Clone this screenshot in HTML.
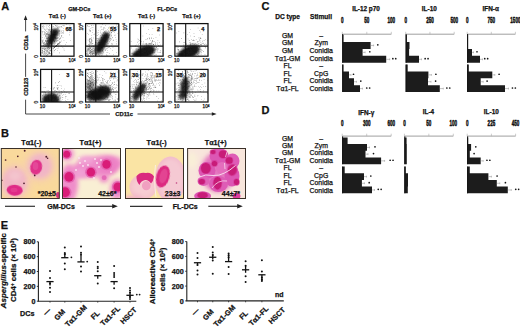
<!DOCTYPE html>
<html><head><meta charset="utf-8"><style>
html,body{margin:0;padding:0;background:#fff;}
body{width:520px;height:327px;overflow:hidden;}
svg{display:block;font-family:"Liberation Sans", sans-serif;}
text{stroke:#111;stroke-width:0.25px;}
</style></head><body>
<svg width="520" height="327" viewBox="0 0 520 327">
<rect width="520" height="327" fill="#fff"/>
<text x="1.30" y="9.90" font-size="11" font-weight="bold" text-anchor="start" fill="#111" >A</text>
<text x="1.00" y="137.00" font-size="11" font-weight="bold" text-anchor="start" fill="#111" >B</text>
<text x="0.80" y="228.80" font-size="11" font-weight="bold" text-anchor="start" fill="#111" >E</text>
<text x="261.60" y="10.30" font-size="11" font-weight="bold" text-anchor="start" fill="#111" >C</text>
<text x="261.60" y="114.20" font-size="11" font-weight="bold" text-anchor="start" fill="#111" >D</text>
<text x="79.30" y="10.80" font-size="5.6" font-weight="bold" text-anchor="middle" fill="#111" >GM-DCs</text>
<text x="167.20" y="10.80" font-size="5.6" font-weight="bold" text-anchor="middle" fill="#111" >FL-DCs</text>
<text x="57.30" y="18.20" font-size="5.6" font-weight="bold" text-anchor="middle" fill="#111" >T&#945;1 (-)</text>
<text x="102.20" y="18.20" font-size="5.6" font-weight="bold" text-anchor="middle" fill="#111" >T&#945;1 (+)</text>
<text x="146.45" y="18.20" font-size="5.6" font-weight="bold" text-anchor="middle" fill="#111" >T&#945;1 (-)</text>
<text x="191.45" y="18.20" font-size="5.6" font-weight="bold" text-anchor="middle" fill="#111" >T&#945;1 (+)</text>
<defs><filter id="sb1" x="-50%" y="-50%" width="200%" height="200%"><feGaussianBlur stdDeviation="0.9"/></filter><filter id="sb2" x="-50%" y="-50%" width="200%" height="200%"><feGaussianBlur stdDeviation="1.8"/></filter><clipPath id="ca00"><rect x="40.6" y="23.6" width="33.40" height="32.60"/></clipPath><clipPath id="ca01"><rect x="85.6" y="23.6" width="33.20" height="32.60"/></clipPath><clipPath id="ca02"><rect x="129.8" y="23.6" width="33.30" height="32.60"/></clipPath><clipPath id="ca03"><rect x="174.9" y="23.6" width="33.10" height="32.60"/></clipPath><clipPath id="ca10"><rect x="40.6" y="69.4" width="33.40" height="32.60"/></clipPath><clipPath id="ca11"><rect x="85.6" y="69.4" width="33.20" height="32.60"/></clipPath><clipPath id="ca12"><rect x="129.8" y="69.4" width="33.30" height="32.60"/></clipPath><clipPath id="ca13"><rect x="174.9" y="69.4" width="33.10" height="32.60"/></clipPath></defs>
<g clip-path="url(#ca00)">
<path d="M49.3 41.0h0.55v0.55h-0.55zM52.9 34.5h0.55v0.55h-0.55zM49.5 33.7h0.55v0.55h-0.55zM55.4 43.4h0.55v0.55h-0.55zM55.8 41.8h0.55v0.55h-0.55zM53.4 39.9h0.55v0.55h-0.55zM41.8 40.5h0.55v0.55h-0.55zM52.5 42.6h0.55v0.55h-0.55zM50.7 31.8h0.55v0.55h-0.55zM54.0 37.8h0.55v0.55h-0.55zM57.4 33.6h0.55v0.55h-0.55zM52.1 41.3h0.55v0.55h-0.55zM42.4 49.7h0.55v0.55h-0.55zM49.8 48.3h0.55v0.55h-0.55zM53.0 30.2h0.55v0.55h-0.55zM51.5 35.9h0.55v0.55h-0.55zM54.1 40.9h0.55v0.55h-0.55zM54.6 28.9h0.55v0.55h-0.55zM45.1 46.0h0.55v0.55h-0.55zM48.0 37.6h0.55v0.55h-0.55zM60.6 26.6h0.55v0.55h-0.55zM47.2 48.0h0.55v0.55h-0.55zM45.3 30.4h0.55v0.55h-0.55zM55.5 30.8h0.55v0.55h-0.55zM54.9 38.1h0.55v0.55h-0.55zM42.8 40.8h0.55v0.55h-0.55zM51.3 46.5h0.55v0.55h-0.55zM57.1 43.6h0.55v0.55h-0.55zM58.5 27.4h0.55v0.55h-0.55zM57.7 34.0h0.55v0.55h-0.55zM55.9 26.4h0.55v0.55h-0.55zM50.6 31.1h0.55v0.55h-0.55zM66.5 24.3h0.55v0.55h-0.55zM45.3 36.1h0.55v0.55h-0.55zM56.2 45.3h0.55v0.55h-0.55zM57.1 32.5h0.55v0.55h-0.55zM43.6 42.7h0.55v0.55h-0.55zM56.5 41.2h0.55v0.55h-0.55zM51.7 41.5h0.55v0.55h-0.55zM56.6 46.0h0.55v0.55h-0.55zM52.4 43.0h0.55v0.55h-0.55zM54.3 43.9h0.55v0.55h-0.55zM46.8 28.0h0.55v0.55h-0.55zM63.7 25.0h0.55v0.55h-0.55zM47.4 45.2h0.55v0.55h-0.55zM55.5 37.6h0.55v0.55h-0.55zM51.1 43.4h0.55v0.55h-0.55zM48.2 46.9h0.55v0.55h-0.55zM51.4 32.7h0.55v0.55h-0.55zM56.8 40.1h0.55v0.55h-0.55zM44.8 43.0h0.55v0.55h-0.55zM60.6 37.3h0.55v0.55h-0.55zM47.2 33.3h0.55v0.55h-0.55zM53.1 34.8h0.55v0.55h-0.55zM62.8 32.5h0.55v0.55h-0.55zM63.2 30.3h0.55v0.55h-0.55zM46.5 40.7h0.55v0.55h-0.55zM53.7 46.9h0.55v0.55h-0.55zM53.4 39.4h0.55v0.55h-0.55zM50.7 42.4h0.55v0.55h-0.55zM50.6 39.3h0.55v0.55h-0.55zM54.9 38.8h0.55v0.55h-0.55zM53.3 43.7h0.55v0.55h-0.55zM59.6 44.6h0.55v0.55h-0.55zM52.3 33.6h0.55v0.55h-0.55zM48.5 44.8h0.55v0.55h-0.55zM49.4 39.8h0.55v0.55h-0.55zM46.7 36.9h0.55v0.55h-0.55zM53.2 40.3h0.55v0.55h-0.55zM47.9 41.7h0.55v0.55h-0.55zM55.9 34.0h0.55v0.55h-0.55zM61.3 45.8h0.55v0.55h-0.55zM50.6 35.5h0.55v0.55h-0.55zM51.8 36.5h0.55v0.55h-0.55zM43.0 27.5h0.55v0.55h-0.55zM61.7 30.5h0.55v0.55h-0.55zM48.2 44.9h0.55v0.55h-0.55zM49.8 51.3h0.55v0.55h-0.55zM46.8 30.9h0.55v0.55h-0.55zM48.4 41.7h0.55v0.55h-0.55zM63.2 28.5h0.55v0.55h-0.55zM61.7 27.2h0.55v0.55h-0.55zM48.2 47.4h0.55v0.55h-0.55zM51.1 38.7h0.55v0.55h-0.55zM55.3 40.4h0.55v0.55h-0.55zM45.6 49.5h0.55v0.55h-0.55zM58.2 37.5h0.55v0.55h-0.55zM69.0 34.6h0.55v0.55h-0.55zM57.5 37.4h0.55v0.55h-0.55zM50.1 43.4h0.55v0.55h-0.55zM50.7 43.1h0.55v0.55h-0.55zM59.2 31.2h0.55v0.55h-0.55zM54.7 46.3h0.55v0.55h-0.55zM62.7 33.4h0.55v0.55h-0.55zM57.3 28.4h0.55v0.55h-0.55zM49.0 51.9h0.55v0.55h-0.55zM42.1 47.9h0.55v0.55h-0.55zM57.4 38.3h0.55v0.55h-0.55zM54.6 32.5h0.55v0.55h-0.55zM52.5 41.7h0.55v0.55h-0.55zM63.2 32.8h0.55v0.55h-0.55zM51.0 51.9h0.55v0.55h-0.55zM59.4 39.3h0.55v0.55h-0.55zM45.0 43.9h0.55v0.55h-0.55zM52.5 38.7h0.55v0.55h-0.55zM59.6 38.6h0.55v0.55h-0.55zM44.4 29.2h0.55v0.55h-0.55zM56.4 33.4h0.55v0.55h-0.55zM48.9 44.1h0.55v0.55h-0.55zM47.2 48.2h0.55v0.55h-0.55zM47.8 45.6h0.55v0.55h-0.55zM52.0 53.7h0.55v0.55h-0.55zM45.9 43.0h0.55v0.55h-0.55zM49.1 24.7h0.55v0.55h-0.55zM47.3 34.6h0.55v0.55h-0.55zM51.8 36.8h0.55v0.55h-0.55zM49.0 38.0h0.55v0.55h-0.55zM59.9 41.9h0.55v0.55h-0.55zM50.5 46.6h0.55v0.55h-0.55zM57.0 27.0h0.55v0.55h-0.55zM45.6 44.8h0.55v0.55h-0.55zM48.0 29.0h0.55v0.55h-0.55zM53.4 46.1h0.55v0.55h-0.55zM49.1 43.9h0.55v0.55h-0.55zM58.2 28.5h0.55v0.55h-0.55zM48.6 28.9h0.55v0.55h-0.55zM58.8 35.1h0.55v0.55h-0.55zM51.9 29.3h0.55v0.55h-0.55zM46.5 33.1h0.55v0.55h-0.55zM46.0 37.7h0.55v0.55h-0.55zM56.7 36.9h0.55v0.55h-0.55zM46.7 25.5h0.55v0.55h-0.55zM55.7 34.5h0.55v0.55h-0.55zM52.6 45.2h0.55v0.55h-0.55zM53.9 41.6h0.55v0.55h-0.55zM55.4 45.7h0.55v0.55h-0.55zM50.8 49.9h0.55v0.55h-0.55zM53.2 33.1h0.55v0.55h-0.55zM68.2 27.9h0.55v0.55h-0.55zM45.7 40.9h0.55v0.55h-0.55zM61.0 40.8h0.55v0.55h-0.55zM51.1 45.9h0.55v0.55h-0.55zM49.0 34.8h0.55v0.55h-0.55zM50.3 44.7h0.55v0.55h-0.55zM53.2 35.9h0.55v0.55h-0.55zM49.7 32.4h0.55v0.55h-0.55zM55.8 40.3h0.55v0.55h-0.55zM52.4 28.9h0.55v0.55h-0.55zM59.0 52.6h0.55v0.55h-0.55zM53.1 42.7h0.55v0.55h-0.55zM57.8 44.7h0.55v0.55h-0.55zM50.0 41.5h0.55v0.55h-0.55zM56.8 32.7h0.55v0.55h-0.55zM50.5 54.9h0.55v0.55h-0.55zM49.4 29.0h0.55v0.55h-0.55zM53.0 39.6h0.55v0.55h-0.55zM54.9 28.9h0.55v0.55h-0.55zM57.1 50.5h0.55v0.55h-0.55zM55.5 49.2h0.55v0.55h-0.55zM56.8 48.0h0.55v0.55h-0.55zM47.7 37.6h0.55v0.55h-0.55zM46.5 26.7h0.55v0.55h-0.55zM50.0 41.5h0.55v0.55h-0.55zM49.9 34.9h0.55v0.55h-0.55zM52.9 41.5h0.55v0.55h-0.55zM54.3 40.6h0.55v0.55h-0.55zM47.8 43.0h0.55v0.55h-0.55zM56.2 31.0h0.55v0.55h-0.55zM49.8 36.1h0.55v0.55h-0.55zM51.4 38.5h0.55v0.55h-0.55zM51.8 38.9h0.55v0.55h-0.55zM57.2 27.2h0.55v0.55h-0.55zM49.8 46.8h0.55v0.55h-0.55zM55.1 37.0h0.55v0.55h-0.55zM58.5 30.8h0.55v0.55h-0.55zM44.2 33.7h0.55v0.55h-0.55zM45.4 41.3h0.55v0.55h-0.55zM41.4 47.7h0.55v0.55h-0.55zM56.7 25.8h0.55v0.55h-0.55zM47.1 39.9h0.55v0.55h-0.55zM53.9 40.0h0.55v0.55h-0.55zM55.8 46.5h0.55v0.55h-0.55zM49.9 42.2h0.55v0.55h-0.55zM55.4 48.9h0.55v0.55h-0.55zM61.4 31.2h0.55v0.55h-0.55zM48.8 43.0h0.55v0.55h-0.55zM46.7 45.3h0.55v0.55h-0.55zM51.2 46.1h0.55v0.55h-0.55zM58.7 38.6h0.55v0.55h-0.55zM47.4 43.7h0.55v0.55h-0.55zM56.6 39.8h0.55v0.55h-0.55zM46.8 36.4h0.55v0.55h-0.55zM49.2 47.3h0.55v0.55h-0.55zM55.7 39.5h0.55v0.55h-0.55zM53.8 43.7h0.55v0.55h-0.55zM53.1 38.4h0.55v0.55h-0.55zM48.6 42.4h0.55v0.55h-0.55zM50.7 30.1h0.55v0.55h-0.55zM58.7 25.9h0.55v0.55h-0.55zM47.2 40.5h0.55v0.55h-0.55zM55.1 38.3h0.55v0.55h-0.55zM57.5 25.7h0.55v0.55h-0.55zM58.1 45.7h0.55v0.55h-0.55zM60.9 33.0h0.55v0.55h-0.55zM51.9 46.7h0.55v0.55h-0.55zM44.7 32.8h0.55v0.55h-0.55zM62.6 24.9h0.55v0.55h-0.55zM49.3 24.9h0.55v0.55h-0.55zM55.8 24.9h0.55v0.55h-0.55zM51.6 39.6h0.55v0.55h-0.55zM52.2 44.5h0.55v0.55h-0.55zM53.9 50.1h0.55v0.55h-0.55zM49.1 30.5h0.55v0.55h-0.55zM52.6 26.6h0.55v0.55h-0.55zM52.1 37.4h0.55v0.55h-0.55zM61.3 26.0h0.55v0.55h-0.55zM47.4 34.5h0.55v0.55h-0.55zM53.0 34.6h0.55v0.55h-0.55zM55.4 31.3h0.55v0.55h-0.55zM54.0 41.9h0.55v0.55h-0.55zM55.0 32.0h0.55v0.55h-0.55zM48.2 35.6h0.55v0.55h-0.55zM45.3 35.7h0.55v0.55h-0.55zM58.9 26.9h0.55v0.55h-0.55zM52.8 34.4h0.55v0.55h-0.55zM51.9 43.4h0.55v0.55h-0.55zM55.9 30.7h0.55v0.55h-0.55zM52.2 36.7h0.55v0.55h-0.55zM54.4 41.5h0.55v0.55h-0.55zM55.2 25.1h0.55v0.55h-0.55zM54.0 30.8h0.55v0.55h-0.55zM48.3 34.1h0.55v0.55h-0.55zM50.0 37.2h0.55v0.55h-0.55zM56.5 35.4h0.55v0.55h-0.55zM63.7 40.2h0.55v0.55h-0.55zM56.7 40.9h0.55v0.55h-0.55zM48.3 37.8h0.55v0.55h-0.55zM48.5 48.4h0.55v0.55h-0.55zM51.7 46.8h0.55v0.55h-0.55zM55.3 37.4h0.55v0.55h-0.55zM59.2 30.1h0.55v0.55h-0.55zM61.8 32.1h0.55v0.55h-0.55zM44.6 54.9h0.55v0.55h-0.55zM51.5 37.2h0.55v0.55h-0.55zM57.3 40.3h0.55v0.55h-0.55zM48.0 37.7h0.55v0.55h-0.55zM52.0 44.5h0.55v0.55h-0.55zM41.8 49.7h0.55v0.55h-0.55zM59.5 41.4h0.55v0.55h-0.55zM55.4 34.7h0.55v0.55h-0.55zM61.5 35.1h0.55v0.55h-0.55zM57.4 35.2h0.55v0.55h-0.55zM46.5 41.6h0.55v0.55h-0.55zM58.2 40.4h0.55v0.55h-0.55zM46.2 42.4h0.55v0.55h-0.55zM51.0 39.9h0.55v0.55h-0.55zM54.2 49.9h0.55v0.55h-0.55zM49.2 43.8h0.55v0.55h-0.55zM49.9 35.7h0.55v0.55h-0.55zM63.4 30.9h0.55v0.55h-0.55zM59.4 36.5h0.55v0.55h-0.55zM53.6 34.9h0.55v0.55h-0.55zM56.6 28.6h0.55v0.55h-0.55zM58.7 26.1h0.55v0.55h-0.55zM50.9 39.8h0.55v0.55h-0.55zM55.5 36.7h0.55v0.55h-0.55zM48.0 36.7h0.55v0.55h-0.55zM43.8 48.9h0.55v0.55h-0.55zM56.2 38.3h0.55v0.55h-0.55zM53.5 30.9h0.55v0.55h-0.55zM50.0 32.6h0.55v0.55h-0.55zM51.6 42.3h0.55v0.55h-0.55zM46.0 55.5h0.55v0.55h-0.55zM49.5 36.0h0.55v0.55h-0.55zM72.2 29.0h0.55v0.55h-0.55zM49.6 37.7h0.55v0.55h-0.55zM51.4 41.1h0.55v0.55h-0.55zM49.9 39.9h0.55v0.55h-0.55zM49.5 43.7h0.55v0.55h-0.55zM48.2 26.2h0.55v0.55h-0.55zM56.9 29.3h0.55v0.55h-0.55zM45.4 40.1h0.55v0.55h-0.55zM47.1 41.1h0.55v0.55h-0.55zM54.4 41.6h0.55v0.55h-0.55zM55.1 37.8h0.55v0.55h-0.55zM46.7 34.1h0.55v0.55h-0.55zM56.7 34.3h0.55v0.55h-0.55zM48.9 43.2h0.55v0.55h-0.55zM46.1 40.6h0.55v0.55h-0.55zM62.7 37.3h0.55v0.55h-0.55zM53.8 36.6h0.55v0.55h-0.55zM57.7 43.5h0.55v0.55h-0.55zM59.2 34.0h0.55v0.55h-0.55zM52.5 37.4h0.55v0.55h-0.55zM63.7 25.6h0.55v0.55h-0.55zM56.2 38.1h0.55v0.55h-0.55zM52.9 41.4h0.55v0.55h-0.55zM47.0 32.4h0.55v0.55h-0.55zM61.3 36.3h0.55v0.55h-0.55zM53.9 24.4h0.55v0.55h-0.55zM45.9 37.4h0.55v0.55h-0.55zM57.9 44.7h0.55v0.55h-0.55zM53.1 31.0h0.55v0.55h-0.55zM52.4 43.0h0.55v0.55h-0.55zM53.1 25.9h0.55v0.55h-0.55zM52.7 40.1h0.55v0.55h-0.55zM47.8 32.9h0.55v0.55h-0.55zM48.3 39.9h0.55v0.55h-0.55zM52.4 36.6h0.55v0.55h-0.55zM46.6 45.1h0.55v0.55h-0.55zM59.9 37.7h0.55v0.55h-0.55zM59.3 33.4h0.55v0.55h-0.55zM49.6 43.6h0.55v0.55h-0.55zM60.5 37.9h0.55v0.55h-0.55zM51.4 38.9h0.55v0.55h-0.55zM46.1 34.3h0.55v0.55h-0.55zM48.1 38.9h0.55v0.55h-0.55zM51.6 39.7h0.55v0.55h-0.55zM46.4 43.3h0.55v0.55h-0.55zM53.9 32.1h0.55v0.55h-0.55zM61.2 26.1h0.55v0.55h-0.55zM49.7 35.8h0.55v0.55h-0.55zM56.8 38.1h0.55v0.55h-0.55zM56.6 33.0h0.55v0.55h-0.55zM46.8 51.4h0.55v0.55h-0.55zM49.7 36.2h0.55v0.55h-0.55zM48.9 46.0h0.55v0.55h-0.55zM51.7 45.2h0.55v0.55h-0.55zM52.3 40.0h0.55v0.55h-0.55zM54.9 42.5h0.55v0.55h-0.55zM51.8 39.3h0.55v0.55h-0.55zM48.8 45.4h0.55v0.55h-0.55zM46.0 46.2h0.55v0.55h-0.55zM44.3 42.1h0.55v0.55h-0.55zM43.8 52.5h0.55v0.55h-0.55zM46.1 48.5h0.55v0.55h-0.55zM45.4 54.4h0.55v0.55h-0.55zM47.7 47.0h0.55v0.55h-0.55zM48.3 46.9h0.55v0.55h-0.55zM47.6 41.3h0.55v0.55h-0.55zM49.8 50.4h0.55v0.55h-0.55zM47.2 54.2h0.55v0.55h-0.55zM46.7 47.0h0.55v0.55h-0.55zM46.1 46.0h0.55v0.55h-0.55zM47.2 48.5h0.55v0.55h-0.55zM48.4 45.4h0.55v0.55h-0.55zM45.9 33.0h0.55v0.55h-0.55zM44.5 52.7h0.55v0.55h-0.55zM50.7 45.5h0.55v0.55h-0.55zM44.9 53.1h0.55v0.55h-0.55zM51.9 48.3h0.55v0.55h-0.55zM50.3 43.0h0.55v0.55h-0.55zM46.7 47.5h0.55v0.55h-0.55zM54.4 43.3h0.55v0.55h-0.55zM44.0 51.5h0.55v0.55h-0.55zM42.3 51.5h0.55v0.55h-0.55zM48.0 46.1h0.55v0.55h-0.55zM47.9 37.2h0.55v0.55h-0.55zM48.7 37.2h0.55v0.55h-0.55zM43.6 44.1h0.55v0.55h-0.55zM44.6 54.0h0.55v0.55h-0.55zM46.3 45.2h0.55v0.55h-0.55zM46.0 50.6h0.55v0.55h-0.55zM50.3 49.9h0.55v0.55h-0.55zM53.7 34.1h0.55v0.55h-0.55zM45.9 50.9h0.55v0.55h-0.55zM49.4 52.7h0.55v0.55h-0.55zM45.0 40.6h0.55v0.55h-0.55zM46.4 55.2h0.55v0.55h-0.55zM42.2 40.8h0.55v0.55h-0.55zM45.9 34.4h0.55v0.55h-0.55zM45.1 44.9h0.55v0.55h-0.55zM47.6 43.1h0.55v0.55h-0.55zM42.9 45.2h0.55v0.55h-0.55zM45.8 43.3h0.55v0.55h-0.55zM46.0 53.3h0.55v0.55h-0.55zM43.3 45.1h0.55v0.55h-0.55zM43.5 47.8h0.55v0.55h-0.55zM47.8 38.5h0.55v0.55h-0.55zM47.6 47.8h0.55v0.55h-0.55zM50.2 34.9h0.55v0.55h-0.55zM48.8 49.5h0.55v0.55h-0.55zM47.7 51.1h0.55v0.55h-0.55zM50.6 46.4h0.55v0.55h-0.55zM49.1 45.1h0.55v0.55h-0.55zM48.5 42.3h0.55v0.55h-0.55zM47.6 46.9h0.55v0.55h-0.55zM42.0 42.5h0.55v0.55h-0.55zM46.7 54.6h0.55v0.55h-0.55zM47.5 51.7h0.55v0.55h-0.55zM44.6 44.2h0.55v0.55h-0.55zM49.1 48.4h0.55v0.55h-0.55zM45.0 44.0h0.55v0.55h-0.55zM45.1 52.4h0.55v0.55h-0.55zM47.2 39.5h0.55v0.55h-0.55zM47.5 49.3h0.55v0.55h-0.55zM42.5 53.4h0.55v0.55h-0.55zM45.0 45.7h0.55v0.55h-0.55zM43.6 51.1h0.55v0.55h-0.55zM43.7 53.7h0.55v0.55h-0.55zM53.8 30.2h0.55v0.55h-0.55zM44.5 51.5h0.55v0.55h-0.55zM45.7 43.3h0.55v0.55h-0.55zM53.5 48.6h0.55v0.55h-0.55zM44.0 49.0h0.55v0.55h-0.55zM50.4 48.8h0.55v0.55h-0.55zM50.1 53.2h0.55v0.55h-0.55zM43.1 54.0h0.55v0.55h-0.55zM47.7 52.5h0.55v0.55h-0.55zM49.2 53.1h0.55v0.55h-0.55zM49.1 30.8h0.55v0.55h-0.55zM46.6 51.4h0.55v0.55h-0.55zM54.9 41.3h0.55v0.55h-0.55zM44.8 48.3h0.55v0.55h-0.55zM49.1 44.9h0.55v0.55h-0.55zM50.0 42.5h0.55v0.55h-0.55zM46.9 44.3h0.55v0.55h-0.55zM46.6 43.2h0.55v0.55h-0.55zM47.1 44.1h0.55v0.55h-0.55zM46.7 54.9h0.55v0.55h-0.55zM42.6 47.2h0.55v0.55h-0.55zM47.9 51.7h0.55v0.55h-0.55zM44.8 33.3h0.55v0.55h-0.55zM50.4 50.3h0.55v0.55h-0.55zM46.0 46.1h0.55v0.55h-0.55zM46.9 45.0h0.55v0.55h-0.55zM42.4 42.8h0.55v0.55h-0.55zM43.9 43.7h0.55v0.55h-0.55zM41.9 52.5h0.55v0.55h-0.55zM41.4 52.6h0.55v0.55h-0.55zM42.4 50.5h0.55v0.55h-0.55zM50.8 49.4h0.55v0.55h-0.55zM43.4 48.3h0.55v0.55h-0.55zM46.5 35.9h0.55v0.55h-0.55zM43.9 49.1h0.55v0.55h-0.55zM44.4 48.6h0.55v0.55h-0.55zM48.6 53.4h0.55v0.55h-0.55zM49.2 52.1h0.55v0.55h-0.55zM45.0 47.9h0.55v0.55h-0.55zM45.1 45.8h0.55v0.55h-0.55zM45.4 35.9h0.55v0.55h-0.55zM44.8 47.8h0.55v0.55h-0.55zM42.6 47.8h0.55v0.55h-0.55zM47.8 46.8h0.55v0.55h-0.55zM53.3 29.8h0.55v0.55h-0.55zM45.3 35.2h0.55v0.55h-0.55zM47.8 45.9h0.55v0.55h-0.55zM47.9 32.3h0.55v0.55h-0.55zM49.0 50.6h0.55v0.55h-0.55zM46.1 43.9h0.55v0.55h-0.55zM48.2 44.6h0.55v0.55h-0.55zM46.8 44.4h0.55v0.55h-0.55zM46.7 53.3h0.55v0.55h-0.55zM42.9 47.8h0.55v0.55h-0.55zM48.2 49.0h0.55v0.55h-0.55zM42.8 34.6h0.55v0.55h-0.55zM49.2 53.7h0.55v0.55h-0.55zM43.8 43.0h0.55v0.55h-0.55zM49.1 41.6h0.55v0.55h-0.55zM43.6 42.9h0.55v0.55h-0.55zM46.8 42.8h0.55v0.55h-0.55zM50.6 47.5h0.55v0.55h-0.55zM44.0 49.5h0.55v0.55h-0.55zM46.0 45.8h0.55v0.55h-0.55zM47.1 43.2h0.55v0.55h-0.55zM41.6 42.7h0.55v0.55h-0.55zM45.9 48.4h0.55v0.55h-0.55zM47.9 48.8h0.55v0.55h-0.55zM43.2 43.0h0.55v0.55h-0.55zM47.7 51.7h0.55v0.55h-0.55zM45.6 46.8h0.55v0.55h-0.55zM49.3 48.1h0.55v0.55h-0.55zM48.6 52.1h0.55v0.55h-0.55zM44.0 45.5h0.55v0.55h-0.55zM43.2 42.4h0.55v0.55h-0.55zM46.1 52.0h0.55v0.55h-0.55zM50.1 53.7h0.55v0.55h-0.55zM50.2 39.2h0.55v0.55h-0.55zM43.8 51.2h0.55v0.55h-0.55zM51.0 48.7h0.55v0.55h-0.55zM46.5 35.5h0.55v0.55h-0.55zM47.2 38.3h0.55v0.55h-0.55zM49.7 47.1h0.55v0.55h-0.55zM43.9 52.3h0.55v0.55h-0.55zM42.2 41.0h0.55v0.55h-0.55zM45.2 32.0h0.55v0.55h-0.55zM42.3 48.5h0.55v0.55h-0.55zM41.9 41.5h0.55v0.55h-0.55zM49.7 29.1h0.55v0.55h-0.55zM43.5 43.3h0.55v0.55h-0.55zM46.1 44.3h0.55v0.55h-0.55zM48.6 30.1h0.55v0.55h-0.55zM44.4 33.9h0.55v0.55h-0.55zM42.2 51.8h0.55v0.55h-0.55zM48.4 46.5h0.55v0.55h-0.55zM41.9 50.5h0.55v0.55h-0.55zM48.1 38.9h0.55v0.55h-0.55zM48.0 38.6h0.55v0.55h-0.55zM43.7 28.0h0.55v0.55h-0.55zM43.8 26.0h0.55v0.55h-0.55zM44.6 47.6h0.55v0.55h-0.55zM47.6 50.5h0.55v0.55h-0.55zM47.8 32.9h0.55v0.55h-0.55zM46.5 38.1h0.55v0.55h-0.55zM48.4 40.7h0.55v0.55h-0.55zM44.0 44.3h0.55v0.55h-0.55zM49.9 31.4h0.55v0.55h-0.55zM49.2 25.3h0.55v0.55h-0.55zM44.0 32.0h0.55v0.55h-0.55zM48.0 53.5h0.55v0.55h-0.55zM48.1 34.7h0.55v0.55h-0.55zM49.2 34.8h0.55v0.55h-0.55zM43.8 52.4h0.55v0.55h-0.55zM47.1 45.9h0.55v0.55h-0.55zM47.4 54.6h0.55v0.55h-0.55zM45.7 50.3h0.55v0.55h-0.55zM47.7 50.9h0.55v0.55h-0.55zM45.5 46.8h0.55v0.55h-0.55zM46.6 34.2h0.55v0.55h-0.55zM43.6 43.7h0.55v0.55h-0.55zM42.5 52.5h0.55v0.55h-0.55zM43.0 25.6h0.55v0.55h-0.55zM42.7 53.0h0.55v0.55h-0.55zM44.7 29.1h0.55v0.55h-0.55zM42.0 26.1h0.55v0.55h-0.55zM47.6 44.1h0.55v0.55h-0.55zM47.7 47.2h0.55v0.55h-0.55zM42.4 42.8h0.55v0.55h-0.55zM44.9 49.7h0.55v0.55h-0.55zM48.7 51.9h0.55v0.55h-0.55zM42.4 51.2h0.55v0.55h-0.55zM49.5 53.5h0.55v0.55h-0.55zM42.7 31.1h0.55v0.55h-0.55zM42.7 25.8h0.55v0.55h-0.55zM48.9 49.5h0.55v0.55h-0.55zM47.1 49.9h0.55v0.55h-0.55zM47.1 33.5h0.55v0.55h-0.55zM42.6 27.8h0.55v0.55h-0.55zM48.2 31.0h0.55v0.55h-0.55zM44.5 37.7h0.55v0.55h-0.55zM42.0 32.6h0.55v0.55h-0.55zM44.2 46.6h0.55v0.55h-0.55zM44.9 34.6h0.55v0.55h-0.55zM49.9 40.1h0.55v0.55h-0.55zM49.0 43.6h0.55v0.55h-0.55zM42.1 37.4h0.55v0.55h-0.55zM45.5 48.3h0.55v0.55h-0.55zM44.7 46.2h0.55v0.55h-0.55zM46.3 31.4h0.55v0.55h-0.55zM49.0 27.6h0.55v0.55h-0.55zM48.7 30.0h0.55v0.55h-0.55zM41.8 30.9h0.55v0.55h-0.55zM48.2 54.5h0.55v0.55h-0.55zM41.8 39.7h0.55v0.55h-0.55zM45.9 49.0h0.55v0.55h-0.55zM43.3 39.8h0.55v0.55h-0.55zM44.7 50.1h0.55v0.55h-0.55zM44.0 53.5h0.55v0.55h-0.55zM44.2 31.3h0.55v0.55h-0.55zM47.7 39.9h0.55v0.55h-0.55zM45.3 44.2h0.55v0.55h-0.55zM44.3 48.8h0.55v0.55h-0.55zM63.7 48.7h0.55v0.55h-0.55zM61.5 35.6h0.55v0.55h-0.55zM54.4 36.8h0.55v0.55h-0.55zM69.8 27.4h0.55v0.55h-0.55zM69.7 25.6h0.55v0.55h-0.55zM48.3 32.8h0.55v0.55h-0.55zM70.1 40.0h0.55v0.55h-0.55zM53.7 51.7h0.55v0.55h-0.55zM49.1 38.8h0.55v0.55h-0.55zM58.5 47.7h0.55v0.55h-0.55zM65.4 44.4h0.55v0.55h-0.55zM52.7 34.7h0.55v0.55h-0.55zM46.7 50.4h0.55v0.55h-0.55zM62.6 47.4h0.55v0.55h-0.55zM47.1 38.1h0.55v0.55h-0.55zM66.1 42.4h0.55v0.55h-0.55zM45.8 38.8h0.55v0.55h-0.55zM69.6 32.0h0.55v0.55h-0.55zM47.8 34.0h0.55v0.55h-0.55zM63.9 50.4h0.55v0.55h-0.55zM46.7 29.5h0.55v0.55h-0.55zM49.6 34.7h0.55v0.55h-0.55zM58.2 29.7h0.55v0.55h-0.55z" fill="#222" fill-opacity="0.7"/>
<ellipse cx="52.5" cy="37.2" rx="3.9" ry="7.8" transform="rotate(28 52.5 37.2)" fill="#111" fill-opacity="0.97" filter="url(#sb1)"/>
<ellipse cx="55.2" cy="31.6" rx="4.2" ry="3.0" transform="rotate(0 55.2 31.6)" fill="#111" fill-opacity="0.75" filter="url(#sb1)"/>
<ellipse cx="49.2" cy="44" rx="2.4" ry="3.0" transform="rotate(20 49.2 44)" fill="#111" fill-opacity="0.7" filter="url(#sb1)"/>
</g>
<line x1="53.5" y1="48.2" x2="60.4" y2="42.2" stroke="#222" stroke-width="0.8"/>
<rect x="40.6" y="23.6" width="33.40" height="32.60" fill="none" stroke="#111" stroke-width="1.25"/>
<line x1="51.6" y1="23.6" x2="51.6" y2="56.2" stroke="#111" stroke-width="1.1"/>
<line x1="40.6" y1="46.1" x2="74.0" y2="46.1" stroke="#111" stroke-width="1.1"/>
<text x="68.50" y="31.20" font-size="5.6" font-weight="bold" text-anchor="middle" fill="#111" >68</text>
<text transform="translate(37.60,26.90) rotate(-90)" font-size="4.9" font-weight="normal" text-anchor="middle" fill="#111">10<tspan font-size="3.2" dy="-1.7">4</tspan></text>
<text transform="translate(37.80,56.40) rotate(-90)" font-size="4.9" font-weight="normal" text-anchor="middle" fill="#111">0</text>
<text x="42.40" y="62.40" font-size="4.7" font-weight="normal" text-anchor="middle" fill="#111" >10</text>
<text x="72.00" y="62.40" font-size="4.7" text-anchor="middle" fill="#111">10<tspan font-size="3.0" dy="-1.7">4</tspan></text>
<g clip-path="url(#ca01)">
<path d="M97.8 48.1h0.55v0.55h-0.55zM111.0 43.5h0.55v0.55h-0.55zM102.5 50.8h0.55v0.55h-0.55zM111.4 44.7h0.55v0.55h-0.55zM108.2 30.5h0.55v0.55h-0.55zM102.4 48.4h0.55v0.55h-0.55zM100.6 43.9h0.55v0.55h-0.55zM90.1 50.7h0.55v0.55h-0.55zM107.2 29.3h0.55v0.55h-0.55zM104.0 31.6h0.55v0.55h-0.55zM91.1 49.5h0.55v0.55h-0.55zM109.8 38.2h0.55v0.55h-0.55zM100.3 30.8h0.55v0.55h-0.55zM97.7 44.8h0.55v0.55h-0.55zM112.5 26.1h0.55v0.55h-0.55zM113.6 31.3h0.55v0.55h-0.55zM104.5 31.4h0.55v0.55h-0.55zM92.5 55.6h0.55v0.55h-0.55zM102.7 51.1h0.55v0.55h-0.55zM113.0 26.2h0.55v0.55h-0.55zM103.4 35.2h0.55v0.55h-0.55zM95.2 45.8h0.55v0.55h-0.55zM103.4 32.9h0.55v0.55h-0.55zM109.0 32.1h0.55v0.55h-0.55zM89.5 38.1h0.55v0.55h-0.55zM106.1 48.6h0.55v0.55h-0.55zM110.1 40.3h0.55v0.55h-0.55zM102.6 53.5h0.55v0.55h-0.55zM98.1 34.4h0.55v0.55h-0.55zM96.9 38.0h0.55v0.55h-0.55zM111.3 32.1h0.55v0.55h-0.55zM90.4 51.1h0.55v0.55h-0.55zM100.0 45.0h0.55v0.55h-0.55zM96.0 53.2h0.55v0.55h-0.55zM106.6 45.9h0.55v0.55h-0.55zM92.2 47.5h0.55v0.55h-0.55zM96.7 48.3h0.55v0.55h-0.55zM110.2 40.2h0.55v0.55h-0.55zM97.6 46.0h0.55v0.55h-0.55zM112.5 29.1h0.55v0.55h-0.55zM95.5 42.3h0.55v0.55h-0.55zM92.0 53.0h0.55v0.55h-0.55zM115.7 25.9h0.55v0.55h-0.55zM97.9 42.4h0.55v0.55h-0.55zM101.2 39.6h0.55v0.55h-0.55zM109.3 34.7h0.55v0.55h-0.55zM108.3 36.6h0.55v0.55h-0.55zM96.9 47.1h0.55v0.55h-0.55zM98.3 44.3h0.55v0.55h-0.55zM109.4 46.6h0.55v0.55h-0.55zM97.5 50.3h0.55v0.55h-0.55zM94.5 53.6h0.55v0.55h-0.55zM93.2 46.3h0.55v0.55h-0.55zM104.9 32.5h0.55v0.55h-0.55zM115.3 37.3h0.55v0.55h-0.55zM106.4 53.9h0.55v0.55h-0.55zM114.6 35.1h0.55v0.55h-0.55zM102.7 40.8h0.55v0.55h-0.55zM112.3 50.2h0.55v0.55h-0.55zM104.3 34.6h0.55v0.55h-0.55zM102.5 47.2h0.55v0.55h-0.55zM98.3 47.0h0.55v0.55h-0.55zM114.8 34.8h0.55v0.55h-0.55zM103.0 27.2h0.55v0.55h-0.55zM97.2 35.2h0.55v0.55h-0.55zM89.5 46.6h0.55v0.55h-0.55zM100.8 37.8h0.55v0.55h-0.55zM99.5 48.6h0.55v0.55h-0.55zM100.9 41.9h0.55v0.55h-0.55zM99.4 42.5h0.55v0.55h-0.55zM96.9 40.4h0.55v0.55h-0.55zM96.8 32.6h0.55v0.55h-0.55zM110.5 47.9h0.55v0.55h-0.55zM95.4 42.4h0.55v0.55h-0.55zM94.9 48.9h0.55v0.55h-0.55zM104.8 42.3h0.55v0.55h-0.55zM104.7 28.4h0.55v0.55h-0.55zM107.0 48.4h0.55v0.55h-0.55zM97.9 39.0h0.55v0.55h-0.55zM104.4 41.3h0.55v0.55h-0.55zM109.3 26.7h0.55v0.55h-0.55zM94.2 50.1h0.55v0.55h-0.55zM96.6 35.5h0.55v0.55h-0.55zM97.6 54.6h0.55v0.55h-0.55zM94.0 46.4h0.55v0.55h-0.55zM108.5 35.3h0.55v0.55h-0.55zM109.9 33.7h0.55v0.55h-0.55zM99.1 40.4h0.55v0.55h-0.55zM91.2 34.9h0.55v0.55h-0.55zM96.1 49.9h0.55v0.55h-0.55zM93.3 55.5h0.55v0.55h-0.55zM105.1 25.3h0.55v0.55h-0.55zM107.0 50.5h0.55v0.55h-0.55zM111.5 35.6h0.55v0.55h-0.55zM104.5 47.3h0.55v0.55h-0.55zM105.2 44.3h0.55v0.55h-0.55zM111.6 38.2h0.55v0.55h-0.55zM112.0 37.1h0.55v0.55h-0.55zM103.4 29.7h0.55v0.55h-0.55zM108.0 27.4h0.55v0.55h-0.55zM104.9 34.9h0.55v0.55h-0.55zM105.7 30.6h0.55v0.55h-0.55zM105.4 37.5h0.55v0.55h-0.55zM101.5 45.5h0.55v0.55h-0.55zM104.8 32.5h0.55v0.55h-0.55zM115.2 26.9h0.55v0.55h-0.55zM101.1 37.6h0.55v0.55h-0.55zM95.2 52.7h0.55v0.55h-0.55zM94.9 52.1h0.55v0.55h-0.55zM105.3 50.2h0.55v0.55h-0.55zM103.9 45.0h0.55v0.55h-0.55zM111.8 30.2h0.55v0.55h-0.55zM109.8 38.9h0.55v0.55h-0.55zM106.3 45.8h0.55v0.55h-0.55zM108.3 43.6h0.55v0.55h-0.55zM99.3 44.2h0.55v0.55h-0.55zM103.8 35.5h0.55v0.55h-0.55zM102.1 44.3h0.55v0.55h-0.55zM108.9 46.6h0.55v0.55h-0.55zM102.3 44.3h0.55v0.55h-0.55zM106.2 34.1h0.55v0.55h-0.55zM106.0 35.3h0.55v0.55h-0.55zM106.6 52.2h0.55v0.55h-0.55zM104.7 37.8h0.55v0.55h-0.55zM104.4 27.4h0.55v0.55h-0.55zM89.2 43.5h0.55v0.55h-0.55zM103.2 40.8h0.55v0.55h-0.55zM108.1 47.4h0.55v0.55h-0.55zM105.4 38.8h0.55v0.55h-0.55zM100.8 42.0h0.55v0.55h-0.55zM92.9 51.1h0.55v0.55h-0.55zM93.0 45.5h0.55v0.55h-0.55zM92.0 52.3h0.55v0.55h-0.55zM103.8 32.5h0.55v0.55h-0.55zM89.9 52.1h0.55v0.55h-0.55zM113.3 39.8h0.55v0.55h-0.55zM101.1 37.0h0.55v0.55h-0.55zM92.6 54.0h0.55v0.55h-0.55zM112.3 43.9h0.55v0.55h-0.55zM102.4 35.2h0.55v0.55h-0.55zM88.8 48.1h0.55v0.55h-0.55zM91.5 51.7h0.55v0.55h-0.55zM102.4 24.5h0.55v0.55h-0.55zM108.3 34.7h0.55v0.55h-0.55zM105.9 44.4h0.55v0.55h-0.55zM93.7 46.6h0.55v0.55h-0.55zM107.6 52.3h0.55v0.55h-0.55zM101.4 37.0h0.55v0.55h-0.55zM115.8 28.9h0.55v0.55h-0.55zM99.4 45.8h0.55v0.55h-0.55zM98.5 32.0h0.55v0.55h-0.55zM107.2 40.7h0.55v0.55h-0.55zM102.8 29.4h0.55v0.55h-0.55zM98.7 42.6h0.55v0.55h-0.55zM110.1 31.3h0.55v0.55h-0.55zM107.2 34.8h0.55v0.55h-0.55zM100.2 26.8h0.55v0.55h-0.55zM111.2 35.8h0.55v0.55h-0.55zM95.5 41.6h0.55v0.55h-0.55zM100.0 49.8h0.55v0.55h-0.55zM93.1 51.3h0.55v0.55h-0.55zM94.1 47.8h0.55v0.55h-0.55zM101.9 45.6h0.55v0.55h-0.55zM106.9 44.6h0.55v0.55h-0.55zM102.3 54.8h0.55v0.55h-0.55zM106.4 36.6h0.55v0.55h-0.55zM102.3 34.9h0.55v0.55h-0.55zM101.8 41.8h0.55v0.55h-0.55zM110.9 34.8h0.55v0.55h-0.55zM101.2 37.3h0.55v0.55h-0.55zM109.4 31.5h0.55v0.55h-0.55zM112.9 40.1h0.55v0.55h-0.55zM100.8 45.5h0.55v0.55h-0.55zM99.8 49.6h0.55v0.55h-0.55zM102.8 44.9h0.55v0.55h-0.55zM98.3 30.2h0.55v0.55h-0.55zM88.5 43.9h0.55v0.55h-0.55zM105.0 41.1h0.55v0.55h-0.55zM102.3 34.2h0.55v0.55h-0.55zM105.5 31.7h0.55v0.55h-0.55zM98.9 43.3h0.55v0.55h-0.55zM101.1 45.7h0.55v0.55h-0.55zM96.9 52.7h0.55v0.55h-0.55zM117.6 32.9h0.55v0.55h-0.55zM104.8 40.0h0.55v0.55h-0.55zM113.1 26.4h0.55v0.55h-0.55zM103.7 45.9h0.55v0.55h-0.55zM105.3 33.3h0.55v0.55h-0.55zM101.6 29.1h0.55v0.55h-0.55zM102.4 50.1h0.55v0.55h-0.55zM99.4 48.1h0.55v0.55h-0.55zM99.4 41.9h0.55v0.55h-0.55zM99.4 48.7h0.55v0.55h-0.55zM103.0 40.8h0.55v0.55h-0.55zM105.7 35.1h0.55v0.55h-0.55zM109.3 53.4h0.55v0.55h-0.55zM117.8 28.6h0.55v0.55h-0.55zM100.7 53.4h0.55v0.55h-0.55zM112.8 31.3h0.55v0.55h-0.55zM97.1 43.4h0.55v0.55h-0.55zM110.7 32.4h0.55v0.55h-0.55zM103.2 37.2h0.55v0.55h-0.55zM100.8 46.4h0.55v0.55h-0.55zM108.5 28.2h0.55v0.55h-0.55zM96.0 53.6h0.55v0.55h-0.55zM100.6 50.8h0.55v0.55h-0.55zM109.1 35.2h0.55v0.55h-0.55zM99.1 55.0h0.55v0.55h-0.55zM106.9 55.4h0.55v0.55h-0.55zM104.5 35.1h0.55v0.55h-0.55zM98.2 41.9h0.55v0.55h-0.55zM98.4 49.8h0.55v0.55h-0.55zM112.7 47.5h0.55v0.55h-0.55zM102.7 49.3h0.55v0.55h-0.55zM104.9 40.8h0.55v0.55h-0.55zM106.8 33.1h0.55v0.55h-0.55zM103.4 42.7h0.55v0.55h-0.55zM108.9 33.8h0.55v0.55h-0.55zM102.4 43.1h0.55v0.55h-0.55zM111.4 32.2h0.55v0.55h-0.55zM98.6 54.3h0.55v0.55h-0.55zM107.3 39.8h0.55v0.55h-0.55zM101.7 38.7h0.55v0.55h-0.55zM105.6 35.0h0.55v0.55h-0.55zM103.0 45.6h0.55v0.55h-0.55zM102.8 32.2h0.55v0.55h-0.55zM98.1 49.7h0.55v0.55h-0.55zM103.2 28.5h0.55v0.55h-0.55zM111.9 30.2h0.55v0.55h-0.55zM100.9 46.6h0.55v0.55h-0.55zM108.0 31.0h0.55v0.55h-0.55zM104.2 38.7h0.55v0.55h-0.55zM108.9 34.0h0.55v0.55h-0.55zM117.1 26.6h0.55v0.55h-0.55zM101.7 42.2h0.55v0.55h-0.55zM110.3 38.0h0.55v0.55h-0.55zM108.2 37.5h0.55v0.55h-0.55zM98.1 46.4h0.55v0.55h-0.55zM92.7 51.1h0.55v0.55h-0.55zM107.6 45.7h0.55v0.55h-0.55zM95.1 44.3h0.55v0.55h-0.55zM116.8 24.2h0.55v0.55h-0.55zM90.4 52.1h0.55v0.55h-0.55zM106.3 55.3h0.55v0.55h-0.55zM109.4 41.5h0.55v0.55h-0.55zM97.7 38.5h0.55v0.55h-0.55zM101.9 41.5h0.55v0.55h-0.55zM106.4 42.5h0.55v0.55h-0.55zM100.9 47.6h0.55v0.55h-0.55zM104.0 44.5h0.55v0.55h-0.55zM105.3 35.1h0.55v0.55h-0.55zM107.6 47.3h0.55v0.55h-0.55zM101.0 33.8h0.55v0.55h-0.55zM104.5 37.3h0.55v0.55h-0.55zM114.1 32.2h0.55v0.55h-0.55zM103.8 45.2h0.55v0.55h-0.55zM97.0 40.3h0.55v0.55h-0.55zM99.1 47.8h0.55v0.55h-0.55zM98.7 44.8h0.55v0.55h-0.55zM101.5 26.6h0.55v0.55h-0.55zM106.0 35.9h0.55v0.55h-0.55zM95.0 48.0h0.55v0.55h-0.55zM111.4 32.6h0.55v0.55h-0.55zM108.4 33.0h0.55v0.55h-0.55zM97.4 52.6h0.55v0.55h-0.55zM116.3 24.7h0.55v0.55h-0.55zM105.2 49.6h0.55v0.55h-0.55zM116.0 41.0h0.55v0.55h-0.55zM96.4 54.1h0.55v0.55h-0.55zM103.8 33.2h0.55v0.55h-0.55zM101.3 40.8h0.55v0.55h-0.55zM94.9 45.3h0.55v0.55h-0.55zM104.5 44.6h0.55v0.55h-0.55zM111.9 42.9h0.55v0.55h-0.55zM111.5 39.5h0.55v0.55h-0.55zM104.4 41.0h0.55v0.55h-0.55zM103.9 34.6h0.55v0.55h-0.55zM105.2 33.7h0.55v0.55h-0.55zM96.3 30.8h0.55v0.55h-0.55zM103.2 35.4h0.55v0.55h-0.55zM98.6 38.5h0.55v0.55h-0.55zM107.4 41.6h0.55v0.55h-0.55zM101.4 55.0h0.55v0.55h-0.55zM109.5 41.6h0.55v0.55h-0.55zM95.4 54.5h0.55v0.55h-0.55zM100.8 39.9h0.55v0.55h-0.55zM102.0 47.5h0.55v0.55h-0.55zM95.5 52.7h0.55v0.55h-0.55zM97.5 50.1h0.55v0.55h-0.55zM103.4 52.3h0.55v0.55h-0.55zM112.5 31.4h0.55v0.55h-0.55zM100.3 32.6h0.55v0.55h-0.55zM95.3 43.0h0.55v0.55h-0.55zM103.0 32.4h0.55v0.55h-0.55zM97.2 49.5h0.55v0.55h-0.55zM92.9 50.0h0.55v0.55h-0.55zM106.2 45.5h0.55v0.55h-0.55zM107.9 37.4h0.55v0.55h-0.55zM100.1 35.5h0.55v0.55h-0.55zM101.6 46.4h0.55v0.55h-0.55zM93.6 47.9h0.55v0.55h-0.55zM94.2 52.5h0.55v0.55h-0.55zM92.9 52.8h0.55v0.55h-0.55zM96.5 49.3h0.55v0.55h-0.55zM92.8 54.0h0.55v0.55h-0.55zM92.8 46.6h0.55v0.55h-0.55zM90.6 44.4h0.55v0.55h-0.55zM91.2 46.5h0.55v0.55h-0.55zM92.2 44.9h0.55v0.55h-0.55zM92.6 49.9h0.55v0.55h-0.55zM91.2 50.7h0.55v0.55h-0.55zM91.5 45.7h0.55v0.55h-0.55zM87.7 49.2h0.55v0.55h-0.55zM92.5 43.1h0.55v0.55h-0.55zM88.3 48.6h0.55v0.55h-0.55zM87.3 52.3h0.55v0.55h-0.55zM90.5 47.7h0.55v0.55h-0.55zM87.6 54.2h0.55v0.55h-0.55zM88.7 53.3h0.55v0.55h-0.55zM92.6 43.4h0.55v0.55h-0.55zM87.2 51.0h0.55v0.55h-0.55zM92.2 54.1h0.55v0.55h-0.55zM93.8 55.1h0.55v0.55h-0.55zM89.7 50.2h0.55v0.55h-0.55zM93.7 49.3h0.55v0.55h-0.55zM94.7 44.6h0.55v0.55h-0.55zM93.3 50.3h0.55v0.55h-0.55zM92.1 51.1h0.55v0.55h-0.55zM87.2 49.1h0.55v0.55h-0.55zM96.3 47.7h0.55v0.55h-0.55zM86.8 50.5h0.55v0.55h-0.55zM89.6 47.4h0.55v0.55h-0.55zM88.1 55.2h0.55v0.55h-0.55zM89.1 46.6h0.55v0.55h-0.55zM93.8 53.3h0.55v0.55h-0.55zM87.4 54.0h0.55v0.55h-0.55zM94.9 50.0h0.55v0.55h-0.55zM86.4 53.1h0.55v0.55h-0.55zM94.2 50.9h0.55v0.55h-0.55zM92.5 54.1h0.55v0.55h-0.55zM97.5 50.0h0.55v0.55h-0.55zM89.3 50.8h0.55v0.55h-0.55zM95.2 47.2h0.55v0.55h-0.55zM95.6 40.0h0.55v0.55h-0.55zM93.8 48.3h0.55v0.55h-0.55zM92.6 53.8h0.55v0.55h-0.55zM86.9 50.7h0.55v0.55h-0.55zM91.8 53.3h0.55v0.55h-0.55zM87.7 47.0h0.55v0.55h-0.55zM90.3 50.1h0.55v0.55h-0.55zM94.0 51.1h0.55v0.55h-0.55zM93.5 46.6h0.55v0.55h-0.55zM89.9 48.7h0.55v0.55h-0.55zM86.6 51.1h0.55v0.55h-0.55zM87.8 49.1h0.55v0.55h-0.55zM92.5 52.6h0.55v0.55h-0.55zM91.1 49.1h0.55v0.55h-0.55zM92.7 52.4h0.55v0.55h-0.55zM91.5 51.2h0.55v0.55h-0.55zM91.4 47.5h0.55v0.55h-0.55zM90.3 47.3h0.55v0.55h-0.55zM92.3 53.8h0.55v0.55h-0.55zM88.2 49.2h0.55v0.55h-0.55zM87.7 52.2h0.55v0.55h-0.55zM97.9 53.8h0.55v0.55h-0.55zM86.5 53.1h0.55v0.55h-0.55zM91.0 52.2h0.55v0.55h-0.55zM97.2 47.7h0.55v0.55h-0.55zM92.2 47.9h0.55v0.55h-0.55zM91.2 55.0h0.55v0.55h-0.55zM90.5 48.2h0.55v0.55h-0.55zM91.1 53.5h0.55v0.55h-0.55zM89.6 53.0h0.55v0.55h-0.55zM93.9 50.4h0.55v0.55h-0.55zM89.4 50.3h0.55v0.55h-0.55zM87.6 50.2h0.55v0.55h-0.55zM89.9 51.8h0.55v0.55h-0.55zM89.4 53.4h0.55v0.55h-0.55zM92.0 54.0h0.55v0.55h-0.55zM91.1 52.1h0.55v0.55h-0.55zM89.4 47.9h0.55v0.55h-0.55zM93.3 52.7h0.55v0.55h-0.55zM91.9 49.2h0.55v0.55h-0.55zM91.7 48.8h0.55v0.55h-0.55zM88.5 50.9h0.55v0.55h-0.55zM89.2 51.6h0.55v0.55h-0.55zM90.3 48.0h0.55v0.55h-0.55zM94.8 47.9h0.55v0.55h-0.55zM89.2 53.2h0.55v0.55h-0.55zM89.1 49.3h0.55v0.55h-0.55zM92.2 49.5h0.55v0.55h-0.55zM86.6 50.6h0.55v0.55h-0.55zM87.2 54.9h0.55v0.55h-0.55zM88.2 49.6h0.55v0.55h-0.55zM89.9 52.1h0.55v0.55h-0.55zM94.5 54.3h0.55v0.55h-0.55zM88.3 54.6h0.55v0.55h-0.55zM90.6 52.4h0.55v0.55h-0.55zM90.1 53.7h0.55v0.55h-0.55zM94.9 55.5h0.55v0.55h-0.55zM90.3 55.0h0.55v0.55h-0.55zM96.1 47.3h0.55v0.55h-0.55zM96.2 45.7h0.55v0.55h-0.55zM92.9 53.4h0.55v0.55h-0.55zM96.2 52.1h0.55v0.55h-0.55zM89.3 47.8h0.55v0.55h-0.55zM86.6 54.1h0.55v0.55h-0.55zM90.2 48.1h0.55v0.55h-0.55zM92.9 47.9h0.55v0.55h-0.55zM89.5 49.2h0.55v0.55h-0.55zM90.4 44.7h0.55v0.55h-0.55zM92.0 51.3h0.55v0.55h-0.55zM92.2 53.3h0.55v0.55h-0.55zM89.9 54.7h0.55v0.55h-0.55zM93.9 51.8h0.55v0.55h-0.55zM89.6 49.1h0.55v0.55h-0.55zM93.4 46.6h0.55v0.55h-0.55zM90.4 48.0h0.55v0.55h-0.55zM90.9 51.1h0.55v0.55h-0.55zM94.1 45.0h0.55v0.55h-0.55zM90.8 52.2h0.55v0.55h-0.55zM93.9 46.7h0.55v0.55h-0.55zM93.5 51.9h0.55v0.55h-0.55zM95.7 55.6h0.55v0.55h-0.55zM91.0 49.3h0.55v0.55h-0.55zM89.8 47.2h0.55v0.55h-0.55zM90.9 43.5h0.55v0.55h-0.55zM90.7 52.7h0.55v0.55h-0.55zM94.5 49.6h0.55v0.55h-0.55zM95.9 48.4h0.55v0.55h-0.55zM90.5 43.5h0.55v0.55h-0.55zM88.3 47.8h0.55v0.55h-0.55zM96.1 53.1h0.55v0.55h-0.55zM87.2 53.1h0.55v0.55h-0.55zM92.6 50.1h0.55v0.55h-0.55zM91.1 49.8h0.55v0.55h-0.55zM89.1 44.1h0.55v0.55h-0.55zM95.9 49.9h0.55v0.55h-0.55zM88.4 50.2h0.55v0.55h-0.55zM94.1 52.4h0.55v0.55h-0.55zM89.0 52.4h0.55v0.55h-0.55zM90.3 53.0h0.55v0.55h-0.55zM89.6 45.3h0.55v0.55h-0.55zM91.2 54.0h0.55v0.55h-0.55zM87.2 50.6h0.55v0.55h-0.55zM94.0 49.5h0.55v0.55h-0.55zM93.8 55.0h0.55v0.55h-0.55zM87.8 48.4h0.55v0.55h-0.55zM91.7 43.5h0.55v0.55h-0.55zM93.2 53.2h0.55v0.55h-0.55zM89.8 31.1h0.55v0.55h-0.55zM87.3 33.3h0.55v0.55h-0.55zM88.5 46.1h0.55v0.55h-0.55zM90.6 28.2h0.55v0.55h-0.55zM89.5 39.0h0.55v0.55h-0.55zM89.8 29.9h0.55v0.55h-0.55zM87.4 25.1h0.55v0.55h-0.55zM95.1 47.6h0.55v0.55h-0.55zM87.5 46.6h0.55v0.55h-0.55zM95.0 41.9h0.55v0.55h-0.55zM87.7 39.7h0.55v0.55h-0.55zM90.4 30.6h0.55v0.55h-0.55zM91.4 25.1h0.55v0.55h-0.55zM94.5 44.4h0.55v0.55h-0.55zM92.1 53.2h0.55v0.55h-0.55zM92.3 32.4h0.55v0.55h-0.55zM88.9 29.0h0.55v0.55h-0.55zM87.0 48.3h0.55v0.55h-0.55zM93.9 33.8h0.55v0.55h-0.55zM88.4 44.2h0.55v0.55h-0.55zM93.9 53.0h0.55v0.55h-0.55zM88.2 48.7h0.55v0.55h-0.55zM93.8 47.4h0.55v0.55h-0.55zM89.5 30.4h0.55v0.55h-0.55zM93.7 34.5h0.55v0.55h-0.55zM89.9 41.6h0.55v0.55h-0.55zM89.9 50.1h0.55v0.55h-0.55zM88.8 26.1h0.55v0.55h-0.55zM91.6 43.9h0.55v0.55h-0.55zM93.7 46.2h0.55v0.55h-0.55zM94.4 53.5h0.55v0.55h-0.55zM91.0 40.0h0.55v0.55h-0.55zM88.1 33.9h0.55v0.55h-0.55zM91.7 27.2h0.55v0.55h-0.55zM92.6 29.8h0.55v0.55h-0.55zM90.5 54.3h0.55v0.55h-0.55zM87.6 26.0h0.55v0.55h-0.55zM90.5 30.6h0.55v0.55h-0.55zM92.9 24.9h0.55v0.55h-0.55zM93.9 50.8h0.55v0.55h-0.55zM93.4 37.7h0.55v0.55h-0.55zM89.2 44.9h0.55v0.55h-0.55zM91.1 37.6h0.55v0.55h-0.55zM89.6 38.1h0.55v0.55h-0.55zM92.4 49.9h0.55v0.55h-0.55zM114.3 29.8h0.55v0.55h-0.55zM95.8 38.3h0.55v0.55h-0.55zM103.9 35.4h0.55v0.55h-0.55zM92.7 27.4h0.55v0.55h-0.55zM96.6 38.8h0.55v0.55h-0.55zM116.3 52.4h0.55v0.55h-0.55zM113.1 54.4h0.55v0.55h-0.55zM116.0 43.6h0.55v0.55h-0.55zM111.5 26.6h0.55v0.55h-0.55zM107.4 43.3h0.55v0.55h-0.55zM95.8 42.2h0.55v0.55h-0.55zM115.8 39.4h0.55v0.55h-0.55z" fill="#222" fill-opacity="0.7"/>
<ellipse cx="102.5" cy="42.8" rx="4.3" ry="11.3" transform="rotate(29 102.5 42.8)" fill="#111" fill-opacity="0.97" filter="url(#sb1)"/>
<ellipse cx="99" cy="50.5" rx="3.5" ry="4" transform="rotate(0 99 50.5)" fill="#111" fill-opacity="0.6" filter="url(#sb2)"/>
<ellipse cx="105.5" cy="36" rx="3" ry="4" transform="rotate(29 105.5 36)" fill="#111" fill-opacity="0.6" filter="url(#sb1)"/>
</g>
<ellipse cx="90.6" cy="40.8" rx="1.3" ry="2" fill="none" stroke="#444" stroke-width="0.5"/>
<rect x="85.6" y="23.6" width="33.20" height="32.60" fill="none" stroke="#111" stroke-width="1.25"/>
<line x1="95.8" y1="23.6" x2="95.8" y2="56.2" stroke="#111" stroke-width="1.1"/>
<line x1="85.6" y1="46.1" x2="118.8" y2="46.1" stroke="#111" stroke-width="1.1"/>
<text x="113.20" y="31.20" font-size="5.6" font-weight="bold" text-anchor="middle" fill="#111" >55</text>
<text transform="translate(82.60,26.90) rotate(-90)" font-size="4.9" font-weight="normal" text-anchor="middle" fill="#111">10<tspan font-size="3.2" dy="-1.7">4</tspan></text>
<text transform="translate(82.80,56.40) rotate(-90)" font-size="4.9" font-weight="normal" text-anchor="middle" fill="#111">0</text>
<text x="87.40" y="62.40" font-size="4.7" font-weight="normal" text-anchor="middle" fill="#111" >10</text>
<text x="116.80" y="62.40" font-size="4.7" text-anchor="middle" fill="#111">10<tspan font-size="3.0" dy="-1.7">4</tspan></text>
<g clip-path="url(#ca02)">
<path d="M139.4 49.3h0.55v0.55h-0.55zM150.5 49.4h0.55v0.55h-0.55zM139.0 47.6h0.55v0.55h-0.55zM157.1 50.6h0.55v0.55h-0.55zM136.5 52.1h0.55v0.55h-0.55zM149.8 51.5h0.55v0.55h-0.55zM151.4 43.6h0.55v0.55h-0.55zM160.3 52.5h0.55v0.55h-0.55zM145.8 53.3h0.55v0.55h-0.55zM138.5 52.8h0.55v0.55h-0.55zM154.2 51.9h0.55v0.55h-0.55zM141.7 51.1h0.55v0.55h-0.55zM142.7 53.2h0.55v0.55h-0.55zM131.4 53.5h0.55v0.55h-0.55zM144.2 48.4h0.55v0.55h-0.55zM158.1 45.1h0.55v0.55h-0.55zM159.9 51.7h0.55v0.55h-0.55zM141.8 54.6h0.55v0.55h-0.55zM154.7 45.2h0.55v0.55h-0.55zM144.6 48.0h0.55v0.55h-0.55zM144.8 49.1h0.55v0.55h-0.55zM156.4 47.1h0.55v0.55h-0.55zM148.3 54.5h0.55v0.55h-0.55zM140.6 46.8h0.55v0.55h-0.55zM152.0 42.8h0.55v0.55h-0.55zM150.5 43.3h0.55v0.55h-0.55zM157.6 40.0h0.55v0.55h-0.55zM154.8 55.6h0.55v0.55h-0.55zM134.9 45.0h0.55v0.55h-0.55zM152.2 52.1h0.55v0.55h-0.55zM138.4 39.3h0.55v0.55h-0.55zM144.0 49.7h0.55v0.55h-0.55zM141.4 50.8h0.55v0.55h-0.55zM162.5 52.7h0.55v0.55h-0.55zM140.7 48.7h0.55v0.55h-0.55zM150.3 54.9h0.55v0.55h-0.55zM148.5 42.9h0.55v0.55h-0.55zM146.6 51.2h0.55v0.55h-0.55zM158.9 52.2h0.55v0.55h-0.55zM151.6 55.3h0.55v0.55h-0.55zM142.4 54.3h0.55v0.55h-0.55zM150.5 43.6h0.55v0.55h-0.55zM135.9 44.7h0.55v0.55h-0.55zM146.2 50.2h0.55v0.55h-0.55zM143.4 54.5h0.55v0.55h-0.55zM145.2 49.4h0.55v0.55h-0.55zM139.6 47.8h0.55v0.55h-0.55zM140.3 53.4h0.55v0.55h-0.55zM148.0 44.9h0.55v0.55h-0.55zM151.0 42.8h0.55v0.55h-0.55zM152.5 50.4h0.55v0.55h-0.55zM142.6 51.0h0.55v0.55h-0.55zM150.5 53.7h0.55v0.55h-0.55zM156.1 46.8h0.55v0.55h-0.55zM144.5 52.2h0.55v0.55h-0.55zM149.8 50.0h0.55v0.55h-0.55zM140.4 48.7h0.55v0.55h-0.55zM147.2 50.0h0.55v0.55h-0.55zM152.5 40.6h0.55v0.55h-0.55zM134.9 48.8h0.55v0.55h-0.55zM145.7 39.1h0.55v0.55h-0.55zM155.5 43.4h0.55v0.55h-0.55zM141.9 45.2h0.55v0.55h-0.55zM138.4 49.5h0.55v0.55h-0.55zM136.3 52.6h0.55v0.55h-0.55zM152.7 49.9h0.55v0.55h-0.55zM137.3 54.8h0.55v0.55h-0.55zM146.8 54.6h0.55v0.55h-0.55zM143.3 54.3h0.55v0.55h-0.55zM162.1 44.7h0.55v0.55h-0.55zM137.8 51.8h0.55v0.55h-0.55zM147.2 52.0h0.55v0.55h-0.55zM140.9 45.2h0.55v0.55h-0.55zM151.3 46.4h0.55v0.55h-0.55zM153.4 43.9h0.55v0.55h-0.55zM150.2 50.7h0.55v0.55h-0.55zM154.7 49.9h0.55v0.55h-0.55zM149.4 46.4h0.55v0.55h-0.55zM145.4 52.1h0.55v0.55h-0.55zM149.8 53.1h0.55v0.55h-0.55zM142.0 48.2h0.55v0.55h-0.55zM141.3 54.8h0.55v0.55h-0.55zM140.6 49.6h0.55v0.55h-0.55zM137.6 38.8h0.55v0.55h-0.55zM141.8 50.9h0.55v0.55h-0.55zM147.3 38.8h0.55v0.55h-0.55zM143.5 54.3h0.55v0.55h-0.55zM151.3 55.3h0.55v0.55h-0.55zM151.4 42.4h0.55v0.55h-0.55zM149.4 47.3h0.55v0.55h-0.55zM138.3 48.9h0.55v0.55h-0.55zM140.0 48.1h0.55v0.55h-0.55zM153.8 49.6h0.55v0.55h-0.55zM157.0 48.5h0.55v0.55h-0.55zM138.8 50.9h0.55v0.55h-0.55zM143.7 51.7h0.55v0.55h-0.55zM153.4 44.2h0.55v0.55h-0.55zM147.8 49.7h0.55v0.55h-0.55zM132.7 49.7h0.55v0.55h-0.55zM144.0 53.7h0.55v0.55h-0.55zM148.5 52.3h0.55v0.55h-0.55zM144.5 48.6h0.55v0.55h-0.55zM146.4 44.7h0.55v0.55h-0.55zM133.5 53.7h0.55v0.55h-0.55zM132.5 53.1h0.55v0.55h-0.55zM137.9 50.7h0.55v0.55h-0.55zM143.1 47.2h0.55v0.55h-0.55zM138.2 44.0h0.55v0.55h-0.55zM144.4 46.2h0.55v0.55h-0.55zM142.6 35.8h0.55v0.55h-0.55zM139.0 54.8h0.55v0.55h-0.55zM146.0 51.2h0.55v0.55h-0.55zM144.3 45.7h0.55v0.55h-0.55zM150.9 48.3h0.55v0.55h-0.55zM144.3 48.7h0.55v0.55h-0.55zM149.6 49.7h0.55v0.55h-0.55zM155.1 49.5h0.55v0.55h-0.55zM139.6 51.9h0.55v0.55h-0.55zM151.7 46.2h0.55v0.55h-0.55zM149.1 52.3h0.55v0.55h-0.55zM138.9 40.1h0.55v0.55h-0.55zM146.5 51.6h0.55v0.55h-0.55zM144.6 46.8h0.55v0.55h-0.55zM154.5 46.4h0.55v0.55h-0.55zM138.5 49.5h0.55v0.55h-0.55zM145.7 44.5h0.55v0.55h-0.55zM157.7 51.9h0.55v0.55h-0.55zM157.2 49.5h0.55v0.55h-0.55zM156.0 49.4h0.55v0.55h-0.55zM155.0 44.1h0.55v0.55h-0.55zM147.6 54.4h0.55v0.55h-0.55zM147.0 54.1h0.55v0.55h-0.55zM142.7 43.4h0.55v0.55h-0.55zM148.3 46.2h0.55v0.55h-0.55zM141.3 41.5h0.55v0.55h-0.55zM154.3 54.9h0.55v0.55h-0.55zM136.2 50.8h0.55v0.55h-0.55zM147.5 47.2h0.55v0.55h-0.55zM157.7 31.3h0.55v0.55h-0.55zM144.9 52.3h0.55v0.55h-0.55zM155.7 54.5h0.55v0.55h-0.55zM149.9 51.1h0.55v0.55h-0.55zM142.7 49.6h0.55v0.55h-0.55zM137.2 42.2h0.55v0.55h-0.55zM147.1 50.0h0.55v0.55h-0.55zM143.6 50.0h0.55v0.55h-0.55zM138.9 53.3h0.55v0.55h-0.55zM141.9 53.5h0.55v0.55h-0.55zM153.6 52.2h0.55v0.55h-0.55zM152.4 52.7h0.55v0.55h-0.55zM155.9 54.4h0.55v0.55h-0.55zM140.9 52.6h0.55v0.55h-0.55zM150.8 46.0h0.55v0.55h-0.55zM152.8 41.4h0.55v0.55h-0.55zM145.5 54.5h0.55v0.55h-0.55zM145.5 53.0h0.55v0.55h-0.55zM155.2 48.8h0.55v0.55h-0.55zM144.4 51.9h0.55v0.55h-0.55zM137.6 46.0h0.55v0.55h-0.55zM134.2 53.3h0.55v0.55h-0.55zM130.9 41.0h0.55v0.55h-0.55zM152.0 41.5h0.55v0.55h-0.55zM141.7 54.1h0.55v0.55h-0.55zM145.9 50.6h0.55v0.55h-0.55zM141.6 55.4h0.55v0.55h-0.55zM147.3 52.9h0.55v0.55h-0.55zM150.1 40.3h0.55v0.55h-0.55zM146.9 49.2h0.55v0.55h-0.55zM140.7 47.8h0.55v0.55h-0.55zM136.5 48.5h0.55v0.55h-0.55zM158.8 45.5h0.55v0.55h-0.55zM149.1 43.7h0.55v0.55h-0.55zM142.6 46.2h0.55v0.55h-0.55zM141.0 46.8h0.55v0.55h-0.55zM133.2 54.4h0.55v0.55h-0.55zM140.1 48.3h0.55v0.55h-0.55zM135.9 49.3h0.55v0.55h-0.55zM135.3 54.0h0.55v0.55h-0.55zM147.0 53.4h0.55v0.55h-0.55zM153.1 44.5h0.55v0.55h-0.55zM134.5 54.1h0.55v0.55h-0.55zM146.0 46.6h0.55v0.55h-0.55zM149.4 38.1h0.55v0.55h-0.55zM146.2 49.2h0.55v0.55h-0.55zM145.8 47.9h0.55v0.55h-0.55zM149.9 52.7h0.55v0.55h-0.55zM152.4 51.4h0.55v0.55h-0.55zM146.0 43.8h0.55v0.55h-0.55zM141.8 53.0h0.55v0.55h-0.55zM139.8 47.0h0.55v0.55h-0.55zM144.1 48.0h0.55v0.55h-0.55zM139.8 48.0h0.55v0.55h-0.55zM138.7 53.0h0.55v0.55h-0.55zM144.1 52.1h0.55v0.55h-0.55zM150.3 50.2h0.55v0.55h-0.55zM142.1 47.5h0.55v0.55h-0.55zM143.6 55.5h0.55v0.55h-0.55zM146.1 48.3h0.55v0.55h-0.55zM131.1 47.8h0.55v0.55h-0.55zM149.7 55.0h0.55v0.55h-0.55zM145.3 42.9h0.55v0.55h-0.55zM143.7 52.8h0.55v0.55h-0.55zM141.7 47.5h0.55v0.55h-0.55zM146.1 45.4h0.55v0.55h-0.55zM149.2 47.5h0.55v0.55h-0.55zM157.4 44.3h0.55v0.55h-0.55zM144.2 53.3h0.55v0.55h-0.55zM143.3 45.9h0.55v0.55h-0.55zM135.0 53.9h0.55v0.55h-0.55zM154.4 41.4h0.55v0.55h-0.55zM156.5 47.6h0.55v0.55h-0.55zM147.8 44.7h0.55v0.55h-0.55zM135.5 46.3h0.55v0.55h-0.55zM143.4 52.6h0.55v0.55h-0.55zM138.1 47.0h0.55v0.55h-0.55zM143.2 41.6h0.55v0.55h-0.55zM150.3 51.7h0.55v0.55h-0.55zM160.4 49.9h0.55v0.55h-0.55zM148.4 51.1h0.55v0.55h-0.55zM142.6 44.3h0.55v0.55h-0.55zM157.9 48.8h0.55v0.55h-0.55zM140.4 46.3h0.55v0.55h-0.55zM158.1 48.8h0.55v0.55h-0.55zM160.3 44.7h0.55v0.55h-0.55zM147.4 47.6h0.55v0.55h-0.55zM145.6 55.3h0.55v0.55h-0.55zM149.7 43.3h0.55v0.55h-0.55zM136.2 54.1h0.55v0.55h-0.55zM152.3 49.6h0.55v0.55h-0.55zM152.3 40.1h0.55v0.55h-0.55zM147.8 46.3h0.55v0.55h-0.55zM146.5 52.3h0.55v0.55h-0.55zM136.7 53.0h0.55v0.55h-0.55zM137.1 51.3h0.55v0.55h-0.55zM145.5 47.1h0.55v0.55h-0.55zM153.0 44.1h0.55v0.55h-0.55zM152.4 49.6h0.55v0.55h-0.55zM136.2 53.3h0.55v0.55h-0.55zM137.5 51.9h0.55v0.55h-0.55zM146.0 43.1h0.55v0.55h-0.55zM138.8 43.3h0.55v0.55h-0.55zM140.4 43.5h0.55v0.55h-0.55zM155.0 41.9h0.55v0.55h-0.55zM149.0 38.8h0.55v0.55h-0.55zM151.3 38.5h0.55v0.55h-0.55zM147.4 38.2h0.55v0.55h-0.55zM155.7 37.0h0.55v0.55h-0.55zM151.8 34.4h0.55v0.55h-0.55zM146.5 33.3h0.55v0.55h-0.55zM149.0 43.3h0.55v0.55h-0.55zM151.5 37.6h0.55v0.55h-0.55zM153.0 38.3h0.55v0.55h-0.55zM151.8 41.3h0.55v0.55h-0.55zM152.6 28.0h0.55v0.55h-0.55zM143.7 43.7h0.55v0.55h-0.55zM149.5 50.9h0.55v0.55h-0.55zM148.9 37.3h0.55v0.55h-0.55zM157.2 42.7h0.55v0.55h-0.55zM159.2 42.5h0.55v0.55h-0.55zM149.0 43.5h0.55v0.55h-0.55zM149.1 34.5h0.55v0.55h-0.55zM148.4 29.5h0.55v0.55h-0.55zM159.4 34.7h0.55v0.55h-0.55zM157.2 29.4h0.55v0.55h-0.55zM155.9 54.6h0.55v0.55h-0.55zM143.1 25.8h0.55v0.55h-0.55zM142.7 44.3h0.55v0.55h-0.55zM137.8 41.4h0.55v0.55h-0.55z" fill="#222" fill-opacity="0.7"/>
<ellipse cx="144.6" cy="52.3" rx="11.2" ry="6.4" transform="rotate(-22 144.6 52.3)" fill="#111" fill-opacity="0.95" filter="url(#sb1)"/>
<ellipse cx="136" cy="55" rx="4" ry="3" transform="rotate(0 136 55)" fill="#111" fill-opacity="0.8" filter="url(#sb1)"/>
</g>
<rect x="129.8" y="23.6" width="33.30" height="32.60" fill="none" stroke="#111" stroke-width="1.25"/>
<line x1="140.6" y1="23.6" x2="140.6" y2="56.2" stroke="#111" stroke-width="1.1"/>
<line x1="129.8" y1="46.1" x2="163.1" y2="46.1" stroke="#111" stroke-width="1.1"/>
<text x="158.50" y="31.20" font-size="5.6" font-weight="bold" text-anchor="middle" fill="#111" >2</text>
<text transform="translate(126.80,26.90) rotate(-90)" font-size="4.9" font-weight="normal" text-anchor="middle" fill="#111">10<tspan font-size="3.2" dy="-1.7">4</tspan></text>
<text transform="translate(127.00,56.40) rotate(-90)" font-size="4.9" font-weight="normal" text-anchor="middle" fill="#111">0</text>
<text x="131.60" y="62.40" font-size="4.7" font-weight="normal" text-anchor="middle" fill="#111" >10</text>
<text x="161.10" y="62.40" font-size="4.7" text-anchor="middle" fill="#111">10<tspan font-size="3.0" dy="-1.7">4</tspan></text>
<g clip-path="url(#ca03)">
<path d="M198.5 50.6h0.55v0.55h-0.55zM185.9 46.3h0.55v0.55h-0.55zM186.7 49.6h0.55v0.55h-0.55zM190.4 47.8h0.55v0.55h-0.55zM197.7 44.4h0.55v0.55h-0.55zM186.8 45.1h0.55v0.55h-0.55zM192.3 48.5h0.55v0.55h-0.55zM179.5 51.3h0.55v0.55h-0.55zM194.0 50.7h0.55v0.55h-0.55zM191.4 46.5h0.55v0.55h-0.55zM191.1 49.5h0.55v0.55h-0.55zM187.4 50.3h0.55v0.55h-0.55zM189.4 53.2h0.55v0.55h-0.55zM185.7 51.8h0.55v0.55h-0.55zM180.6 51.4h0.55v0.55h-0.55zM199.7 47.8h0.55v0.55h-0.55zM201.1 50.6h0.55v0.55h-0.55zM199.0 52.5h0.55v0.55h-0.55zM185.8 49.6h0.55v0.55h-0.55zM194.1 43.9h0.55v0.55h-0.55zM192.5 51.8h0.55v0.55h-0.55zM191.7 47.9h0.55v0.55h-0.55zM198.0 51.6h0.55v0.55h-0.55zM197.2 53.9h0.55v0.55h-0.55zM181.6 54.4h0.55v0.55h-0.55zM194.4 54.5h0.55v0.55h-0.55zM191.9 52.9h0.55v0.55h-0.55zM176.7 53.0h0.55v0.55h-0.55zM194.6 52.5h0.55v0.55h-0.55zM197.9 48.2h0.55v0.55h-0.55zM182.5 53.7h0.55v0.55h-0.55zM191.5 48.4h0.55v0.55h-0.55zM183.5 51.7h0.55v0.55h-0.55zM188.0 49.6h0.55v0.55h-0.55zM191.8 49.7h0.55v0.55h-0.55zM177.9 50.1h0.55v0.55h-0.55zM190.5 45.4h0.55v0.55h-0.55zM190.5 44.3h0.55v0.55h-0.55zM190.4 50.2h0.55v0.55h-0.55zM196.4 45.5h0.55v0.55h-0.55zM187.1 53.5h0.55v0.55h-0.55zM186.3 49.4h0.55v0.55h-0.55zM188.1 54.4h0.55v0.55h-0.55zM192.9 53.5h0.55v0.55h-0.55zM203.9 44.1h0.55v0.55h-0.55zM187.8 38.8h0.55v0.55h-0.55zM186.3 43.9h0.55v0.55h-0.55zM194.2 40.0h0.55v0.55h-0.55zM202.4 50.3h0.55v0.55h-0.55zM187.8 54.7h0.55v0.55h-0.55zM200.7 43.9h0.55v0.55h-0.55zM188.1 48.4h0.55v0.55h-0.55zM193.8 36.4h0.55v0.55h-0.55zM198.5 41.2h0.55v0.55h-0.55zM193.1 39.8h0.55v0.55h-0.55zM180.8 51.6h0.55v0.55h-0.55zM192.4 40.2h0.55v0.55h-0.55zM192.8 45.7h0.55v0.55h-0.55zM198.6 45.0h0.55v0.55h-0.55zM192.9 48.4h0.55v0.55h-0.55zM202.8 42.7h0.55v0.55h-0.55zM191.6 54.0h0.55v0.55h-0.55zM184.2 54.7h0.55v0.55h-0.55zM181.1 46.2h0.55v0.55h-0.55zM189.5 42.2h0.55v0.55h-0.55zM202.2 41.0h0.55v0.55h-0.55zM187.2 53.5h0.55v0.55h-0.55zM177.0 47.4h0.55v0.55h-0.55zM193.4 39.9h0.55v0.55h-0.55zM199.0 46.8h0.55v0.55h-0.55zM193.5 49.4h0.55v0.55h-0.55zM190.5 44.7h0.55v0.55h-0.55zM180.8 51.0h0.55v0.55h-0.55zM188.0 55.3h0.55v0.55h-0.55zM183.2 50.5h0.55v0.55h-0.55zM196.0 50.5h0.55v0.55h-0.55zM184.4 47.1h0.55v0.55h-0.55zM178.1 47.0h0.55v0.55h-0.55zM200.9 52.0h0.55v0.55h-0.55zM205.3 46.6h0.55v0.55h-0.55zM193.8 53.4h0.55v0.55h-0.55zM196.4 46.3h0.55v0.55h-0.55zM198.1 45.0h0.55v0.55h-0.55zM194.7 48.3h0.55v0.55h-0.55zM190.6 47.3h0.55v0.55h-0.55zM189.3 51.1h0.55v0.55h-0.55zM199.6 50.9h0.55v0.55h-0.55zM193.7 43.5h0.55v0.55h-0.55zM196.9 42.0h0.55v0.55h-0.55zM201.1 49.5h0.55v0.55h-0.55zM182.5 49.9h0.55v0.55h-0.55zM196.0 44.0h0.55v0.55h-0.55zM205.5 47.6h0.55v0.55h-0.55zM182.6 47.2h0.55v0.55h-0.55zM197.3 41.1h0.55v0.55h-0.55zM188.9 49.7h0.55v0.55h-0.55zM188.6 54.3h0.55v0.55h-0.55zM204.5 40.3h0.55v0.55h-0.55zM198.6 53.1h0.55v0.55h-0.55zM186.9 51.3h0.55v0.55h-0.55zM183.9 49.8h0.55v0.55h-0.55zM188.1 46.6h0.55v0.55h-0.55zM180.6 53.4h0.55v0.55h-0.55zM200.7 44.6h0.55v0.55h-0.55zM190.4 42.0h0.55v0.55h-0.55zM182.9 45.1h0.55v0.55h-0.55zM190.0 54.3h0.55v0.55h-0.55zM189.5 45.6h0.55v0.55h-0.55zM197.9 52.7h0.55v0.55h-0.55zM192.0 47.3h0.55v0.55h-0.55zM187.7 48.1h0.55v0.55h-0.55zM189.2 53.0h0.55v0.55h-0.55zM194.0 53.7h0.55v0.55h-0.55zM194.0 47.5h0.55v0.55h-0.55zM195.6 51.1h0.55v0.55h-0.55zM195.3 47.2h0.55v0.55h-0.55zM177.2 48.7h0.55v0.55h-0.55zM188.9 54.5h0.55v0.55h-0.55zM187.3 45.2h0.55v0.55h-0.55zM176.9 53.6h0.55v0.55h-0.55zM187.7 46.9h0.55v0.55h-0.55zM182.5 53.3h0.55v0.55h-0.55zM183.9 50.2h0.55v0.55h-0.55zM189.1 49.4h0.55v0.55h-0.55zM191.7 43.0h0.55v0.55h-0.55zM190.6 55.0h0.55v0.55h-0.55zM200.1 49.3h0.55v0.55h-0.55zM186.3 43.4h0.55v0.55h-0.55zM196.1 51.3h0.55v0.55h-0.55zM178.5 49.2h0.55v0.55h-0.55zM188.5 45.5h0.55v0.55h-0.55zM200.6 42.2h0.55v0.55h-0.55zM190.1 45.4h0.55v0.55h-0.55zM179.2 54.3h0.55v0.55h-0.55zM176.6 45.6h0.55v0.55h-0.55zM196.0 52.1h0.55v0.55h-0.55zM198.2 49.5h0.55v0.55h-0.55zM181.6 47.8h0.55v0.55h-0.55zM188.9 40.0h0.55v0.55h-0.55zM199.4 53.7h0.55v0.55h-0.55zM187.0 45.0h0.55v0.55h-0.55zM200.6 38.1h0.55v0.55h-0.55zM184.5 42.1h0.55v0.55h-0.55zM175.7 47.4h0.55v0.55h-0.55zM200.8 52.7h0.55v0.55h-0.55zM183.2 45.9h0.55v0.55h-0.55zM189.9 53.1h0.55v0.55h-0.55zM190.3 54.8h0.55v0.55h-0.55zM191.1 52.9h0.55v0.55h-0.55zM189.9 45.4h0.55v0.55h-0.55zM187.7 49.6h0.55v0.55h-0.55zM191.6 45.5h0.55v0.55h-0.55zM201.1 45.8h0.55v0.55h-0.55zM195.1 52.1h0.55v0.55h-0.55zM198.7 49.1h0.55v0.55h-0.55zM205.4 46.4h0.55v0.55h-0.55zM195.0 51.2h0.55v0.55h-0.55zM182.9 50.1h0.55v0.55h-0.55zM190.5 43.5h0.55v0.55h-0.55zM204.2 46.2h0.55v0.55h-0.55zM199.5 47.6h0.55v0.55h-0.55zM187.3 53.0h0.55v0.55h-0.55zM177.8 49.3h0.55v0.55h-0.55zM181.2 51.7h0.55v0.55h-0.55zM178.4 55.6h0.55v0.55h-0.55zM204.1 43.9h0.55v0.55h-0.55zM196.1 46.6h0.55v0.55h-0.55zM192.6 49.4h0.55v0.55h-0.55zM185.3 53.4h0.55v0.55h-0.55zM184.7 46.8h0.55v0.55h-0.55zM187.9 55.1h0.55v0.55h-0.55zM180.5 54.5h0.55v0.55h-0.55zM193.3 53.7h0.55v0.55h-0.55zM176.4 53.6h0.55v0.55h-0.55zM202.2 43.4h0.55v0.55h-0.55zM205.2 39.3h0.55v0.55h-0.55zM183.6 44.2h0.55v0.55h-0.55zM195.2 49.9h0.55v0.55h-0.55zM206.1 44.2h0.55v0.55h-0.55zM184.3 45.0h0.55v0.55h-0.55zM198.3 54.3h0.55v0.55h-0.55zM196.4 47.5h0.55v0.55h-0.55zM194.8 49.6h0.55v0.55h-0.55zM190.1 44.4h0.55v0.55h-0.55zM193.3 51.0h0.55v0.55h-0.55zM200.8 54.4h0.55v0.55h-0.55zM199.7 40.6h0.55v0.55h-0.55zM193.0 51.5h0.55v0.55h-0.55zM179.5 52.9h0.55v0.55h-0.55zM192.8 53.9h0.55v0.55h-0.55zM179.2 41.6h0.55v0.55h-0.55zM197.9 46.3h0.55v0.55h-0.55zM186.3 46.5h0.55v0.55h-0.55zM191.3 39.4h0.55v0.55h-0.55zM190.7 51.2h0.55v0.55h-0.55zM188.9 51.8h0.55v0.55h-0.55zM192.9 40.1h0.55v0.55h-0.55zM187.3 52.4h0.55v0.55h-0.55zM195.4 43.4h0.55v0.55h-0.55zM196.9 49.9h0.55v0.55h-0.55zM192.8 53.8h0.55v0.55h-0.55zM194.9 45.2h0.55v0.55h-0.55zM200.1 51.0h0.55v0.55h-0.55zM194.4 51.6h0.55v0.55h-0.55zM178.4 49.0h0.55v0.55h-0.55zM187.0 53.0h0.55v0.55h-0.55zM188.3 49.6h0.55v0.55h-0.55zM180.2 46.8h0.55v0.55h-0.55zM183.8 47.3h0.55v0.55h-0.55zM204.7 54.3h0.55v0.55h-0.55zM186.6 51.1h0.55v0.55h-0.55zM192.9 55.4h0.55v0.55h-0.55zM188.9 40.3h0.55v0.55h-0.55zM177.7 49.1h0.55v0.55h-0.55zM193.3 49.9h0.55v0.55h-0.55zM203.4 42.9h0.55v0.55h-0.55zM192.2 50.2h0.55v0.55h-0.55zM198.6 43.1h0.55v0.55h-0.55zM194.2 46.5h0.55v0.55h-0.55zM190.8 51.4h0.55v0.55h-0.55zM188.6 48.6h0.55v0.55h-0.55zM201.5 43.8h0.55v0.55h-0.55zM197.0 53.7h0.55v0.55h-0.55zM203.3 51.1h0.55v0.55h-0.55zM200.2 37.4h0.55v0.55h-0.55zM205.5 43.7h0.55v0.55h-0.55zM192.3 50.7h0.55v0.55h-0.55zM182.5 52.9h0.55v0.55h-0.55zM188.9 51.7h0.55v0.55h-0.55zM188.9 49.9h0.55v0.55h-0.55zM192.9 39.7h0.55v0.55h-0.55zM185.8 53.5h0.55v0.55h-0.55zM185.0 49.8h0.55v0.55h-0.55zM186.4 53.7h0.55v0.55h-0.55zM199.2 45.3h0.55v0.55h-0.55zM188.1 53.8h0.55v0.55h-0.55zM183.0 42.3h0.55v0.55h-0.55zM190.8 48.1h0.55v0.55h-0.55zM188.5 48.0h0.55v0.55h-0.55zM189.3 50.4h0.55v0.55h-0.55zM199.5 39.6h0.55v0.55h-0.55zM190.3 35.7h0.55v0.55h-0.55zM192.3 42.9h0.55v0.55h-0.55zM195.5 47.2h0.55v0.55h-0.55zM185.0 36.0h0.55v0.55h-0.55zM189.4 32.5h0.55v0.55h-0.55zM199.4 30.2h0.55v0.55h-0.55zM195.9 39.0h0.55v0.55h-0.55zM187.0 34.5h0.55v0.55h-0.55zM193.2 50.0h0.55v0.55h-0.55zM193.6 47.3h0.55v0.55h-0.55zM200.2 43.9h0.55v0.55h-0.55zM197.8 45.0h0.55v0.55h-0.55zM202.8 39.9h0.55v0.55h-0.55zM201.9 34.5h0.55v0.55h-0.55zM200.2 31.8h0.55v0.55h-0.55zM194.0 36.3h0.55v0.55h-0.55zM201.0 44.7h0.55v0.55h-0.55zM200.1 38.1h0.55v0.55h-0.55zM197.8 27.7h0.55v0.55h-0.55zM199.7 49.6h0.55v0.55h-0.55zM190.3 29.4h0.55v0.55h-0.55zM193.7 33.5h0.55v0.55h-0.55zM207.1 40.5h0.55v0.55h-0.55zM199.9 47.7h0.55v0.55h-0.55zM197.4 46.9h0.55v0.55h-0.55zM198.7 37.6h0.55v0.55h-0.55zM190.5 43.3h0.55v0.55h-0.55zM186.1 44.8h0.55v0.55h-0.55zM194.6 51.5h0.55v0.55h-0.55zM197.5 54.2h0.55v0.55h-0.55zM178.6 31.3h0.55v0.55h-0.55zM184.8 52.4h0.55v0.55h-0.55zM176.2 32.7h0.55v0.55h-0.55zM198.3 54.9h0.55v0.55h-0.55zM181.3 38.1h0.55v0.55h-0.55zM197.4 45.8h0.55v0.55h-0.55zM199.2 47.7h0.55v0.55h-0.55zM183.6 32.6h0.55v0.55h-0.55zM176.7 45.8h0.55v0.55h-0.55z" fill="#222" fill-opacity="0.7"/>
<ellipse cx="189.3" cy="52.0" rx="11.2" ry="6.2" transform="rotate(-25 189.3 52.0)" fill="#111" fill-opacity="0.95" filter="url(#sb1)"/>
<ellipse cx="181" cy="55" rx="4" ry="3" transform="rotate(0 181 55)" fill="#111" fill-opacity="0.8" filter="url(#sb1)"/>
</g>
<rect x="174.9" y="23.6" width="33.10" height="32.60" fill="none" stroke="#111" stroke-width="1.25"/>
<line x1="185.7" y1="23.6" x2="185.7" y2="56.2" stroke="#111" stroke-width="1.1"/>
<line x1="174.9" y1="46.1" x2="208.0" y2="46.1" stroke="#111" stroke-width="1.1"/>
<text x="202.80" y="31.20" font-size="5.6" font-weight="bold" text-anchor="middle" fill="#111" >4</text>
<text transform="translate(171.90,26.90) rotate(-90)" font-size="4.9" font-weight="normal" text-anchor="middle" fill="#111">10<tspan font-size="3.2" dy="-1.7">4</tspan></text>
<text transform="translate(172.10,56.40) rotate(-90)" font-size="4.9" font-weight="normal" text-anchor="middle" fill="#111">0</text>
<text x="176.70" y="62.40" font-size="4.7" font-weight="normal" text-anchor="middle" fill="#111" >10</text>
<text x="206.00" y="62.40" font-size="4.7" text-anchor="middle" fill="#111">10<tspan font-size="3.0" dy="-1.7">4</tspan></text>
<g clip-path="url(#ca10)">
<path d="M53.7 99.9h0.55v0.55h-0.55zM60.6 93.1h0.55v0.55h-0.55zM42.3 95.8h0.55v0.55h-0.55zM42.0 95.4h0.55v0.55h-0.55zM51.1 98.7h0.55v0.55h-0.55zM52.6 97.0h0.55v0.55h-0.55zM49.6 99.5h0.55v0.55h-0.55zM58.4 98.7h0.55v0.55h-0.55zM61.3 93.0h0.55v0.55h-0.55zM53.3 98.4h0.55v0.55h-0.55zM47.6 93.3h0.55v0.55h-0.55zM50.6 95.2h0.55v0.55h-0.55zM56.7 93.8h0.55v0.55h-0.55zM52.1 95.8h0.55v0.55h-0.55zM53.1 93.6h0.55v0.55h-0.55zM57.3 88.8h0.55v0.55h-0.55zM48.1 94.6h0.55v0.55h-0.55zM55.9 96.0h0.55v0.55h-0.55zM54.4 94.7h0.55v0.55h-0.55zM45.3 93.4h0.55v0.55h-0.55zM48.6 95.3h0.55v0.55h-0.55zM53.8 98.0h0.55v0.55h-0.55zM58.0 94.8h0.55v0.55h-0.55zM45.2 93.7h0.55v0.55h-0.55zM52.3 98.5h0.55v0.55h-0.55zM64.9 94.3h0.55v0.55h-0.55zM60.8 100.8h0.55v0.55h-0.55zM52.5 101.2h0.55v0.55h-0.55zM48.2 97.6h0.55v0.55h-0.55zM51.1 93.8h0.55v0.55h-0.55zM53.9 99.4h0.55v0.55h-0.55zM47.4 101.0h0.55v0.55h-0.55zM45.7 94.5h0.55v0.55h-0.55zM52.7 95.6h0.55v0.55h-0.55zM43.0 91.7h0.55v0.55h-0.55zM51.9 98.0h0.55v0.55h-0.55zM48.6 98.6h0.55v0.55h-0.55zM54.6 97.5h0.55v0.55h-0.55zM47.4 98.5h0.55v0.55h-0.55zM53.7 97.6h0.55v0.55h-0.55zM58.9 92.7h0.55v0.55h-0.55zM56.2 97.2h0.55v0.55h-0.55zM49.7 91.5h0.55v0.55h-0.55zM61.2 85.7h0.55v0.55h-0.55zM53.1 94.8h0.55v0.55h-0.55zM58.7 93.1h0.55v0.55h-0.55zM52.5 99.6h0.55v0.55h-0.55zM54.0 93.9h0.55v0.55h-0.55zM56.6 97.5h0.55v0.55h-0.55zM57.6 93.0h0.55v0.55h-0.55zM50.7 95.4h0.55v0.55h-0.55zM46.1 99.6h0.55v0.55h-0.55zM49.8 99.3h0.55v0.55h-0.55zM59.1 94.4h0.55v0.55h-0.55zM52.1 97.5h0.55v0.55h-0.55zM45.7 94.0h0.55v0.55h-0.55zM59.2 95.7h0.55v0.55h-0.55zM49.6 91.7h0.55v0.55h-0.55zM42.7 95.2h0.55v0.55h-0.55zM60.6 101.2h0.55v0.55h-0.55zM61.3 91.8h0.55v0.55h-0.55zM54.7 92.7h0.55v0.55h-0.55zM54.6 94.5h0.55v0.55h-0.55zM53.5 95.3h0.55v0.55h-0.55zM52.2 98.0h0.55v0.55h-0.55zM48.3 98.8h0.55v0.55h-0.55zM68.1 93.4h0.55v0.55h-0.55zM47.5 95.8h0.55v0.55h-0.55zM53.1 93.9h0.55v0.55h-0.55zM59.0 95.0h0.55v0.55h-0.55zM58.1 95.9h0.55v0.55h-0.55zM60.7 94.5h0.55v0.55h-0.55zM55.4 98.6h0.55v0.55h-0.55zM66.0 101.2h0.55v0.55h-0.55zM54.2 98.3h0.55v0.55h-0.55zM42.4 98.6h0.55v0.55h-0.55zM53.0 95.6h0.55v0.55h-0.55zM52.6 99.5h0.55v0.55h-0.55zM44.5 96.3h0.55v0.55h-0.55zM42.5 91.6h0.55v0.55h-0.55zM56.4 94.7h0.55v0.55h-0.55zM57.5 93.7h0.55v0.55h-0.55zM66.5 96.3h0.55v0.55h-0.55zM52.6 97.2h0.55v0.55h-0.55zM51.1 100.8h0.55v0.55h-0.55zM64.4 91.6h0.55v0.55h-0.55zM56.9 88.7h0.55v0.55h-0.55zM45.7 94.0h0.55v0.55h-0.55zM55.8 98.2h0.55v0.55h-0.55zM45.3 93.5h0.55v0.55h-0.55zM53.7 86.9h0.55v0.55h-0.55zM55.6 95.2h0.55v0.55h-0.55zM65.5 97.8h0.55v0.55h-0.55zM47.3 96.9h0.55v0.55h-0.55zM48.8 94.4h0.55v0.55h-0.55zM53.2 101.0h0.55v0.55h-0.55zM62.3 97.5h0.55v0.55h-0.55zM45.1 95.0h0.55v0.55h-0.55zM44.0 91.6h0.55v0.55h-0.55zM59.2 95.2h0.55v0.55h-0.55zM45.2 92.1h0.55v0.55h-0.55zM48.4 95.5h0.55v0.55h-0.55zM62.4 92.0h0.55v0.55h-0.55zM53.5 101.4h0.55v0.55h-0.55zM55.7 95.0h0.55v0.55h-0.55zM55.0 94.1h0.55v0.55h-0.55zM49.8 93.1h0.55v0.55h-0.55zM43.8 92.3h0.55v0.55h-0.55zM55.4 98.3h0.55v0.55h-0.55zM53.6 100.0h0.55v0.55h-0.55zM55.2 96.6h0.55v0.55h-0.55zM46.3 101.1h0.55v0.55h-0.55zM60.1 97.6h0.55v0.55h-0.55zM59.3 92.8h0.55v0.55h-0.55zM47.9 99.1h0.55v0.55h-0.55zM50.3 97.4h0.55v0.55h-0.55zM49.1 95.2h0.55v0.55h-0.55zM50.7 88.4h0.55v0.55h-0.55zM44.2 93.8h0.55v0.55h-0.55zM43.7 87.5h0.55v0.55h-0.55zM50.7 100.6h0.55v0.55h-0.55zM54.1 90.6h0.55v0.55h-0.55zM57.7 87.6h0.55v0.55h-0.55zM47.3 96.5h0.55v0.55h-0.55zM60.0 95.3h0.55v0.55h-0.55zM49.8 93.8h0.55v0.55h-0.55zM52.1 97.0h0.55v0.55h-0.55zM56.4 95.8h0.55v0.55h-0.55zM52.8 96.6h0.55v0.55h-0.55zM65.2 100.5h0.55v0.55h-0.55zM55.1 95.5h0.55v0.55h-0.55zM46.4 98.8h0.55v0.55h-0.55zM54.3 96.9h0.55v0.55h-0.55zM53.5 98.2h0.55v0.55h-0.55zM42.8 94.3h0.55v0.55h-0.55zM49.6 93.3h0.55v0.55h-0.55zM47.2 98.3h0.55v0.55h-0.55zM58.7 92.5h0.55v0.55h-0.55zM55.4 96.8h0.55v0.55h-0.55zM48.1 93.6h0.55v0.55h-0.55zM49.7 94.2h0.55v0.55h-0.55zM53.0 88.6h0.55v0.55h-0.55zM59.8 98.2h0.55v0.55h-0.55zM53.5 88.7h0.55v0.55h-0.55zM52.4 98.8h0.55v0.55h-0.55zM45.7 93.4h0.55v0.55h-0.55zM54.9 98.4h0.55v0.55h-0.55zM48.4 96.7h0.55v0.55h-0.55zM47.5 95.5h0.55v0.55h-0.55zM62.5 95.5h0.55v0.55h-0.55zM53.5 100.3h0.55v0.55h-0.55zM43.5 93.6h0.55v0.55h-0.55zM54.1 100.2h0.55v0.55h-0.55zM48.0 94.9h0.55v0.55h-0.55zM54.9 98.9h0.55v0.55h-0.55zM51.0 88.5h0.55v0.55h-0.55zM45.0 87.2h0.55v0.55h-0.55zM52.1 93.0h0.55v0.55h-0.55zM60.8 96.7h0.55v0.55h-0.55zM53.5 97.2h0.55v0.55h-0.55zM47.6 97.8h0.55v0.55h-0.55zM63.1 89.9h0.55v0.55h-0.55zM47.3 98.9h0.55v0.55h-0.55zM58.3 99.0h0.55v0.55h-0.55zM45.0 98.2h0.55v0.55h-0.55zM48.4 92.3h0.55v0.55h-0.55zM51.5 94.8h0.55v0.55h-0.55zM58.0 97.2h0.55v0.55h-0.55zM46.5 98.7h0.55v0.55h-0.55zM48.4 94.9h0.55v0.55h-0.55zM46.8 90.5h0.55v0.55h-0.55zM64.5 88.8h0.55v0.55h-0.55zM48.8 96.2h0.55v0.55h-0.55zM42.7 101.2h0.55v0.55h-0.55zM51.5 98.3h0.55v0.55h-0.55zM65.9 91.9h0.55v0.55h-0.55zM57.7 99.1h0.55v0.55h-0.55zM46.7 95.6h0.55v0.55h-0.55zM62.6 97.3h0.55v0.55h-0.55zM51.2 92.1h0.55v0.55h-0.55zM57.9 97.7h0.55v0.55h-0.55zM67.6 99.4h0.55v0.55h-0.55zM57.1 96.7h0.55v0.55h-0.55zM51.3 94.6h0.55v0.55h-0.55zM53.8 97.5h0.55v0.55h-0.55zM57.0 100.4h0.55v0.55h-0.55zM52.9 94.2h0.55v0.55h-0.55zM46.5 100.2h0.55v0.55h-0.55zM55.7 98.3h0.55v0.55h-0.55zM54.7 95.7h0.55v0.55h-0.55zM61.3 88.0h0.55v0.55h-0.55zM46.5 96.0h0.55v0.55h-0.55zM41.4 101.3h0.55v0.55h-0.55zM50.5 94.8h0.55v0.55h-0.55zM62.5 99.4h0.55v0.55h-0.55zM49.5 100.5h0.55v0.55h-0.55zM55.3 95.8h0.55v0.55h-0.55zM54.3 93.0h0.55v0.55h-0.55zM49.8 100.0h0.55v0.55h-0.55zM56.1 91.1h0.55v0.55h-0.55zM63.1 94.4h0.55v0.55h-0.55zM56.9 94.3h0.55v0.55h-0.55zM57.0 88.5h0.55v0.55h-0.55zM52.0 101.3h0.55v0.55h-0.55zM47.8 101.1h0.55v0.55h-0.55zM49.5 99.1h0.55v0.55h-0.55zM58.8 89.9h0.55v0.55h-0.55zM55.0 82.6h0.55v0.55h-0.55zM48.0 90.2h0.55v0.55h-0.55zM52.7 93.4h0.55v0.55h-0.55zM46.9 94.5h0.55v0.55h-0.55zM52.9 94.5h0.55v0.55h-0.55zM45.3 97.6h0.55v0.55h-0.55zM53.2 92.7h0.55v0.55h-0.55zM56.9 88.0h0.55v0.55h-0.55zM53.7 94.6h0.55v0.55h-0.55zM61.1 91.5h0.55v0.55h-0.55zM45.6 92.5h0.55v0.55h-0.55zM65.2 96.1h0.55v0.55h-0.55zM44.0 97.5h0.55v0.55h-0.55zM54.2 90.7h0.55v0.55h-0.55zM58.2 82.1h0.55v0.55h-0.55zM57.6 89.2h0.55v0.55h-0.55zM57.0 88.2h0.55v0.55h-0.55zM56.7 87.5h0.55v0.55h-0.55zM57.6 85.3h0.55v0.55h-0.55zM58.0 87.4h0.55v0.55h-0.55zM56.9 85.3h0.55v0.55h-0.55zM54.0 87.6h0.55v0.55h-0.55zM59.4 81.1h0.55v0.55h-0.55zM55.4 90.3h0.55v0.55h-0.55zM59.7 85.3h0.55v0.55h-0.55zM69.1 93.1h0.55v0.55h-0.55zM51.3 97.4h0.55v0.55h-0.55zM59.2 74.0h0.55v0.55h-0.55zM59.7 96.0h0.55v0.55h-0.55zM57.6 85.5h0.55v0.55h-0.55z" fill="#222" fill-opacity="0.7"/>
<ellipse cx="51.2" cy="100.8" rx="8.4" ry="7.6" transform="rotate(-15 51.2 100.8)" fill="#111" fill-opacity="0.92" filter="url(#sb1)"/>
<ellipse cx="45.5" cy="99" rx="3" ry="4" transform="rotate(0 45.5 99)" fill="#111" fill-opacity="0.7" filter="url(#sb1)"/>
</g>
<rect x="40.6" y="69.4" width="33.40" height="32.60" fill="none" stroke="#111" stroke-width="1.25"/>
<line x1="51.6" y1="69.4" x2="51.6" y2="102.0" stroke="#111" stroke-width="1.1"/>
<line x1="40.6" y1="92.0" x2="74.0" y2="92.0" stroke="#111" stroke-width="1.1"/>
<text x="67.70" y="77.00" font-size="5.6" font-weight="bold" text-anchor="middle" fill="#111" >3</text>
<text transform="translate(37.60,72.70) rotate(-90)" font-size="4.9" font-weight="normal" text-anchor="middle" fill="#111">10<tspan font-size="3.2" dy="-1.7">4</tspan></text>
<text transform="translate(37.80,102.20) rotate(-90)" font-size="4.9" font-weight="normal" text-anchor="middle" fill="#111">0</text>
<text x="42.40" y="108.20" font-size="4.7" font-weight="normal" text-anchor="middle" fill="#111" >10</text>
<text x="72.00" y="108.20" font-size="4.7" text-anchor="middle" fill="#111">10<tspan font-size="3.0" dy="-1.7">4</tspan></text>
<g clip-path="url(#ca11)">
<path d="M95.4 87.2h0.55v0.55h-0.55zM93.6 96.6h0.55v0.55h-0.55zM112.9 87.0h0.55v0.55h-0.55zM114.8 100.6h0.55v0.55h-0.55zM111.5 91.9h0.55v0.55h-0.55zM95.4 92.6h0.55v0.55h-0.55zM100.6 84.5h0.55v0.55h-0.55zM100.7 86.2h0.55v0.55h-0.55zM90.8 94.5h0.55v0.55h-0.55zM92.2 75.9h0.55v0.55h-0.55zM101.9 96.4h0.55v0.55h-0.55zM104.3 98.7h0.55v0.55h-0.55zM111.1 89.9h0.55v0.55h-0.55zM100.3 86.6h0.55v0.55h-0.55zM108.7 85.4h0.55v0.55h-0.55zM98.9 76.9h0.55v0.55h-0.55zM99.7 92.4h0.55v0.55h-0.55zM117.2 79.2h0.55v0.55h-0.55zM94.0 90.0h0.55v0.55h-0.55zM86.6 82.8h0.55v0.55h-0.55zM88.0 96.4h0.55v0.55h-0.55zM99.1 96.6h0.55v0.55h-0.55zM89.4 95.9h0.55v0.55h-0.55zM95.0 92.0h0.55v0.55h-0.55zM107.6 90.5h0.55v0.55h-0.55zM94.8 79.9h0.55v0.55h-0.55zM100.1 96.3h0.55v0.55h-0.55zM93.1 91.1h0.55v0.55h-0.55zM103.5 99.5h0.55v0.55h-0.55zM95.1 79.8h0.55v0.55h-0.55zM94.5 80.6h0.55v0.55h-0.55zM101.7 89.7h0.55v0.55h-0.55zM108.4 87.6h0.55v0.55h-0.55zM102.2 92.1h0.55v0.55h-0.55zM102.3 80.6h0.55v0.55h-0.55zM106.1 96.5h0.55v0.55h-0.55zM99.6 95.6h0.55v0.55h-0.55zM104.7 96.6h0.55v0.55h-0.55zM92.7 87.5h0.55v0.55h-0.55zM102.9 94.9h0.55v0.55h-0.55zM104.5 92.9h0.55v0.55h-0.55zM95.2 99.0h0.55v0.55h-0.55zM104.0 97.9h0.55v0.55h-0.55zM92.9 92.4h0.55v0.55h-0.55zM94.4 89.3h0.55v0.55h-0.55zM101.0 93.2h0.55v0.55h-0.55zM90.0 74.3h0.55v0.55h-0.55zM92.1 95.4h0.55v0.55h-0.55zM91.4 94.6h0.55v0.55h-0.55zM95.0 84.8h0.55v0.55h-0.55zM98.0 90.7h0.55v0.55h-0.55zM107.1 81.1h0.55v0.55h-0.55zM91.5 99.5h0.55v0.55h-0.55zM107.1 86.9h0.55v0.55h-0.55zM92.0 94.0h0.55v0.55h-0.55zM95.3 74.2h0.55v0.55h-0.55zM105.0 95.8h0.55v0.55h-0.55zM108.1 80.2h0.55v0.55h-0.55zM86.5 86.4h0.55v0.55h-0.55zM89.7 89.6h0.55v0.55h-0.55zM101.2 94.0h0.55v0.55h-0.55zM111.9 82.3h0.55v0.55h-0.55zM107.3 91.3h0.55v0.55h-0.55zM88.1 93.0h0.55v0.55h-0.55zM92.8 98.6h0.55v0.55h-0.55zM110.8 85.7h0.55v0.55h-0.55zM90.7 92.6h0.55v0.55h-0.55zM89.7 98.1h0.55v0.55h-0.55zM100.2 85.6h0.55v0.55h-0.55zM93.0 96.6h0.55v0.55h-0.55zM91.5 90.3h0.55v0.55h-0.55zM107.5 99.3h0.55v0.55h-0.55zM105.2 91.1h0.55v0.55h-0.55zM115.3 94.2h0.55v0.55h-0.55zM103.5 94.6h0.55v0.55h-0.55zM106.1 92.3h0.55v0.55h-0.55zM96.5 80.1h0.55v0.55h-0.55zM117.6 80.3h0.55v0.55h-0.55zM118.0 97.9h0.55v0.55h-0.55zM93.5 93.3h0.55v0.55h-0.55zM97.6 77.2h0.55v0.55h-0.55zM96.0 93.3h0.55v0.55h-0.55zM109.3 81.7h0.55v0.55h-0.55zM102.2 91.3h0.55v0.55h-0.55zM100.5 91.9h0.55v0.55h-0.55zM94.7 81.8h0.55v0.55h-0.55zM103.5 93.3h0.55v0.55h-0.55zM105.2 99.2h0.55v0.55h-0.55zM90.6 94.5h0.55v0.55h-0.55zM99.3 96.1h0.55v0.55h-0.55zM97.0 87.0h0.55v0.55h-0.55zM101.6 94.4h0.55v0.55h-0.55zM90.6 101.0h0.55v0.55h-0.55zM110.1 93.2h0.55v0.55h-0.55zM97.8 89.4h0.55v0.55h-0.55zM89.5 88.3h0.55v0.55h-0.55zM107.9 83.8h0.55v0.55h-0.55zM94.6 97.4h0.55v0.55h-0.55zM116.2 84.6h0.55v0.55h-0.55zM109.0 85.5h0.55v0.55h-0.55zM103.0 94.1h0.55v0.55h-0.55zM88.9 99.1h0.55v0.55h-0.55zM116.1 89.9h0.55v0.55h-0.55zM100.8 82.6h0.55v0.55h-0.55zM116.0 90.0h0.55v0.55h-0.55zM87.4 97.4h0.55v0.55h-0.55zM92.5 87.5h0.55v0.55h-0.55zM94.0 95.3h0.55v0.55h-0.55zM112.2 82.8h0.55v0.55h-0.55zM102.1 78.1h0.55v0.55h-0.55zM113.4 89.1h0.55v0.55h-0.55zM98.8 100.6h0.55v0.55h-0.55zM91.5 92.1h0.55v0.55h-0.55zM102.4 89.3h0.55v0.55h-0.55zM113.0 84.8h0.55v0.55h-0.55zM109.3 99.7h0.55v0.55h-0.55zM90.1 87.9h0.55v0.55h-0.55zM102.6 89.5h0.55v0.55h-0.55zM99.5 87.7h0.55v0.55h-0.55zM98.5 94.4h0.55v0.55h-0.55zM105.6 84.9h0.55v0.55h-0.55zM97.5 85.8h0.55v0.55h-0.55zM96.4 81.1h0.55v0.55h-0.55zM108.4 94.9h0.55v0.55h-0.55zM97.4 86.3h0.55v0.55h-0.55zM94.3 86.7h0.55v0.55h-0.55zM88.3 96.0h0.55v0.55h-0.55zM103.8 79.5h0.55v0.55h-0.55zM94.4 92.0h0.55v0.55h-0.55zM98.6 87.1h0.55v0.55h-0.55zM97.5 89.0h0.55v0.55h-0.55zM110.7 89.3h0.55v0.55h-0.55zM98.4 87.3h0.55v0.55h-0.55zM92.5 86.4h0.55v0.55h-0.55zM109.7 91.7h0.55v0.55h-0.55zM115.4 96.7h0.55v0.55h-0.55zM100.9 89.7h0.55v0.55h-0.55zM88.8 93.6h0.55v0.55h-0.55zM95.0 80.2h0.55v0.55h-0.55zM101.3 94.3h0.55v0.55h-0.55zM100.6 87.6h0.55v0.55h-0.55zM104.0 98.2h0.55v0.55h-0.55zM96.4 94.8h0.55v0.55h-0.55zM108.4 86.8h0.55v0.55h-0.55zM100.2 85.7h0.55v0.55h-0.55zM104.5 87.9h0.55v0.55h-0.55zM109.4 84.7h0.55v0.55h-0.55zM114.8 87.4h0.55v0.55h-0.55zM90.5 85.4h0.55v0.55h-0.55zM104.7 84.5h0.55v0.55h-0.55zM116.9 98.4h0.55v0.55h-0.55zM103.0 80.7h0.55v0.55h-0.55zM98.3 86.0h0.55v0.55h-0.55zM107.4 99.3h0.55v0.55h-0.55zM89.7 89.4h0.55v0.55h-0.55zM101.8 94.1h0.55v0.55h-0.55zM88.3 93.5h0.55v0.55h-0.55zM98.6 97.7h0.55v0.55h-0.55zM94.0 89.2h0.55v0.55h-0.55zM105.5 86.0h0.55v0.55h-0.55zM107.6 97.4h0.55v0.55h-0.55zM108.0 88.8h0.55v0.55h-0.55zM91.0 89.9h0.55v0.55h-0.55zM105.4 91.3h0.55v0.55h-0.55zM104.9 94.5h0.55v0.55h-0.55zM90.1 85.2h0.55v0.55h-0.55zM112.3 86.4h0.55v0.55h-0.55zM90.5 85.2h0.55v0.55h-0.55zM107.5 82.3h0.55v0.55h-0.55zM91.4 99.0h0.55v0.55h-0.55zM100.3 91.3h0.55v0.55h-0.55zM92.8 90.0h0.55v0.55h-0.55zM94.2 91.3h0.55v0.55h-0.55zM105.5 81.5h0.55v0.55h-0.55zM89.0 77.2h0.55v0.55h-0.55zM113.2 89.2h0.55v0.55h-0.55zM98.8 90.6h0.55v0.55h-0.55zM108.7 92.4h0.55v0.55h-0.55zM106.9 89.1h0.55v0.55h-0.55zM97.8 90.7h0.55v0.55h-0.55zM105.4 90.8h0.55v0.55h-0.55zM117.5 99.1h0.55v0.55h-0.55zM90.6 91.1h0.55v0.55h-0.55zM108.3 88.7h0.55v0.55h-0.55zM97.6 88.6h0.55v0.55h-0.55zM110.4 72.7h0.55v0.55h-0.55zM111.7 97.3h0.55v0.55h-0.55zM98.7 95.0h0.55v0.55h-0.55zM90.5 99.5h0.55v0.55h-0.55zM112.2 89.5h0.55v0.55h-0.55zM95.5 87.9h0.55v0.55h-0.55zM96.4 82.4h0.55v0.55h-0.55zM99.2 94.9h0.55v0.55h-0.55zM102.2 94.1h0.55v0.55h-0.55zM105.6 97.4h0.55v0.55h-0.55zM87.8 87.9h0.55v0.55h-0.55zM89.3 96.4h0.55v0.55h-0.55zM102.3 90.9h0.55v0.55h-0.55zM93.1 93.9h0.55v0.55h-0.55zM98.8 85.8h0.55v0.55h-0.55zM101.7 86.1h0.55v0.55h-0.55zM108.4 94.6h0.55v0.55h-0.55zM92.9 95.7h0.55v0.55h-0.55zM99.2 86.0h0.55v0.55h-0.55zM89.3 80.2h0.55v0.55h-0.55zM88.5 94.4h0.55v0.55h-0.55zM110.0 85.6h0.55v0.55h-0.55zM100.7 93.3h0.55v0.55h-0.55zM106.7 93.4h0.55v0.55h-0.55zM111.1 95.3h0.55v0.55h-0.55zM92.0 94.4h0.55v0.55h-0.55zM99.5 95.0h0.55v0.55h-0.55zM96.7 97.1h0.55v0.55h-0.55zM111.0 84.1h0.55v0.55h-0.55zM94.0 93.3h0.55v0.55h-0.55zM103.7 91.6h0.55v0.55h-0.55zM106.1 82.1h0.55v0.55h-0.55zM107.1 98.5h0.55v0.55h-0.55zM109.8 93.1h0.55v0.55h-0.55zM97.0 94.0h0.55v0.55h-0.55zM97.3 80.0h0.55v0.55h-0.55zM93.2 91.2h0.55v0.55h-0.55zM93.5 84.9h0.55v0.55h-0.55zM96.6 88.6h0.55v0.55h-0.55zM99.6 90.6h0.55v0.55h-0.55zM101.2 97.8h0.55v0.55h-0.55zM100.5 93.7h0.55v0.55h-0.55zM95.6 96.1h0.55v0.55h-0.55zM95.4 86.9h0.55v0.55h-0.55zM87.8 98.2h0.55v0.55h-0.55zM94.2 93.1h0.55v0.55h-0.55zM110.0 93.8h0.55v0.55h-0.55zM108.5 95.0h0.55v0.55h-0.55zM92.8 91.9h0.55v0.55h-0.55zM93.0 84.3h0.55v0.55h-0.55zM101.4 85.3h0.55v0.55h-0.55zM114.4 84.4h0.55v0.55h-0.55zM93.9 92.1h0.55v0.55h-0.55zM94.1 91.8h0.55v0.55h-0.55zM92.4 81.6h0.55v0.55h-0.55zM113.7 92.8h0.55v0.55h-0.55zM100.2 87.6h0.55v0.55h-0.55zM97.8 93.2h0.55v0.55h-0.55zM91.3 100.5h0.55v0.55h-0.55zM89.7 100.1h0.55v0.55h-0.55zM98.3 91.3h0.55v0.55h-0.55zM112.3 96.0h0.55v0.55h-0.55zM107.2 82.8h0.55v0.55h-0.55zM97.7 87.7h0.55v0.55h-0.55zM89.3 99.0h0.55v0.55h-0.55zM101.8 90.8h0.55v0.55h-0.55zM107.3 90.1h0.55v0.55h-0.55zM112.4 83.1h0.55v0.55h-0.55zM106.7 83.3h0.55v0.55h-0.55zM112.2 87.9h0.55v0.55h-0.55zM110.3 87.1h0.55v0.55h-0.55zM103.5 98.6h0.55v0.55h-0.55zM90.5 92.4h0.55v0.55h-0.55zM91.6 97.6h0.55v0.55h-0.55zM93.1 88.9h0.55v0.55h-0.55zM97.8 99.3h0.55v0.55h-0.55zM89.1 91.7h0.55v0.55h-0.55zM95.6 87.4h0.55v0.55h-0.55zM91.5 90.5h0.55v0.55h-0.55zM99.9 80.0h0.55v0.55h-0.55zM100.5 82.5h0.55v0.55h-0.55zM89.8 91.3h0.55v0.55h-0.55zM97.2 98.1h0.55v0.55h-0.55zM93.4 78.9h0.55v0.55h-0.55zM102.0 98.2h0.55v0.55h-0.55zM94.3 96.1h0.55v0.55h-0.55zM89.7 100.9h0.55v0.55h-0.55zM97.9 86.3h0.55v0.55h-0.55zM90.2 83.1h0.55v0.55h-0.55zM88.7 83.8h0.55v0.55h-0.55zM98.7 93.5h0.55v0.55h-0.55zM97.6 92.5h0.55v0.55h-0.55zM110.0 88.0h0.55v0.55h-0.55zM100.9 86.1h0.55v0.55h-0.55zM96.9 94.1h0.55v0.55h-0.55zM102.4 79.7h0.55v0.55h-0.55zM90.0 92.3h0.55v0.55h-0.55zM98.3 99.1h0.55v0.55h-0.55zM93.0 77.0h0.55v0.55h-0.55zM109.1 78.6h0.55v0.55h-0.55zM90.1 94.5h0.55v0.55h-0.55zM101.6 94.5h0.55v0.55h-0.55zM103.7 85.6h0.55v0.55h-0.55zM109.8 78.2h0.55v0.55h-0.55zM93.6 93.5h0.55v0.55h-0.55zM99.7 84.2h0.55v0.55h-0.55zM114.9 100.0h0.55v0.55h-0.55zM90.4 94.4h0.55v0.55h-0.55zM92.7 88.5h0.55v0.55h-0.55zM108.4 91.1h0.55v0.55h-0.55zM98.0 91.8h0.55v0.55h-0.55zM88.7 100.5h0.55v0.55h-0.55zM92.7 100.7h0.55v0.55h-0.55zM94.4 88.2h0.55v0.55h-0.55zM113.2 91.1h0.55v0.55h-0.55zM92.6 87.8h0.55v0.55h-0.55zM104.6 87.7h0.55v0.55h-0.55zM88.0 87.2h0.55v0.55h-0.55zM98.0 92.8h0.55v0.55h-0.55zM93.6 100.5h0.55v0.55h-0.55zM89.5 86.8h0.55v0.55h-0.55zM104.0 93.9h0.55v0.55h-0.55zM95.9 98.0h0.55v0.55h-0.55zM100.3 100.2h0.55v0.55h-0.55zM97.2 92.5h0.55v0.55h-0.55zM102.9 78.4h0.55v0.55h-0.55zM107.9 92.5h0.55v0.55h-0.55zM101.7 100.5h0.55v0.55h-0.55zM101.0 77.5h0.55v0.55h-0.55zM89.9 89.7h0.55v0.55h-0.55zM100.1 87.8h0.55v0.55h-0.55zM108.2 94.4h0.55v0.55h-0.55zM99.2 91.4h0.55v0.55h-0.55zM102.6 92.4h0.55v0.55h-0.55zM92.6 97.0h0.55v0.55h-0.55zM91.2 91.4h0.55v0.55h-0.55zM94.9 83.3h0.55v0.55h-0.55zM104.7 90.0h0.55v0.55h-0.55zM87.9 91.4h0.55v0.55h-0.55zM94.1 96.4h0.55v0.55h-0.55zM89.3 85.9h0.55v0.55h-0.55zM98.4 93.9h0.55v0.55h-0.55zM107.6 88.4h0.55v0.55h-0.55zM110.0 96.8h0.55v0.55h-0.55zM90.6 90.5h0.55v0.55h-0.55zM94.3 97.6h0.55v0.55h-0.55zM107.5 88.5h0.55v0.55h-0.55zM94.6 93.8h0.55v0.55h-0.55zM90.9 82.8h0.55v0.55h-0.55zM90.1 94.2h0.55v0.55h-0.55zM88.8 100.0h0.55v0.55h-0.55zM105.6 91.3h0.55v0.55h-0.55zM112.7 87.2h0.55v0.55h-0.55zM93.4 84.1h0.55v0.55h-0.55zM92.9 92.3h0.55v0.55h-0.55zM106.1 99.3h0.55v0.55h-0.55zM96.0 86.2h0.55v0.55h-0.55zM95.6 88.3h0.55v0.55h-0.55zM94.4 88.6h0.55v0.55h-0.55zM90.8 91.4h0.55v0.55h-0.55zM94.1 90.3h0.55v0.55h-0.55zM104.8 95.0h0.55v0.55h-0.55zM93.2 83.6h0.55v0.55h-0.55zM92.8 89.4h0.55v0.55h-0.55zM92.7 97.3h0.55v0.55h-0.55zM116.1 87.0h0.55v0.55h-0.55zM96.2 88.5h0.55v0.55h-0.55zM97.0 90.0h0.55v0.55h-0.55zM97.5 85.6h0.55v0.55h-0.55zM102.0 87.1h0.55v0.55h-0.55zM103.7 83.1h0.55v0.55h-0.55zM93.9 83.4h0.55v0.55h-0.55zM102.8 87.1h0.55v0.55h-0.55zM105.6 86.6h0.55v0.55h-0.55zM107.5 91.3h0.55v0.55h-0.55zM102.4 91.8h0.55v0.55h-0.55zM95.4 88.8h0.55v0.55h-0.55zM103.7 95.5h0.55v0.55h-0.55zM114.1 81.7h0.55v0.55h-0.55zM109.1 89.6h0.55v0.55h-0.55zM100.7 85.4h0.55v0.55h-0.55zM114.0 84.0h0.55v0.55h-0.55zM97.8 86.1h0.55v0.55h-0.55zM117.8 98.0h0.55v0.55h-0.55zM86.4 89.0h0.55v0.55h-0.55zM102.1 87.7h0.55v0.55h-0.55zM95.0 83.9h0.55v0.55h-0.55zM100.7 83.3h0.55v0.55h-0.55zM102.1 86.1h0.55v0.55h-0.55zM95.2 84.7h0.55v0.55h-0.55zM100.5 95.7h0.55v0.55h-0.55zM107.5 88.3h0.55v0.55h-0.55zM87.8 91.5h0.55v0.55h-0.55zM114.8 91.6h0.55v0.55h-0.55zM97.2 76.8h0.55v0.55h-0.55zM88.7 88.8h0.55v0.55h-0.55zM87.2 96.0h0.55v0.55h-0.55zM88.3 76.3h0.55v0.55h-0.55zM88.3 83.2h0.55v0.55h-0.55zM93.0 79.0h0.55v0.55h-0.55zM91.5 97.6h0.55v0.55h-0.55zM86.7 97.1h0.55v0.55h-0.55zM92.0 88.0h0.55v0.55h-0.55zM87.7 76.2h0.55v0.55h-0.55zM87.2 92.3h0.55v0.55h-0.55zM90.6 93.5h0.55v0.55h-0.55zM95.4 84.2h0.55v0.55h-0.55zM89.9 101.0h0.55v0.55h-0.55zM88.9 80.7h0.55v0.55h-0.55zM90.4 76.6h0.55v0.55h-0.55zM93.4 72.0h0.55v0.55h-0.55zM91.9 82.3h0.55v0.55h-0.55zM92.5 89.5h0.55v0.55h-0.55zM88.3 83.7h0.55v0.55h-0.55zM88.7 87.3h0.55v0.55h-0.55zM91.6 94.8h0.55v0.55h-0.55zM91.3 93.5h0.55v0.55h-0.55zM86.9 81.7h0.55v0.55h-0.55zM96.9 86.2h0.55v0.55h-0.55zM90.3 86.4h0.55v0.55h-0.55zM90.4 72.4h0.55v0.55h-0.55zM88.0 82.5h0.55v0.55h-0.55zM90.5 76.4h0.55v0.55h-0.55zM89.7 77.6h0.55v0.55h-0.55zM87.6 91.4h0.55v0.55h-0.55zM94.0 89.2h0.55v0.55h-0.55zM89.4 79.2h0.55v0.55h-0.55zM94.6 94.2h0.55v0.55h-0.55zM90.7 81.9h0.55v0.55h-0.55zM90.0 87.8h0.55v0.55h-0.55zM90.0 87.8h0.55v0.55h-0.55zM87.7 84.5h0.55v0.55h-0.55zM89.0 93.5h0.55v0.55h-0.55zM86.3 95.5h0.55v0.55h-0.55zM89.7 79.6h0.55v0.55h-0.55zM90.1 85.1h0.55v0.55h-0.55zM89.3 87.8h0.55v0.55h-0.55zM92.1 83.8h0.55v0.55h-0.55zM94.9 87.5h0.55v0.55h-0.55zM88.0 88.9h0.55v0.55h-0.55zM96.5 93.6h0.55v0.55h-0.55zM86.8 83.3h0.55v0.55h-0.55zM91.7 75.1h0.55v0.55h-0.55zM91.3 92.3h0.55v0.55h-0.55zM92.4 78.2h0.55v0.55h-0.55zM88.0 74.2h0.55v0.55h-0.55zM90.1 95.5h0.55v0.55h-0.55zM90.8 81.2h0.55v0.55h-0.55zM90.5 83.8h0.55v0.55h-0.55zM87.0 74.9h0.55v0.55h-0.55zM91.9 75.5h0.55v0.55h-0.55zM91.7 89.6h0.55v0.55h-0.55zM91.2 96.4h0.55v0.55h-0.55zM87.6 73.0h0.55v0.55h-0.55zM93.2 85.3h0.55v0.55h-0.55zM88.2 94.8h0.55v0.55h-0.55zM89.2 88.0h0.55v0.55h-0.55zM88.8 77.5h0.55v0.55h-0.55zM90.6 76.6h0.55v0.55h-0.55zM93.6 93.7h0.55v0.55h-0.55zM96.4 92.8h0.55v0.55h-0.55zM94.8 86.3h0.55v0.55h-0.55zM88.7 88.2h0.55v0.55h-0.55zM87.2 90.5h0.55v0.55h-0.55zM88.7 86.3h0.55v0.55h-0.55zM87.5 82.9h0.55v0.55h-0.55zM92.9 82.2h0.55v0.55h-0.55zM88.0 86.6h0.55v0.55h-0.55zM92.6 82.5h0.55v0.55h-0.55zM86.6 70.5h0.55v0.55h-0.55zM89.7 88.3h0.55v0.55h-0.55zM93.2 86.6h0.55v0.55h-0.55zM91.4 79.7h0.55v0.55h-0.55zM89.7 89.1h0.55v0.55h-0.55zM86.9 82.9h0.55v0.55h-0.55zM95.9 76.8h0.55v0.55h-0.55zM90.3 95.5h0.55v0.55h-0.55zM89.3 85.2h0.55v0.55h-0.55zM88.7 95.3h0.55v0.55h-0.55zM89.7 80.9h0.55v0.55h-0.55zM91.3 82.0h0.55v0.55h-0.55zM88.5 97.5h0.55v0.55h-0.55zM92.9 85.1h0.55v0.55h-0.55zM92.4 91.3h0.55v0.55h-0.55zM91.7 84.5h0.55v0.55h-0.55zM90.2 87.7h0.55v0.55h-0.55zM91.7 87.2h0.55v0.55h-0.55zM88.4 83.5h0.55v0.55h-0.55zM91.3 75.6h0.55v0.55h-0.55zM90.0 90.7h0.55v0.55h-0.55zM90.5 81.6h0.55v0.55h-0.55zM89.9 79.9h0.55v0.55h-0.55zM92.9 80.9h0.55v0.55h-0.55zM90.9 85.9h0.55v0.55h-0.55zM88.6 72.8h0.55v0.55h-0.55zM89.6 76.9h0.55v0.55h-0.55zM88.1 84.1h0.55v0.55h-0.55zM87.7 86.8h0.55v0.55h-0.55zM87.8 80.1h0.55v0.55h-0.55zM89.3 96.8h0.55v0.55h-0.55zM94.6 92.3h0.55v0.55h-0.55zM87.8 84.2h0.55v0.55h-0.55zM92.7 91.1h0.55v0.55h-0.55zM87.8 90.6h0.55v0.55h-0.55zM91.9 79.5h0.55v0.55h-0.55zM96.3 81.7h0.55v0.55h-0.55zM97.2 82.7h0.55v0.55h-0.55zM89.8 100.5h0.55v0.55h-0.55zM88.5 80.1h0.55v0.55h-0.55zM94.3 83.8h0.55v0.55h-0.55zM91.4 73.3h0.55v0.55h-0.55zM95.3 92.6h0.55v0.55h-0.55zM91.0 90.2h0.55v0.55h-0.55zM88.5 80.1h0.55v0.55h-0.55zM93.6 91.5h0.55v0.55h-0.55zM92.7 90.2h0.55v0.55h-0.55zM87.3 72.9h0.55v0.55h-0.55zM91.9 85.6h0.55v0.55h-0.55zM92.9 81.8h0.55v0.55h-0.55zM87.4 88.0h0.55v0.55h-0.55zM88.4 70.1h0.55v0.55h-0.55zM88.2 76.6h0.55v0.55h-0.55zM86.7 79.4h0.55v0.55h-0.55zM95.1 80.6h0.55v0.55h-0.55zM93.4 83.5h0.55v0.55h-0.55zM91.2 78.3h0.55v0.55h-0.55zM95.3 77.6h0.55v0.55h-0.55zM91.7 79.1h0.55v0.55h-0.55zM90.8 74.1h0.55v0.55h-0.55zM88.9 92.0h0.55v0.55h-0.55zM92.5 72.9h0.55v0.55h-0.55zM90.8 88.6h0.55v0.55h-0.55zM88.1 81.4h0.55v0.55h-0.55zM89.3 87.6h0.55v0.55h-0.55zM92.7 95.8h0.55v0.55h-0.55zM91.0 101.2h0.55v0.55h-0.55zM87.2 99.4h0.55v0.55h-0.55zM89.2 90.7h0.55v0.55h-0.55zM89.6 84.9h0.55v0.55h-0.55zM87.3 87.5h0.55v0.55h-0.55zM95.9 85.4h0.55v0.55h-0.55zM89.9 84.2h0.55v0.55h-0.55zM92.1 82.4h0.55v0.55h-0.55zM90.0 86.0h0.55v0.55h-0.55zM93.8 92.3h0.55v0.55h-0.55zM86.9 78.7h0.55v0.55h-0.55zM90.1 91.4h0.55v0.55h-0.55zM92.8 82.4h0.55v0.55h-0.55zM96.2 82.8h0.55v0.55h-0.55zM94.1 96.3h0.55v0.55h-0.55zM94.7 85.9h0.55v0.55h-0.55zM91.7 71.1h0.55v0.55h-0.55zM92.1 93.2h0.55v0.55h-0.55zM89.7 93.0h0.55v0.55h-0.55zM91.7 97.2h0.55v0.55h-0.55zM87.2 75.2h0.55v0.55h-0.55zM94.8 76.2h0.55v0.55h-0.55zM87.6 80.7h0.55v0.55h-0.55zM92.6 80.2h0.55v0.55h-0.55zM92.2 88.9h0.55v0.55h-0.55zM87.3 73.5h0.55v0.55h-0.55zM94.8 78.0h0.55v0.55h-0.55zM86.9 87.4h0.55v0.55h-0.55zM90.2 76.1h0.55v0.55h-0.55zM93.2 92.0h0.55v0.55h-0.55zM90.8 77.7h0.55v0.55h-0.55zM91.1 87.5h0.55v0.55h-0.55zM87.3 84.4h0.55v0.55h-0.55zM99.6 74.5h0.55v0.55h-0.55zM88.7 79.9h0.55v0.55h-0.55zM91.8 83.0h0.55v0.55h-0.55zM92.9 88.5h0.55v0.55h-0.55zM93.4 85.2h0.55v0.55h-0.55zM90.7 72.3h0.55v0.55h-0.55zM90.2 91.7h0.55v0.55h-0.55zM101.7 82.8h0.55v0.55h-0.55zM106.4 86.2h0.55v0.55h-0.55zM96.6 89.2h0.55v0.55h-0.55zM117.1 77.0h0.55v0.55h-0.55zM97.0 71.2h0.55v0.55h-0.55zM89.7 72.5h0.55v0.55h-0.55zM99.7 96.2h0.55v0.55h-0.55zM108.0 100.2h0.55v0.55h-0.55zM112.2 88.6h0.55v0.55h-0.55zM104.4 71.2h0.55v0.55h-0.55zM98.5 78.8h0.55v0.55h-0.55zM105.7 72.8h0.55v0.55h-0.55zM103.3 82.2h0.55v0.55h-0.55zM101.8 83.1h0.55v0.55h-0.55zM89.9 93.0h0.55v0.55h-0.55zM111.1 89.0h0.55v0.55h-0.55zM90.3 89.0h0.55v0.55h-0.55zM113.3 100.8h0.55v0.55h-0.55zM109.9 72.2h0.55v0.55h-0.55zM113.5 91.0h0.55v0.55h-0.55zM95.2 98.8h0.55v0.55h-0.55zM111.9 98.0h0.55v0.55h-0.55zM94.3 88.3h0.55v0.55h-0.55zM98.3 79.8h0.55v0.55h-0.55zM109.9 89.5h0.55v0.55h-0.55zM96.9 87.3h0.55v0.55h-0.55zM115.0 88.0h0.55v0.55h-0.55zM114.6 88.0h0.55v0.55h-0.55zM117.0 71.7h0.55v0.55h-0.55zM100.8 87.6h0.55v0.55h-0.55zM108.9 100.2h0.55v0.55h-0.55zM105.7 85.3h0.55v0.55h-0.55zM106.1 87.0h0.55v0.55h-0.55zM108.2 99.6h0.55v0.55h-0.55zM87.2 80.5h0.55v0.55h-0.55zM113.4 72.6h0.55v0.55h-0.55zM110.8 71.7h0.55v0.55h-0.55zM106.5 95.1h0.55v0.55h-0.55zM94.0 82.4h0.55v0.55h-0.55zM93.7 92.2h0.55v0.55h-0.55zM102.9 89.2h0.55v0.55h-0.55zM96.7 88.6h0.55v0.55h-0.55zM115.8 94.5h0.55v0.55h-0.55zM115.7 78.3h0.55v0.55h-0.55zM102.5 82.5h0.55v0.55h-0.55zM97.3 95.2h0.55v0.55h-0.55zM92.1 87.8h0.55v0.55h-0.55zM110.3 99.2h0.55v0.55h-0.55zM87.4 79.0h0.55v0.55h-0.55zM101.8 99.3h0.55v0.55h-0.55zM91.8 96.4h0.55v0.55h-0.55zM98.9 87.5h0.55v0.55h-0.55zM115.0 72.8h0.55v0.55h-0.55zM96.8 75.5h0.55v0.55h-0.55zM90.9 80.0h0.55v0.55h-0.55zM108.1 88.4h0.55v0.55h-0.55zM90.5 95.2h0.55v0.55h-0.55zM102.2 75.2h0.55v0.55h-0.55zM111.7 95.8h0.55v0.55h-0.55zM93.4 99.4h0.55v0.55h-0.55zM111.4 77.8h0.55v0.55h-0.55zM86.8 97.2h0.55v0.55h-0.55zM111.9 73.8h0.55v0.55h-0.55zM110.1 94.3h0.55v0.55h-0.55zM106.1 96.1h0.55v0.55h-0.55zM116.7 80.8h0.55v0.55h-0.55zM112.2 98.8h0.55v0.55h-0.55zM96.3 91.6h0.55v0.55h-0.55zM107.6 96.6h0.55v0.55h-0.55zM104.0 79.2h0.55v0.55h-0.55zM94.5 87.3h0.55v0.55h-0.55zM90.9 96.9h0.55v0.55h-0.55zM113.8 78.2h0.55v0.55h-0.55zM108.0 91.3h0.55v0.55h-0.55zM90.5 94.5h0.55v0.55h-0.55zM110.1 80.1h0.55v0.55h-0.55zM89.8 79.4h0.55v0.55h-0.55zM110.3 85.0h0.55v0.55h-0.55zM111.6 75.7h0.55v0.55h-0.55zM90.0 81.4h0.55v0.55h-0.55zM113.5 75.7h0.55v0.55h-0.55zM89.0 93.7h0.55v0.55h-0.55zM89.6 91.1h0.55v0.55h-0.55zM89.3 78.3h0.55v0.55h-0.55zM107.0 97.4h0.55v0.55h-0.55zM99.2 84.5h0.55v0.55h-0.55zM87.7 81.2h0.55v0.55h-0.55zM94.2 94.8h0.55v0.55h-0.55zM108.5 94.6h0.55v0.55h-0.55zM103.0 92.1h0.55v0.55h-0.55zM90.7 82.5h0.55v0.55h-0.55zM95.7 79.4h0.55v0.55h-0.55zM109.3 77.3h0.55v0.55h-0.55zM96.7 79.4h0.55v0.55h-0.55zM113.1 90.2h0.55v0.55h-0.55zM101.4 82.3h0.55v0.55h-0.55zM114.8 99.4h0.55v0.55h-0.55zM100.5 88.0h0.55v0.55h-0.55zM113.0 78.6h0.55v0.55h-0.55zM94.7 73.9h0.55v0.55h-0.55zM102.1 94.2h0.55v0.55h-0.55zM91.6 83.9h0.55v0.55h-0.55zM116.9 85.4h0.55v0.55h-0.55zM98.4 96.3h0.55v0.55h-0.55zM113.9 82.2h0.55v0.55h-0.55zM90.6 90.2h0.55v0.55h-0.55zM109.3 98.9h0.55v0.55h-0.55zM106.9 80.2h0.55v0.55h-0.55zM102.5 79.5h0.55v0.55h-0.55zM100.4 85.0h0.55v0.55h-0.55zM94.5 98.3h0.55v0.55h-0.55zM94.6 85.3h0.55v0.55h-0.55zM94.9 75.0h0.55v0.55h-0.55zM94.5 90.3h0.55v0.55h-0.55zM94.1 83.4h0.55v0.55h-0.55zM95.1 71.6h0.55v0.55h-0.55zM93.9 95.7h0.55v0.55h-0.55zM89.9 96.0h0.55v0.55h-0.55zM88.6 93.7h0.55v0.55h-0.55zM90.7 83.3h0.55v0.55h-0.55zM88.5 95.1h0.55v0.55h-0.55zM92.9 73.5h0.55v0.55h-0.55zM95.0 77.5h0.55v0.55h-0.55zM90.0 83.4h0.55v0.55h-0.55zM91.6 97.9h0.55v0.55h-0.55zM94.7 90.0h0.55v0.55h-0.55zM89.9 74.1h0.55v0.55h-0.55zM87.4 86.6h0.55v0.55h-0.55zM91.7 84.4h0.55v0.55h-0.55zM95.1 83.4h0.55v0.55h-0.55zM89.7 83.5h0.55v0.55h-0.55zM88.2 99.3h0.55v0.55h-0.55zM91.8 87.3h0.55v0.55h-0.55zM90.4 78.4h0.55v0.55h-0.55zM89.4 85.8h0.55v0.55h-0.55zM90.5 100.6h0.55v0.55h-0.55zM91.5 77.1h0.55v0.55h-0.55zM87.3 75.6h0.55v0.55h-0.55zM89.7 94.6h0.55v0.55h-0.55zM94.3 78.0h0.55v0.55h-0.55zM93.4 84.2h0.55v0.55h-0.55zM91.3 87.0h0.55v0.55h-0.55zM87.2 72.8h0.55v0.55h-0.55zM92.4 91.7h0.55v0.55h-0.55zM90.0 98.7h0.55v0.55h-0.55zM93.7 80.0h0.55v0.55h-0.55zM87.4 87.6h0.55v0.55h-0.55zM92.3 77.6h0.55v0.55h-0.55zM87.2 85.6h0.55v0.55h-0.55zM87.1 93.2h0.55v0.55h-0.55zM92.1 79.3h0.55v0.55h-0.55zM90.5 77.9h0.55v0.55h-0.55zM88.4 76.3h0.55v0.55h-0.55zM93.7 84.6h0.55v0.55h-0.55zM92.8 81.4h0.55v0.55h-0.55zM93.6 88.9h0.55v0.55h-0.55zM92.3 82.7h0.55v0.55h-0.55zM91.5 76.6h0.55v0.55h-0.55zM95.0 91.2h0.55v0.55h-0.55zM91.3 90.2h0.55v0.55h-0.55zM87.6 81.0h0.55v0.55h-0.55zM88.7 96.4h0.55v0.55h-0.55zM86.9 84.3h0.55v0.55h-0.55zM94.1 94.6h0.55v0.55h-0.55zM92.8 80.0h0.55v0.55h-0.55zM88.8 92.2h0.55v0.55h-0.55zM89.3 92.8h0.55v0.55h-0.55zM89.7 93.9h0.55v0.55h-0.55zM91.6 95.6h0.55v0.55h-0.55zM95.1 82.3h0.55v0.55h-0.55z" fill="#222" fill-opacity="0.7"/>
<ellipse cx="104" cy="90.5" rx="7.0" ry="5.2" transform="rotate(-5 104 90.5)" fill="#111" fill-opacity="0.9" filter="url(#sb1)"/>
<ellipse cx="94.5" cy="96" rx="8.5" ry="5" transform="rotate(0 94.5 96)" fill="#111" fill-opacity="0.9" filter="url(#sb1)"/>
<ellipse cx="100" cy="94" rx="10" ry="6.5" transform="rotate(0 100 94)" fill="#111" fill-opacity="0.85" filter="url(#sb1)"/>
<ellipse cx="90" cy="87" rx="3.5" ry="7" transform="rotate(0 90 87)" fill="#111" fill-opacity="0.5" filter="url(#sb2)"/>
</g>
<rect x="85.6" y="69.4" width="33.20" height="32.60" fill="none" stroke="#111" stroke-width="1.25"/>
<line x1="95.8" y1="69.4" x2="95.8" y2="102.0" stroke="#111" stroke-width="1.1"/>
<line x1="85.6" y1="92.0" x2="118.8" y2="92.0" stroke="#111" stroke-width="1.1"/>
<text x="113.00" y="77.00" font-size="5.6" font-weight="bold" text-anchor="middle" fill="#111" >21</text>
<text transform="translate(82.60,72.70) rotate(-90)" font-size="4.9" font-weight="normal" text-anchor="middle" fill="#111">10<tspan font-size="3.2" dy="-1.7">4</tspan></text>
<text transform="translate(82.80,102.20) rotate(-90)" font-size="4.9" font-weight="normal" text-anchor="middle" fill="#111">0</text>
<text x="87.40" y="108.20" font-size="4.7" font-weight="normal" text-anchor="middle" fill="#111" >10</text>
<text x="116.80" y="108.20" font-size="4.7" text-anchor="middle" fill="#111">10<tspan font-size="3.0" dy="-1.7">4</tspan></text>
<g clip-path="url(#ca12)">
<path d="M141.2 89.9h0.55v0.55h-0.55zM142.6 88.5h0.55v0.55h-0.55zM138.6 83.6h0.55v0.55h-0.55zM147.6 81.9h0.55v0.55h-0.55zM137.8 79.1h0.55v0.55h-0.55zM139.2 88.7h0.55v0.55h-0.55zM146.3 83.4h0.55v0.55h-0.55zM140.3 89.4h0.55v0.55h-0.55zM152.0 76.9h0.55v0.55h-0.55zM143.7 82.9h0.55v0.55h-0.55zM137.2 82.1h0.55v0.55h-0.55zM145.2 83.1h0.55v0.55h-0.55zM132.5 96.1h0.55v0.55h-0.55zM139.7 97.0h0.55v0.55h-0.55zM149.8 76.9h0.55v0.55h-0.55zM138.9 93.8h0.55v0.55h-0.55zM131.2 100.5h0.55v0.55h-0.55zM146.1 89.3h0.55v0.55h-0.55zM152.4 75.3h0.55v0.55h-0.55zM139.7 84.3h0.55v0.55h-0.55zM156.5 90.7h0.55v0.55h-0.55zM143.7 93.3h0.55v0.55h-0.55zM134.7 94.0h0.55v0.55h-0.55zM146.2 98.8h0.55v0.55h-0.55zM139.1 90.7h0.55v0.55h-0.55zM146.8 87.5h0.55v0.55h-0.55zM137.3 94.4h0.55v0.55h-0.55zM136.2 91.7h0.55v0.55h-0.55zM136.6 97.0h0.55v0.55h-0.55zM140.4 81.4h0.55v0.55h-0.55zM153.8 75.8h0.55v0.55h-0.55zM151.5 79.3h0.55v0.55h-0.55zM135.7 87.6h0.55v0.55h-0.55zM141.2 85.6h0.55v0.55h-0.55zM155.6 87.4h0.55v0.55h-0.55zM144.4 97.9h0.55v0.55h-0.55zM131.4 101.2h0.55v0.55h-0.55zM148.7 83.8h0.55v0.55h-0.55zM134.1 84.4h0.55v0.55h-0.55zM142.2 94.1h0.55v0.55h-0.55zM139.3 94.5h0.55v0.55h-0.55zM138.8 86.3h0.55v0.55h-0.55zM144.4 86.0h0.55v0.55h-0.55zM145.2 71.7h0.55v0.55h-0.55zM138.7 95.8h0.55v0.55h-0.55zM149.6 79.6h0.55v0.55h-0.55zM146.9 89.0h0.55v0.55h-0.55zM145.9 87.4h0.55v0.55h-0.55zM136.1 75.2h0.55v0.55h-0.55zM154.2 75.3h0.55v0.55h-0.55zM141.0 85.7h0.55v0.55h-0.55zM143.3 90.0h0.55v0.55h-0.55zM154.0 76.3h0.55v0.55h-0.55zM130.4 86.1h0.55v0.55h-0.55zM143.9 95.2h0.55v0.55h-0.55zM145.8 79.2h0.55v0.55h-0.55zM153.6 94.4h0.55v0.55h-0.55zM143.0 89.9h0.55v0.55h-0.55zM150.5 73.7h0.55v0.55h-0.55zM140.8 88.0h0.55v0.55h-0.55zM148.3 88.3h0.55v0.55h-0.55zM142.1 74.6h0.55v0.55h-0.55zM138.5 91.6h0.55v0.55h-0.55zM146.3 88.6h0.55v0.55h-0.55zM141.6 92.6h0.55v0.55h-0.55zM147.8 94.8h0.55v0.55h-0.55zM136.9 95.0h0.55v0.55h-0.55zM152.3 85.5h0.55v0.55h-0.55zM140.6 85.4h0.55v0.55h-0.55zM144.7 93.4h0.55v0.55h-0.55zM154.7 80.1h0.55v0.55h-0.55zM143.6 98.5h0.55v0.55h-0.55zM135.2 85.9h0.55v0.55h-0.55zM136.3 100.8h0.55v0.55h-0.55zM145.1 85.5h0.55v0.55h-0.55zM149.3 85.4h0.55v0.55h-0.55zM134.5 96.0h0.55v0.55h-0.55zM131.8 87.9h0.55v0.55h-0.55zM139.4 74.6h0.55v0.55h-0.55zM136.1 84.5h0.55v0.55h-0.55zM143.8 91.5h0.55v0.55h-0.55zM143.5 93.5h0.55v0.55h-0.55zM136.0 93.2h0.55v0.55h-0.55zM138.5 89.9h0.55v0.55h-0.55zM149.0 88.0h0.55v0.55h-0.55zM153.4 83.6h0.55v0.55h-0.55zM152.5 73.4h0.55v0.55h-0.55zM142.0 75.5h0.55v0.55h-0.55zM136.3 98.4h0.55v0.55h-0.55zM156.4 77.5h0.55v0.55h-0.55zM143.1 90.6h0.55v0.55h-0.55zM137.4 94.1h0.55v0.55h-0.55zM151.9 73.5h0.55v0.55h-0.55zM146.9 73.0h0.55v0.55h-0.55zM136.1 83.8h0.55v0.55h-0.55zM151.2 87.7h0.55v0.55h-0.55zM145.9 76.7h0.55v0.55h-0.55zM132.9 84.2h0.55v0.55h-0.55zM140.3 85.7h0.55v0.55h-0.55zM132.9 90.5h0.55v0.55h-0.55zM131.5 90.2h0.55v0.55h-0.55zM131.9 94.2h0.55v0.55h-0.55zM133.6 90.4h0.55v0.55h-0.55zM142.9 90.3h0.55v0.55h-0.55zM145.9 96.7h0.55v0.55h-0.55zM131.7 92.6h0.55v0.55h-0.55zM141.1 81.9h0.55v0.55h-0.55zM139.2 91.2h0.55v0.55h-0.55zM160.5 79.9h0.55v0.55h-0.55zM131.0 98.6h0.55v0.55h-0.55zM137.5 91.8h0.55v0.55h-0.55zM155.9 83.8h0.55v0.55h-0.55zM134.8 96.7h0.55v0.55h-0.55zM151.1 71.9h0.55v0.55h-0.55zM135.0 87.8h0.55v0.55h-0.55zM157.5 80.3h0.55v0.55h-0.55zM137.9 101.2h0.55v0.55h-0.55zM148.3 93.7h0.55v0.55h-0.55zM137.1 88.9h0.55v0.55h-0.55zM142.2 100.4h0.55v0.55h-0.55zM145.6 78.5h0.55v0.55h-0.55zM159.4 82.4h0.55v0.55h-0.55zM141.4 85.5h0.55v0.55h-0.55zM141.0 81.3h0.55v0.55h-0.55zM144.1 84.6h0.55v0.55h-0.55zM134.0 98.3h0.55v0.55h-0.55zM140.2 83.1h0.55v0.55h-0.55zM146.1 90.1h0.55v0.55h-0.55zM141.2 85.4h0.55v0.55h-0.55zM143.4 81.0h0.55v0.55h-0.55zM141.8 92.3h0.55v0.55h-0.55zM139.9 85.4h0.55v0.55h-0.55zM150.0 86.5h0.55v0.55h-0.55zM137.3 97.0h0.55v0.55h-0.55zM137.5 95.9h0.55v0.55h-0.55zM138.5 95.9h0.55v0.55h-0.55zM131.7 95.8h0.55v0.55h-0.55zM148.6 80.4h0.55v0.55h-0.55zM135.1 87.4h0.55v0.55h-0.55zM158.4 71.0h0.55v0.55h-0.55zM136.1 82.0h0.55v0.55h-0.55zM133.9 92.4h0.55v0.55h-0.55zM133.2 88.1h0.55v0.55h-0.55zM136.6 95.6h0.55v0.55h-0.55zM140.4 89.1h0.55v0.55h-0.55zM147.4 79.1h0.55v0.55h-0.55zM141.0 95.0h0.55v0.55h-0.55zM139.1 84.0h0.55v0.55h-0.55zM134.1 97.2h0.55v0.55h-0.55zM132.8 97.2h0.55v0.55h-0.55zM155.5 75.4h0.55v0.55h-0.55zM142.4 84.8h0.55v0.55h-0.55zM141.7 93.1h0.55v0.55h-0.55zM130.8 100.5h0.55v0.55h-0.55zM152.2 80.6h0.55v0.55h-0.55zM135.2 90.0h0.55v0.55h-0.55zM149.0 93.6h0.55v0.55h-0.55zM137.8 91.3h0.55v0.55h-0.55zM144.4 91.4h0.55v0.55h-0.55zM144.9 86.8h0.55v0.55h-0.55zM144.2 80.5h0.55v0.55h-0.55zM147.4 86.8h0.55v0.55h-0.55zM139.7 95.0h0.55v0.55h-0.55zM145.7 75.3h0.55v0.55h-0.55zM133.8 96.1h0.55v0.55h-0.55zM143.2 97.6h0.55v0.55h-0.55zM134.9 92.9h0.55v0.55h-0.55zM135.9 95.0h0.55v0.55h-0.55zM144.5 76.2h0.55v0.55h-0.55zM138.2 86.9h0.55v0.55h-0.55zM144.6 87.5h0.55v0.55h-0.55zM136.8 96.8h0.55v0.55h-0.55zM136.5 84.6h0.55v0.55h-0.55zM138.2 79.2h0.55v0.55h-0.55zM149.6 86.2h0.55v0.55h-0.55zM144.4 100.4h0.55v0.55h-0.55zM143.4 93.5h0.55v0.55h-0.55zM144.9 85.1h0.55v0.55h-0.55zM143.2 84.8h0.55v0.55h-0.55zM150.2 72.0h0.55v0.55h-0.55zM136.0 90.7h0.55v0.55h-0.55zM144.2 81.0h0.55v0.55h-0.55zM138.7 95.0h0.55v0.55h-0.55zM136.4 90.7h0.55v0.55h-0.55zM139.0 83.1h0.55v0.55h-0.55zM144.2 86.2h0.55v0.55h-0.55zM159.8 79.2h0.55v0.55h-0.55zM150.5 78.6h0.55v0.55h-0.55zM151.6 78.9h0.55v0.55h-0.55zM138.9 96.3h0.55v0.55h-0.55zM131.5 96.4h0.55v0.55h-0.55zM139.5 86.9h0.55v0.55h-0.55zM151.7 72.0h0.55v0.55h-0.55zM158.2 73.4h0.55v0.55h-0.55zM135.6 93.4h0.55v0.55h-0.55zM152.8 75.8h0.55v0.55h-0.55zM132.7 93.3h0.55v0.55h-0.55zM132.8 94.7h0.55v0.55h-0.55zM134.6 82.4h0.55v0.55h-0.55zM148.3 86.2h0.55v0.55h-0.55zM146.4 79.5h0.55v0.55h-0.55zM155.1 81.5h0.55v0.55h-0.55zM139.2 83.4h0.55v0.55h-0.55zM147.9 83.0h0.55v0.55h-0.55zM140.3 94.6h0.55v0.55h-0.55zM142.1 89.9h0.55v0.55h-0.55zM151.2 80.6h0.55v0.55h-0.55zM138.7 81.5h0.55v0.55h-0.55zM130.7 92.0h0.55v0.55h-0.55zM139.8 94.1h0.55v0.55h-0.55zM147.4 75.5h0.55v0.55h-0.55zM153.9 78.2h0.55v0.55h-0.55zM142.8 89.3h0.55v0.55h-0.55zM143.2 92.5h0.55v0.55h-0.55zM145.3 84.7h0.55v0.55h-0.55zM136.0 80.5h0.55v0.55h-0.55zM135.5 101.3h0.55v0.55h-0.55zM153.6 85.4h0.55v0.55h-0.55zM131.4 92.5h0.55v0.55h-0.55zM153.2 77.0h0.55v0.55h-0.55zM131.8 84.6h0.55v0.55h-0.55zM146.4 78.7h0.55v0.55h-0.55zM138.8 77.2h0.55v0.55h-0.55zM133.5 76.4h0.55v0.55h-0.55zM148.7 97.9h0.55v0.55h-0.55zM148.1 78.2h0.55v0.55h-0.55zM145.4 86.5h0.55v0.55h-0.55zM149.0 83.1h0.55v0.55h-0.55zM147.0 94.1h0.55v0.55h-0.55zM141.5 92.6h0.55v0.55h-0.55zM140.7 99.1h0.55v0.55h-0.55zM133.7 94.7h0.55v0.55h-0.55zM137.9 89.3h0.55v0.55h-0.55zM155.2 85.7h0.55v0.55h-0.55zM139.3 82.3h0.55v0.55h-0.55zM150.4 91.0h0.55v0.55h-0.55zM144.0 86.9h0.55v0.55h-0.55zM138.3 97.8h0.55v0.55h-0.55zM137.8 99.0h0.55v0.55h-0.55zM149.7 94.7h0.55v0.55h-0.55zM144.8 90.3h0.55v0.55h-0.55zM139.0 91.6h0.55v0.55h-0.55zM137.7 92.4h0.55v0.55h-0.55zM138.1 85.2h0.55v0.55h-0.55zM146.8 76.9h0.55v0.55h-0.55zM141.3 82.6h0.55v0.55h-0.55zM151.6 75.0h0.55v0.55h-0.55zM147.9 78.5h0.55v0.55h-0.55zM135.7 88.4h0.55v0.55h-0.55zM142.9 95.9h0.55v0.55h-0.55zM141.8 83.9h0.55v0.55h-0.55zM158.2 79.6h0.55v0.55h-0.55zM156.5 80.0h0.55v0.55h-0.55zM137.5 87.7h0.55v0.55h-0.55zM142.9 90.8h0.55v0.55h-0.55zM144.1 93.1h0.55v0.55h-0.55zM133.0 95.0h0.55v0.55h-0.55zM141.5 74.8h0.55v0.55h-0.55zM141.6 98.0h0.55v0.55h-0.55zM143.7 89.4h0.55v0.55h-0.55zM134.4 75.8h0.55v0.55h-0.55zM138.7 91.6h0.55v0.55h-0.55zM145.6 89.7h0.55v0.55h-0.55zM139.5 83.2h0.55v0.55h-0.55zM140.2 72.2h0.55v0.55h-0.55zM153.8 90.2h0.55v0.55h-0.55zM143.9 94.2h0.55v0.55h-0.55zM145.6 89.6h0.55v0.55h-0.55zM142.2 85.2h0.55v0.55h-0.55zM143.4 89.0h0.55v0.55h-0.55zM146.0 80.4h0.55v0.55h-0.55zM139.1 93.3h0.55v0.55h-0.55zM148.3 95.6h0.55v0.55h-0.55zM153.3 93.5h0.55v0.55h-0.55zM138.4 85.2h0.55v0.55h-0.55zM131.2 76.6h0.55v0.55h-0.55zM151.1 75.3h0.55v0.55h-0.55zM149.5 83.6h0.55v0.55h-0.55zM138.3 76.6h0.55v0.55h-0.55zM144.2 95.6h0.55v0.55h-0.55zM140.4 85.4h0.55v0.55h-0.55zM148.4 88.2h0.55v0.55h-0.55zM134.9 99.6h0.55v0.55h-0.55zM141.2 81.1h0.55v0.55h-0.55zM142.3 91.1h0.55v0.55h-0.55zM144.0 84.3h0.55v0.55h-0.55zM158.3 79.7h0.55v0.55h-0.55zM140.0 90.5h0.55v0.55h-0.55zM151.1 77.2h0.55v0.55h-0.55zM138.8 90.4h0.55v0.55h-0.55zM135.3 90.0h0.55v0.55h-0.55zM138.0 93.4h0.55v0.55h-0.55zM143.3 84.8h0.55v0.55h-0.55zM133.1 99.9h0.55v0.55h-0.55zM144.8 91.9h0.55v0.55h-0.55zM130.6 97.4h0.55v0.55h-0.55zM136.1 99.3h0.55v0.55h-0.55zM145.9 80.8h0.55v0.55h-0.55zM146.0 84.5h0.55v0.55h-0.55zM138.8 101.2h0.55v0.55h-0.55zM145.0 80.1h0.55v0.55h-0.55zM149.5 79.3h0.55v0.55h-0.55zM132.2 86.6h0.55v0.55h-0.55zM142.2 80.5h0.55v0.55h-0.55zM134.4 100.5h0.55v0.55h-0.55zM137.0 76.3h0.55v0.55h-0.55zM146.2 93.6h0.55v0.55h-0.55zM134.3 94.1h0.55v0.55h-0.55zM145.0 74.5h0.55v0.55h-0.55zM144.7 93.0h0.55v0.55h-0.55zM147.8 89.3h0.55v0.55h-0.55zM148.3 70.3h0.55v0.55h-0.55zM134.8 98.5h0.55v0.55h-0.55zM142.3 90.5h0.55v0.55h-0.55zM130.6 97.9h0.55v0.55h-0.55zM151.2 76.4h0.55v0.55h-0.55zM151.1 88.4h0.55v0.55h-0.55zM142.1 90.9h0.55v0.55h-0.55zM143.0 95.4h0.55v0.55h-0.55zM144.0 95.7h0.55v0.55h-0.55zM146.7 82.6h0.55v0.55h-0.55zM151.7 78.3h0.55v0.55h-0.55zM154.3 79.5h0.55v0.55h-0.55zM143.6 82.8h0.55v0.55h-0.55zM152.7 89.4h0.55v0.55h-0.55zM154.0 80.8h0.55v0.55h-0.55zM149.1 92.1h0.55v0.55h-0.55zM148.6 83.8h0.55v0.55h-0.55zM150.5 88.8h0.55v0.55h-0.55zM150.0 80.9h0.55v0.55h-0.55zM149.0 79.1h0.55v0.55h-0.55zM144.3 85.6h0.55v0.55h-0.55zM137.6 95.5h0.55v0.55h-0.55zM158.0 73.4h0.55v0.55h-0.55zM146.2 78.1h0.55v0.55h-0.55zM151.3 83.2h0.55v0.55h-0.55zM151.2 76.3h0.55v0.55h-0.55zM145.7 82.6h0.55v0.55h-0.55zM153.2 91.5h0.55v0.55h-0.55zM148.9 83.4h0.55v0.55h-0.55zM149.0 87.2h0.55v0.55h-0.55zM155.7 74.8h0.55v0.55h-0.55zM155.5 80.0h0.55v0.55h-0.55zM158.5 82.9h0.55v0.55h-0.55zM150.1 75.4h0.55v0.55h-0.55zM149.7 80.9h0.55v0.55h-0.55zM152.4 81.8h0.55v0.55h-0.55zM152.2 74.5h0.55v0.55h-0.55zM146.1 84.9h0.55v0.55h-0.55zM150.8 80.7h0.55v0.55h-0.55zM150.0 83.3h0.55v0.55h-0.55zM155.1 79.5h0.55v0.55h-0.55zM147.7 76.1h0.55v0.55h-0.55zM133.8 85.7h0.55v0.55h-0.55zM147.3 74.1h0.55v0.55h-0.55zM151.9 81.5h0.55v0.55h-0.55zM148.6 80.5h0.55v0.55h-0.55zM149.5 87.1h0.55v0.55h-0.55zM151.8 81.9h0.55v0.55h-0.55zM147.9 85.2h0.55v0.55h-0.55zM156.0 79.4h0.55v0.55h-0.55zM145.8 80.1h0.55v0.55h-0.55zM148.7 79.6h0.55v0.55h-0.55zM144.4 90.2h0.55v0.55h-0.55zM142.8 77.9h0.55v0.55h-0.55zM149.9 91.4h0.55v0.55h-0.55zM146.9 78.8h0.55v0.55h-0.55zM145.8 88.7h0.55v0.55h-0.55zM152.5 82.5h0.55v0.55h-0.55zM149.9 85.2h0.55v0.55h-0.55zM158.8 80.1h0.55v0.55h-0.55zM146.4 78.7h0.55v0.55h-0.55zM155.4 87.0h0.55v0.55h-0.55zM150.8 76.8h0.55v0.55h-0.55zM153.5 86.9h0.55v0.55h-0.55zM147.7 86.6h0.55v0.55h-0.55zM159.4 85.0h0.55v0.55h-0.55zM138.4 81.8h0.55v0.55h-0.55zM153.3 84.3h0.55v0.55h-0.55zM148.1 84.0h0.55v0.55h-0.55zM150.3 88.3h0.55v0.55h-0.55zM139.2 90.4h0.55v0.55h-0.55zM142.1 84.5h0.55v0.55h-0.55zM140.4 84.4h0.55v0.55h-0.55zM149.9 83.2h0.55v0.55h-0.55zM158.7 77.0h0.55v0.55h-0.55zM152.5 83.2h0.55v0.55h-0.55zM154.2 87.2h0.55v0.55h-0.55zM151.0 83.1h0.55v0.55h-0.55zM149.4 83.3h0.55v0.55h-0.55zM138.9 82.4h0.55v0.55h-0.55zM137.2 70.9h0.55v0.55h-0.55zM139.0 78.2h0.55v0.55h-0.55zM141.0 83.4h0.55v0.55h-0.55zM142.1 80.7h0.55v0.55h-0.55zM131.4 96.3h0.55v0.55h-0.55zM154.0 85.8h0.55v0.55h-0.55zM130.9 77.9h0.55v0.55h-0.55zM159.1 84.7h0.55v0.55h-0.55zM137.2 95.7h0.55v0.55h-0.55zM158.8 74.5h0.55v0.55h-0.55zM146.5 87.9h0.55v0.55h-0.55zM134.5 80.5h0.55v0.55h-0.55zM150.2 91.3h0.55v0.55h-0.55zM150.5 89.7h0.55v0.55h-0.55zM142.7 72.9h0.55v0.55h-0.55zM131.3 96.3h0.55v0.55h-0.55zM158.0 98.3h0.55v0.55h-0.55zM133.2 94.2h0.55v0.55h-0.55zM136.2 81.3h0.55v0.55h-0.55zM137.1 96.9h0.55v0.55h-0.55zM156.5 96.1h0.55v0.55h-0.55zM142.8 99.3h0.55v0.55h-0.55zM139.0 88.3h0.55v0.55h-0.55zM151.9 77.9h0.55v0.55h-0.55zM142.8 73.8h0.55v0.55h-0.55zM155.8 76.4h0.55v0.55h-0.55zM135.1 79.2h0.55v0.55h-0.55zM150.9 90.2h0.55v0.55h-0.55zM147.3 96.7h0.55v0.55h-0.55zM154.4 77.2h0.55v0.55h-0.55zM147.6 75.9h0.55v0.55h-0.55zM138.4 75.3h0.55v0.55h-0.55zM133.2 81.4h0.55v0.55h-0.55zM158.6 90.7h0.55v0.55h-0.55zM133.6 77.5h0.55v0.55h-0.55zM149.4 86.9h0.55v0.55h-0.55zM131.6 73.7h0.55v0.55h-0.55zM148.6 89.1h0.55v0.55h-0.55zM133.3 94.3h0.55v0.55h-0.55zM138.3 88.7h0.55v0.55h-0.55zM147.4 81.1h0.55v0.55h-0.55zM160.5 82.8h0.55v0.55h-0.55zM144.1 87.2h0.55v0.55h-0.55zM157.2 100.8h0.55v0.55h-0.55zM155.0 87.2h0.55v0.55h-0.55zM153.3 90.2h0.55v0.55h-0.55zM160.9 100.3h0.55v0.55h-0.55zM154.7 77.4h0.55v0.55h-0.55zM148.7 84.2h0.55v0.55h-0.55z" fill="#222" fill-opacity="0.7"/>
<ellipse cx="139.8" cy="90.5" rx="4.2" ry="8.6" transform="rotate(38 139.8 90.5)" fill="#111" fill-opacity="0.9" filter="url(#sb1)"/>
<ellipse cx="135.5" cy="97.5" rx="3" ry="3.5" transform="rotate(20 135.5 97.5)" fill="#111" fill-opacity="0.75" filter="url(#sb1)"/>
</g>
<rect x="129.8" y="69.4" width="33.30" height="32.60" fill="none" stroke="#111" stroke-width="1.25"/>
<line x1="140.6" y1="69.4" x2="140.6" y2="102.0" stroke="#111" stroke-width="1.1"/>
<line x1="129.8" y1="92.0" x2="163.1" y2="92.0" stroke="#111" stroke-width="1.1"/>
<text x="135.20" y="77.00" font-size="5.6" font-weight="bold" text-anchor="middle" fill="#111" >30</text>
<text x="158.50" y="77.00" font-size="5.6" font-weight="bold" text-anchor="middle" fill="#111" >15</text>
<text transform="translate(126.80,72.70) rotate(-90)" font-size="4.9" font-weight="normal" text-anchor="middle" fill="#111">10<tspan font-size="3.2" dy="-1.7">4</tspan></text>
<text transform="translate(127.00,102.20) rotate(-90)" font-size="4.9" font-weight="normal" text-anchor="middle" fill="#111">0</text>
<text x="131.60" y="108.20" font-size="4.7" font-weight="normal" text-anchor="middle" fill="#111" >10</text>
<text x="161.10" y="108.20" font-size="4.7" text-anchor="middle" fill="#111">10<tspan font-size="3.0" dy="-1.7">4</tspan></text>
<g clip-path="url(#ca13)">
<path d="M179.1 87.3h0.55v0.55h-0.55zM205.5 86.1h0.55v0.55h-0.55zM187.3 77.9h0.55v0.55h-0.55zM183.2 74.0h0.55v0.55h-0.55zM191.1 82.6h0.55v0.55h-0.55zM184.0 89.1h0.55v0.55h-0.55zM178.1 89.2h0.55v0.55h-0.55zM183.5 92.4h0.55v0.55h-0.55zM182.9 87.3h0.55v0.55h-0.55zM186.6 99.2h0.55v0.55h-0.55zM180.0 98.6h0.55v0.55h-0.55zM179.9 84.1h0.55v0.55h-0.55zM185.5 88.9h0.55v0.55h-0.55zM182.8 98.2h0.55v0.55h-0.55zM187.9 87.5h0.55v0.55h-0.55zM185.2 98.6h0.55v0.55h-0.55zM179.9 93.8h0.55v0.55h-0.55zM191.0 84.7h0.55v0.55h-0.55zM181.7 73.5h0.55v0.55h-0.55zM188.4 77.4h0.55v0.55h-0.55zM197.7 95.4h0.55v0.55h-0.55zM178.3 82.7h0.55v0.55h-0.55zM192.4 96.2h0.55v0.55h-0.55zM178.2 99.1h0.55v0.55h-0.55zM181.2 94.0h0.55v0.55h-0.55zM188.6 81.9h0.55v0.55h-0.55zM182.7 101.2h0.55v0.55h-0.55zM187.8 86.5h0.55v0.55h-0.55zM189.4 93.4h0.55v0.55h-0.55zM186.4 81.1h0.55v0.55h-0.55zM189.7 80.0h0.55v0.55h-0.55zM188.8 74.3h0.55v0.55h-0.55zM190.8 78.6h0.55v0.55h-0.55zM184.1 94.1h0.55v0.55h-0.55zM183.2 86.9h0.55v0.55h-0.55zM176.4 74.9h0.55v0.55h-0.55zM187.4 98.9h0.55v0.55h-0.55zM182.3 87.9h0.55v0.55h-0.55zM185.5 72.3h0.55v0.55h-0.55zM178.3 70.4h0.55v0.55h-0.55zM192.5 83.0h0.55v0.55h-0.55zM194.7 95.9h0.55v0.55h-0.55zM186.2 95.1h0.55v0.55h-0.55zM188.1 98.7h0.55v0.55h-0.55zM180.4 79.6h0.55v0.55h-0.55zM181.9 88.0h0.55v0.55h-0.55zM185.2 71.7h0.55v0.55h-0.55zM197.6 77.7h0.55v0.55h-0.55zM187.1 86.8h0.55v0.55h-0.55zM179.5 95.3h0.55v0.55h-0.55zM187.9 83.4h0.55v0.55h-0.55zM190.5 78.7h0.55v0.55h-0.55zM188.9 95.9h0.55v0.55h-0.55zM175.7 83.6h0.55v0.55h-0.55zM185.8 96.4h0.55v0.55h-0.55zM185.9 86.9h0.55v0.55h-0.55zM183.5 83.2h0.55v0.55h-0.55zM186.4 74.0h0.55v0.55h-0.55zM188.9 83.4h0.55v0.55h-0.55zM188.5 81.1h0.55v0.55h-0.55zM187.1 88.8h0.55v0.55h-0.55zM189.2 93.2h0.55v0.55h-0.55zM190.3 85.5h0.55v0.55h-0.55zM185.0 83.8h0.55v0.55h-0.55zM178.4 84.8h0.55v0.55h-0.55zM189.9 97.1h0.55v0.55h-0.55zM180.0 90.2h0.55v0.55h-0.55zM190.8 70.7h0.55v0.55h-0.55zM186.5 91.2h0.55v0.55h-0.55zM188.7 90.6h0.55v0.55h-0.55zM196.2 83.3h0.55v0.55h-0.55zM186.9 73.0h0.55v0.55h-0.55zM192.4 87.3h0.55v0.55h-0.55zM187.2 93.2h0.55v0.55h-0.55zM188.8 100.0h0.55v0.55h-0.55zM185.8 87.2h0.55v0.55h-0.55zM189.4 85.8h0.55v0.55h-0.55zM191.6 77.9h0.55v0.55h-0.55zM184.6 86.1h0.55v0.55h-0.55zM180.2 75.7h0.55v0.55h-0.55zM187.4 72.2h0.55v0.55h-0.55zM187.3 93.1h0.55v0.55h-0.55zM184.2 82.7h0.55v0.55h-0.55zM187.6 93.2h0.55v0.55h-0.55zM188.5 72.2h0.55v0.55h-0.55zM181.9 82.2h0.55v0.55h-0.55zM176.2 76.2h0.55v0.55h-0.55zM180.0 96.3h0.55v0.55h-0.55zM183.4 80.8h0.55v0.55h-0.55zM181.4 81.2h0.55v0.55h-0.55zM176.1 89.4h0.55v0.55h-0.55zM191.3 89.6h0.55v0.55h-0.55zM189.0 74.7h0.55v0.55h-0.55zM182.7 79.2h0.55v0.55h-0.55zM181.4 84.8h0.55v0.55h-0.55zM187.1 72.5h0.55v0.55h-0.55zM181.6 94.2h0.55v0.55h-0.55zM189.2 83.8h0.55v0.55h-0.55zM191.2 95.3h0.55v0.55h-0.55zM195.2 91.9h0.55v0.55h-0.55zM183.9 76.6h0.55v0.55h-0.55zM176.6 93.0h0.55v0.55h-0.55zM186.7 97.3h0.55v0.55h-0.55zM183.1 83.8h0.55v0.55h-0.55zM184.9 96.5h0.55v0.55h-0.55zM192.3 91.3h0.55v0.55h-0.55zM178.2 89.2h0.55v0.55h-0.55zM182.4 100.5h0.55v0.55h-0.55zM191.4 82.1h0.55v0.55h-0.55zM190.1 87.7h0.55v0.55h-0.55zM178.9 85.5h0.55v0.55h-0.55zM194.3 78.6h0.55v0.55h-0.55zM186.0 88.7h0.55v0.55h-0.55zM184.4 70.8h0.55v0.55h-0.55zM182.6 74.6h0.55v0.55h-0.55zM190.5 90.7h0.55v0.55h-0.55zM190.3 72.9h0.55v0.55h-0.55zM187.5 89.0h0.55v0.55h-0.55zM191.6 78.8h0.55v0.55h-0.55zM195.9 76.7h0.55v0.55h-0.55zM189.4 94.8h0.55v0.55h-0.55zM188.0 76.6h0.55v0.55h-0.55zM185.0 85.5h0.55v0.55h-0.55zM190.8 93.9h0.55v0.55h-0.55zM192.8 82.8h0.55v0.55h-0.55zM187.3 83.1h0.55v0.55h-0.55zM182.3 83.1h0.55v0.55h-0.55zM182.8 93.0h0.55v0.55h-0.55zM183.3 87.7h0.55v0.55h-0.55zM182.2 71.6h0.55v0.55h-0.55zM194.0 75.8h0.55v0.55h-0.55zM193.6 99.5h0.55v0.55h-0.55zM182.7 87.0h0.55v0.55h-0.55zM184.8 79.5h0.55v0.55h-0.55zM191.9 86.2h0.55v0.55h-0.55zM191.1 79.2h0.55v0.55h-0.55zM184.9 73.5h0.55v0.55h-0.55zM182.7 99.7h0.55v0.55h-0.55zM185.1 78.2h0.55v0.55h-0.55zM187.2 99.3h0.55v0.55h-0.55zM184.3 83.0h0.55v0.55h-0.55zM183.7 91.9h0.55v0.55h-0.55zM185.7 83.2h0.55v0.55h-0.55zM184.5 70.2h0.55v0.55h-0.55zM176.7 88.2h0.55v0.55h-0.55zM181.7 85.6h0.55v0.55h-0.55zM184.7 80.7h0.55v0.55h-0.55zM179.7 80.2h0.55v0.55h-0.55zM184.9 72.8h0.55v0.55h-0.55zM178.7 96.9h0.55v0.55h-0.55zM189.9 89.1h0.55v0.55h-0.55zM201.5 98.9h0.55v0.55h-0.55zM192.7 77.8h0.55v0.55h-0.55zM182.1 72.8h0.55v0.55h-0.55zM185.8 77.2h0.55v0.55h-0.55zM189.9 73.9h0.55v0.55h-0.55zM183.5 99.8h0.55v0.55h-0.55zM183.2 90.7h0.55v0.55h-0.55zM192.3 74.3h0.55v0.55h-0.55zM178.0 87.3h0.55v0.55h-0.55zM186.9 83.9h0.55v0.55h-0.55zM178.2 101.2h0.55v0.55h-0.55zM179.1 83.2h0.55v0.55h-0.55zM183.9 95.8h0.55v0.55h-0.55zM183.6 76.8h0.55v0.55h-0.55zM197.0 77.9h0.55v0.55h-0.55zM189.5 85.6h0.55v0.55h-0.55zM182.5 86.2h0.55v0.55h-0.55zM183.2 90.6h0.55v0.55h-0.55zM186.6 75.3h0.55v0.55h-0.55zM194.2 95.8h0.55v0.55h-0.55zM186.7 83.4h0.55v0.55h-0.55zM193.1 82.4h0.55v0.55h-0.55zM179.7 94.9h0.55v0.55h-0.55zM180.8 76.9h0.55v0.55h-0.55zM184.5 88.4h0.55v0.55h-0.55zM184.2 82.8h0.55v0.55h-0.55zM194.1 100.3h0.55v0.55h-0.55zM179.8 97.2h0.55v0.55h-0.55zM188.7 86.0h0.55v0.55h-0.55zM184.1 83.5h0.55v0.55h-0.55zM177.5 78.5h0.55v0.55h-0.55zM195.5 83.5h0.55v0.55h-0.55zM185.2 71.5h0.55v0.55h-0.55zM180.8 73.0h0.55v0.55h-0.55zM186.1 97.4h0.55v0.55h-0.55zM187.0 77.0h0.55v0.55h-0.55zM186.9 87.0h0.55v0.55h-0.55zM189.1 91.7h0.55v0.55h-0.55zM180.6 96.2h0.55v0.55h-0.55zM190.4 75.3h0.55v0.55h-0.55zM182.0 76.8h0.55v0.55h-0.55zM181.9 87.6h0.55v0.55h-0.55zM187.7 99.2h0.55v0.55h-0.55zM188.1 74.6h0.55v0.55h-0.55zM195.8 98.8h0.55v0.55h-0.55zM192.1 92.8h0.55v0.55h-0.55zM186.8 94.9h0.55v0.55h-0.55zM175.9 96.0h0.55v0.55h-0.55zM179.2 91.6h0.55v0.55h-0.55zM178.7 95.1h0.55v0.55h-0.55zM185.4 93.3h0.55v0.55h-0.55zM180.5 83.0h0.55v0.55h-0.55zM185.1 83.5h0.55v0.55h-0.55zM183.8 76.2h0.55v0.55h-0.55zM189.6 82.8h0.55v0.55h-0.55zM180.2 91.0h0.55v0.55h-0.55zM180.9 84.4h0.55v0.55h-0.55zM183.5 75.5h0.55v0.55h-0.55zM184.9 76.9h0.55v0.55h-0.55zM177.8 90.6h0.55v0.55h-0.55zM182.7 89.1h0.55v0.55h-0.55zM186.9 91.8h0.55v0.55h-0.55zM185.6 94.4h0.55v0.55h-0.55zM183.4 77.1h0.55v0.55h-0.55zM188.9 82.4h0.55v0.55h-0.55zM184.3 94.9h0.55v0.55h-0.55zM181.8 82.1h0.55v0.55h-0.55zM177.5 93.7h0.55v0.55h-0.55zM182.9 75.5h0.55v0.55h-0.55zM188.7 93.9h0.55v0.55h-0.55zM190.4 83.5h0.55v0.55h-0.55zM183.9 82.7h0.55v0.55h-0.55zM180.4 95.2h0.55v0.55h-0.55zM180.9 85.8h0.55v0.55h-0.55zM185.1 93.4h0.55v0.55h-0.55zM183.9 73.0h0.55v0.55h-0.55zM199.4 79.8h0.55v0.55h-0.55zM185.9 84.7h0.55v0.55h-0.55zM191.6 75.3h0.55v0.55h-0.55zM181.7 77.5h0.55v0.55h-0.55zM181.9 89.9h0.55v0.55h-0.55zM181.1 83.6h0.55v0.55h-0.55zM176.2 74.5h0.55v0.55h-0.55zM180.8 82.8h0.55v0.55h-0.55zM189.8 94.5h0.55v0.55h-0.55zM185.2 94.7h0.55v0.55h-0.55zM187.1 88.3h0.55v0.55h-0.55zM184.8 72.8h0.55v0.55h-0.55zM188.7 96.6h0.55v0.55h-0.55zM190.5 83.0h0.55v0.55h-0.55zM180.1 81.9h0.55v0.55h-0.55zM183.4 86.7h0.55v0.55h-0.55zM191.5 76.6h0.55v0.55h-0.55zM181.6 95.1h0.55v0.55h-0.55zM189.0 77.1h0.55v0.55h-0.55zM180.5 76.9h0.55v0.55h-0.55zM185.1 90.1h0.55v0.55h-0.55zM185.5 79.6h0.55v0.55h-0.55zM184.2 86.0h0.55v0.55h-0.55zM188.1 88.4h0.55v0.55h-0.55zM182.2 72.5h0.55v0.55h-0.55zM193.1 86.8h0.55v0.55h-0.55zM184.1 86.6h0.55v0.55h-0.55zM191.5 83.9h0.55v0.55h-0.55zM186.3 84.3h0.55v0.55h-0.55zM189.4 75.2h0.55v0.55h-0.55zM184.9 99.5h0.55v0.55h-0.55zM190.6 95.1h0.55v0.55h-0.55zM180.0 73.1h0.55v0.55h-0.55zM189.7 84.3h0.55v0.55h-0.55zM183.9 75.3h0.55v0.55h-0.55zM194.5 73.5h0.55v0.55h-0.55zM187.4 70.3h0.55v0.55h-0.55zM198.8 82.5h0.55v0.55h-0.55zM188.3 74.2h0.55v0.55h-0.55zM175.9 99.7h0.55v0.55h-0.55zM182.5 73.8h0.55v0.55h-0.55zM186.2 84.8h0.55v0.55h-0.55zM191.0 88.8h0.55v0.55h-0.55zM184.8 93.6h0.55v0.55h-0.55zM177.8 95.3h0.55v0.55h-0.55zM178.3 85.5h0.55v0.55h-0.55zM179.2 89.5h0.55v0.55h-0.55zM184.6 81.3h0.55v0.55h-0.55zM187.1 71.5h0.55v0.55h-0.55zM183.0 91.3h0.55v0.55h-0.55zM189.8 96.1h0.55v0.55h-0.55zM194.8 70.8h0.55v0.55h-0.55zM188.6 73.9h0.55v0.55h-0.55zM187.9 81.0h0.55v0.55h-0.55zM180.3 99.5h0.55v0.55h-0.55zM185.5 73.5h0.55v0.55h-0.55zM179.7 94.7h0.55v0.55h-0.55zM184.6 101.2h0.55v0.55h-0.55zM184.8 75.5h0.55v0.55h-0.55zM183.0 74.3h0.55v0.55h-0.55zM198.7 90.8h0.55v0.55h-0.55zM188.8 85.2h0.55v0.55h-0.55zM188.1 90.7h0.55v0.55h-0.55zM183.4 86.4h0.55v0.55h-0.55zM186.1 96.7h0.55v0.55h-0.55zM190.7 79.9h0.55v0.55h-0.55zM189.0 97.3h0.55v0.55h-0.55zM184.0 82.6h0.55v0.55h-0.55zM180.8 83.3h0.55v0.55h-0.55zM192.3 78.5h0.55v0.55h-0.55zM185.7 94.4h0.55v0.55h-0.55zM189.7 92.5h0.55v0.55h-0.55zM182.3 100.5h0.55v0.55h-0.55zM191.1 76.1h0.55v0.55h-0.55zM179.6 96.5h0.55v0.55h-0.55zM177.4 82.7h0.55v0.55h-0.55zM186.6 96.4h0.55v0.55h-0.55zM197.5 95.6h0.55v0.55h-0.55zM185.1 90.2h0.55v0.55h-0.55zM186.0 79.7h0.55v0.55h-0.55zM185.2 85.5h0.55v0.55h-0.55zM187.8 95.6h0.55v0.55h-0.55zM189.6 94.7h0.55v0.55h-0.55zM187.5 80.9h0.55v0.55h-0.55zM196.5 75.0h0.55v0.55h-0.55zM179.5 80.3h0.55v0.55h-0.55zM186.3 96.8h0.55v0.55h-0.55zM184.8 95.1h0.55v0.55h-0.55zM182.1 79.4h0.55v0.55h-0.55zM187.5 71.0h0.55v0.55h-0.55zM186.6 82.4h0.55v0.55h-0.55zM190.0 75.3h0.55v0.55h-0.55zM183.0 79.9h0.55v0.55h-0.55zM191.3 76.2h0.55v0.55h-0.55zM191.8 74.2h0.55v0.55h-0.55zM195.7 85.9h0.55v0.55h-0.55zM193.0 80.9h0.55v0.55h-0.55zM188.8 76.4h0.55v0.55h-0.55zM192.0 76.8h0.55v0.55h-0.55zM187.4 83.0h0.55v0.55h-0.55zM193.0 79.7h0.55v0.55h-0.55zM189.1 81.7h0.55v0.55h-0.55zM189.7 79.5h0.55v0.55h-0.55zM194.0 86.2h0.55v0.55h-0.55zM196.8 78.5h0.55v0.55h-0.55zM198.9 75.3h0.55v0.55h-0.55zM192.2 89.6h0.55v0.55h-0.55zM204.6 82.8h0.55v0.55h-0.55zM191.3 79.9h0.55v0.55h-0.55zM187.2 81.2h0.55v0.55h-0.55zM191.0 77.6h0.55v0.55h-0.55zM198.9 77.5h0.55v0.55h-0.55zM201.3 86.9h0.55v0.55h-0.55zM196.2 78.6h0.55v0.55h-0.55zM190.6 70.4h0.55v0.55h-0.55zM194.4 80.5h0.55v0.55h-0.55zM195.0 78.1h0.55v0.55h-0.55zM195.4 73.3h0.55v0.55h-0.55zM182.5 84.8h0.55v0.55h-0.55zM199.3 80.0h0.55v0.55h-0.55zM192.3 73.1h0.55v0.55h-0.55zM188.2 86.1h0.55v0.55h-0.55zM189.5 81.8h0.55v0.55h-0.55zM192.3 93.5h0.55v0.55h-0.55zM197.4 74.4h0.55v0.55h-0.55zM190.8 75.4h0.55v0.55h-0.55zM186.4 78.1h0.55v0.55h-0.55zM198.4 82.3h0.55v0.55h-0.55zM196.3 81.2h0.55v0.55h-0.55zM191.0 82.5h0.55v0.55h-0.55zM192.7 93.2h0.55v0.55h-0.55zM201.8 84.2h0.55v0.55h-0.55zM196.0 70.5h0.55v0.55h-0.55zM192.5 95.9h0.55v0.55h-0.55zM189.2 86.7h0.55v0.55h-0.55zM199.0 79.7h0.55v0.55h-0.55zM192.0 79.4h0.55v0.55h-0.55zM196.9 82.1h0.55v0.55h-0.55zM200.3 88.9h0.55v0.55h-0.55zM193.0 97.1h0.55v0.55h-0.55zM191.6 78.5h0.55v0.55h-0.55zM191.9 76.9h0.55v0.55h-0.55zM191.0 81.6h0.55v0.55h-0.55zM197.4 72.8h0.55v0.55h-0.55zM186.3 77.5h0.55v0.55h-0.55zM191.6 84.6h0.55v0.55h-0.55zM189.3 90.8h0.55v0.55h-0.55zM190.5 80.8h0.55v0.55h-0.55zM193.3 88.8h0.55v0.55h-0.55zM194.5 82.2h0.55v0.55h-0.55zM190.5 83.0h0.55v0.55h-0.55zM195.0 80.0h0.55v0.55h-0.55zM193.0 71.3h0.55v0.55h-0.55zM185.7 87.3h0.55v0.55h-0.55zM207.0 89.6h0.55v0.55h-0.55zM188.0 100.5h0.55v0.55h-0.55zM184.0 99.8h0.55v0.55h-0.55zM185.5 83.6h0.55v0.55h-0.55zM185.7 90.6h0.55v0.55h-0.55zM203.5 91.7h0.55v0.55h-0.55zM181.5 100.9h0.55v0.55h-0.55zM198.5 86.2h0.55v0.55h-0.55zM202.5 74.1h0.55v0.55h-0.55zM194.6 94.7h0.55v0.55h-0.55zM200.2 91.3h0.55v0.55h-0.55zM177.8 85.3h0.55v0.55h-0.55zM184.2 89.3h0.55v0.55h-0.55zM188.3 84.7h0.55v0.55h-0.55zM192.7 88.7h0.55v0.55h-0.55zM203.8 79.4h0.55v0.55h-0.55zM184.4 76.4h0.55v0.55h-0.55zM179.3 96.6h0.55v0.55h-0.55zM204.7 74.6h0.55v0.55h-0.55zM187.1 98.3h0.55v0.55h-0.55zM202.9 100.5h0.55v0.55h-0.55zM207.0 80.0h0.55v0.55h-0.55zM177.9 78.4h0.55v0.55h-0.55zM191.6 71.3h0.55v0.55h-0.55zM183.8 85.2h0.55v0.55h-0.55zM197.2 75.5h0.55v0.55h-0.55zM179.7 80.8h0.55v0.55h-0.55zM178.7 74.5h0.55v0.55h-0.55zM179.0 95.1h0.55v0.55h-0.55zM203.4 72.1h0.55v0.55h-0.55zM201.1 96.4h0.55v0.55h-0.55zM196.2 79.9h0.55v0.55h-0.55zM201.5 73.3h0.55v0.55h-0.55zM177.3 99.8h0.55v0.55h-0.55zM182.7 98.6h0.55v0.55h-0.55zM199.5 72.2h0.55v0.55h-0.55zM178.8 90.4h0.55v0.55h-0.55zM180.4 91.0h0.55v0.55h-0.55zM196.9 77.8h0.55v0.55h-0.55zM190.8 77.2h0.55v0.55h-0.55zM203.2 90.0h0.55v0.55h-0.55zM197.5 89.7h0.55v0.55h-0.55zM177.7 97.7h0.55v0.55h-0.55zM200.3 86.5h0.55v0.55h-0.55zM194.3 85.8h0.55v0.55h-0.55zM199.5 87.0h0.55v0.55h-0.55zM184.5 86.5h0.55v0.55h-0.55zM182.5 70.9h0.55v0.55h-0.55zM192.2 97.3h0.55v0.55h-0.55zM198.4 77.2h0.55v0.55h-0.55zM191.8 88.5h0.55v0.55h-0.55zM194.0 84.8h0.55v0.55h-0.55zM191.8 91.7h0.55v0.55h-0.55zM203.5 86.5h0.55v0.55h-0.55zM200.4 91.5h0.55v0.55h-0.55zM179.6 78.7h0.55v0.55h-0.55zM185.6 81.6h0.55v0.55h-0.55zM191.2 79.8h0.55v0.55h-0.55zM207.1 93.1h0.55v0.55h-0.55zM187.5 92.1h0.55v0.55h-0.55zM204.8 75.7h0.55v0.55h-0.55zM195.6 99.9h0.55v0.55h-0.55zM187.6 97.5h0.55v0.55h-0.55zM201.0 80.5h0.55v0.55h-0.55zM180.3 95.3h0.55v0.55h-0.55zM188.8 81.4h0.55v0.55h-0.55zM190.4 92.9h0.55v0.55h-0.55zM203.9 98.7h0.55v0.55h-0.55zM199.9 76.1h0.55v0.55h-0.55z" fill="#222" fill-opacity="0.7"/>
<ellipse cx="184.6" cy="87.5" rx="4.2" ry="11" transform="rotate(6 184.6 87.5)" fill="#111" fill-opacity="0.88" filter="url(#sb1)"/>
<ellipse cx="181.5" cy="96" rx="3" ry="4" transform="rotate(0 181.5 96)" fill="#111" fill-opacity="0.65" filter="url(#sb1)"/>
</g>
<rect x="174.9" y="69.4" width="33.10" height="32.60" fill="none" stroke="#111" stroke-width="1.25"/>
<line x1="185.7" y1="69.4" x2="185.7" y2="102.0" stroke="#111" stroke-width="1.1"/>
<line x1="174.9" y1="92.0" x2="208.0" y2="92.0" stroke="#111" stroke-width="1.1"/>
<text x="179.60" y="77.00" font-size="5.6" font-weight="bold" text-anchor="middle" fill="#111" >38</text>
<text x="202.80" y="77.00" font-size="5.6" font-weight="bold" text-anchor="middle" fill="#111" >20</text>
<text transform="translate(171.90,72.70) rotate(-90)" font-size="4.9" font-weight="normal" text-anchor="middle" fill="#111">10<tspan font-size="3.2" dy="-1.7">4</tspan></text>
<text transform="translate(172.10,102.20) rotate(-90)" font-size="4.9" font-weight="normal" text-anchor="middle" fill="#111">0</text>
<text x="176.70" y="108.20" font-size="4.7" font-weight="normal" text-anchor="middle" fill="#111" >10</text>
<text x="206.00" y="108.20" font-size="4.7" text-anchor="middle" fill="#111">10<tspan font-size="3.0" dy="-1.7">4</tspan></text>
<g stroke="#333" stroke-width="0.9" fill="none">
<polyline points="25.6,31.4 25.6,18.5"/>
<polyline points="25.6,53.6 25.6,76.9"/>
<polyline points="25.6,99.7 25.6,114 110,114"/>
<polyline points="137.5,114 213.5,114"/>
</g>
<path d="M25.6 15.3 L23.8 20 L27.4 20 Z" fill="#222"/>
<path d="M216.6 114 L211.8 112.2 L211.8 115.8 Z" fill="#222"/>
<text transform="translate(27.5,42.9) rotate(-90)" font-size="5.8" font-weight="bold" text-anchor="middle" fill="#111">CD1a</text>
<text transform="translate(27.6,86.8) rotate(-90)" font-size="5.8" font-weight="bold" text-anchor="middle" fill="#111">CD123</text>
<text x="124.20" y="116.00" font-size="5.8" font-weight="bold" text-anchor="middle" fill="#111" >CD11c</text>
<text x="31.30" y="144.50" font-size="7.2" font-weight="bold" text-anchor="middle" fill="#111" >T&#945;1(-)</text>
<text x="90.40" y="144.50" font-size="7.2" font-weight="bold" text-anchor="middle" fill="#111" >T&#945;1(+)</text>
<text x="156.60" y="144.50" font-size="7.2" font-weight="bold" text-anchor="middle" fill="#111" >T&#945;1(-)</text>
<text x="215.70" y="144.50" font-size="7.2" font-weight="bold" text-anchor="middle" fill="#111" >T&#945;1(+)</text>
<defs><filter id="bl1" x="-50%" y="-50%" width="200%" height="200%"><feGaussianBlur stdDeviation="0.7"/></filter><filter id="bl2" x="-50%" y="-50%" width="200%" height="200%"><feGaussianBlur stdDeviation="2.2"/></filter><filter id="bl3" x="-50%" y="-50%" width="200%" height="200%"><feGaussianBlur stdDeviation="4"/></filter><clipPath id="cb0"><rect x="1.3" y="148.5" width="58.0" height="50.0"/></clipPath><clipPath id="cb1"><rect x="62.5" y="148.5" width="58.0" height="50.0"/></clipPath><clipPath id="cb2"><rect x="125.5" y="148.5" width="58.0" height="50.0"/></clipPath><clipPath id="cb3"><rect x="187.6" y="148.5" width="57.900000000000006" height="50.0"/></clipPath></defs>
<g clip-path="url(#cb0)">
<rect x="1.3" y="148.5" width="58.0" height="50.0" fill="#f9d99c"/>
<ellipse cx="40" cy="166" rx="13.5" ry="13.5" fill="#f3c0c8" fill-opacity="0.9" filter="url(#bl3)"/>
<ellipse cx="40" cy="166" rx="11" ry="11.5" fill="#f1b4c6" fill-opacity="0.95" filter="url(#bl2)"/>
<ellipse cx="14.5" cy="182" rx="14" ry="16" fill="#f3c0c8" fill-opacity="0.9" filter="url(#bl3)"/>
<ellipse cx="14.5" cy="182" rx="11.5" ry="13.5" fill="#f1b6c6" fill-opacity="0.95" filter="url(#bl2)"/>
<ellipse cx="15" cy="176" rx="6" ry="5" fill="#f5cad0" fill-opacity="0.7" filter="url(#bl2)"/>
<ellipse cx="36.2" cy="167.2" rx="5.9" ry="7.5" fill="#e0308a" fill-opacity="1" filter="url(#bl1)" transform="rotate(14 36.2 167.2)"/>
<ellipse cx="14.7" cy="190.2" rx="8.0" ry="5.5" fill="#df2a86" fill-opacity="1" filter="url(#bl1)" transform="rotate(4 14.7 190.2)"/>
<ellipse cx="35.5" cy="166" rx="2.8" ry="4" fill="#e85aa2" fill-opacity="0.55" filter="url(#bl1)"/>
<ellipse cx="14" cy="190" rx="3.5" ry="2.2" fill="#e8509c" fill-opacity="0.45" filter="url(#bl1)"/>
<ellipse cx="24.7" cy="150.8" rx="0.95" ry="0.95" fill="#4a1828" fill-opacity="1"/>
<ellipse cx="17.8" cy="156.3" rx="0.85" ry="0.85" fill="#4a1828" fill-opacity="1"/>
<ellipse cx="5.6" cy="160" rx="0.85" ry="0.85" fill="#4a1828" fill-opacity="1"/>
<ellipse cx="16" cy="167" rx="0.75" ry="0.75" fill="#4a1828" fill-opacity="1"/>
<ellipse cx="46.3" cy="156.7" rx="0.95" ry="0.95" fill="#4a1828" fill-opacity="1"/>
<ellipse cx="47.6" cy="158.2" rx="0.8" ry="0.8" fill="#4a1828" fill-opacity="1"/>
<ellipse cx="34.7" cy="175.4" rx="0.85" ry="0.85" fill="#4a1828" fill-opacity="1"/>
<ellipse cx="24" cy="183.3" rx="0.85" ry="0.85" fill="#4a1828" fill-opacity="1"/>
<ellipse cx="1.8" cy="180.4" rx="0.8" ry="0.8" fill="#4a1828" fill-opacity="1"/>
<ellipse cx="58" cy="195" rx="2" ry="3" fill="#d8307a" fill-opacity="1" filter="url(#bl1)"/>
</g>
<g clip-path="url(#cb1)">
<rect x="62.5" y="148.5" width="58.0" height="50.0" fill="#f9efd4"/>
<ellipse cx="97" cy="166.5" rx="26" ry="10.5" fill="#ee88c9" fill-opacity="0.95" filter="url(#bl2)" transform="rotate(-10 97 166.5)"/>
<ellipse cx="69" cy="183" rx="9" ry="19" fill="#ee88c9" fill-opacity="0.95" filter="url(#bl2)"/>
<ellipse cx="67" cy="154" rx="7" ry="7" fill="#f096cf" fill-opacity="1" filter="url(#bl2)"/>
<ellipse cx="108" cy="166" rx="10" ry="9" fill="#ec80c4" fill-opacity="1" filter="url(#bl2)"/>
<ellipse cx="117" cy="189" rx="7" ry="10" fill="#ee88c9" fill-opacity="1" filter="url(#bl2)"/>
<ellipse cx="104" cy="178" rx="5" ry="4.5" fill="#ee8ac8" fill-opacity="1" filter="url(#bl2)"/>
<ellipse cx="86" cy="160" rx="8" ry="4" fill="#f2a4d6" fill-opacity="1" filter="url(#bl2)"/>
<ellipse cx="80" cy="173" rx="6" ry="5" fill="#f0a0d4" fill-opacity="1" filter="url(#bl2)"/>
<ellipse cx="66.7" cy="154.2" rx="5.0" ry="5.0" fill="#e462b0" fill-opacity="0.85" filter="url(#bl1)"/>
<ellipse cx="66.7" cy="154.2" rx="3.4" ry="3.57" fill="#d91f78" fill-opacity="1" filter="url(#bl1)"/>
<ellipse cx="69.0" cy="176.9" rx="6.199999999999999" ry="6.199999999999999" fill="#e462b0" fill-opacity="0.85" filter="url(#bl1)"/>
<ellipse cx="69.0" cy="176.9" rx="4.6" ry="4.83" fill="#d91f78" fill-opacity="1" filter="url(#bl1)"/>
<ellipse cx="90.9" cy="172.2" rx="5.800000000000001" ry="5.800000000000001" fill="#e462b0" fill-opacity="0.85" filter="url(#bl1)"/>
<ellipse cx="90.9" cy="172.2" rx="4.2" ry="4.41" fill="#d91f78" fill-opacity="1" filter="url(#bl1)"/>
<ellipse cx="106.5" cy="164.4" rx="5.800000000000001" ry="5.800000000000001" fill="#e462b0" fill-opacity="0.85" filter="url(#bl1)"/>
<ellipse cx="106.5" cy="164.4" rx="4.2" ry="4.41" fill="#d91f78" fill-opacity="1" filter="url(#bl1)"/>
<ellipse cx="117.8" cy="187.0" rx="6.0" ry="6.0" fill="#e462b0" fill-opacity="0.85" filter="url(#bl1)"/>
<ellipse cx="117.8" cy="187.0" rx="4.4" ry="4.620000000000001" fill="#d91f78" fill-opacity="1" filter="url(#bl1)"/>
<ellipse cx="65.1" cy="192.3" rx="6.4" ry="6.4" fill="#e462b0" fill-opacity="0.85" filter="url(#bl1)"/>
<ellipse cx="65.1" cy="192.3" rx="4.8" ry="5.04" fill="#d91f78" fill-opacity="1" filter="url(#bl1)"/>
<ellipse cx="104.2" cy="177.7" rx="2.4" ry="2.4" fill="#e46ab6" fill-opacity="1" filter="url(#bl1)"/>
<ellipse cx="80" cy="163" rx="0.9" ry="0.9" fill="#fbe6f2" fill-opacity="1"/>
<ellipse cx="83" cy="166" rx="0.9" ry="0.9" fill="#fbe6f2" fill-opacity="1"/>
<ellipse cx="85" cy="161" rx="0.9" ry="0.9" fill="#fbe6f2" fill-opacity="1"/>
<ellipse cx="97" cy="163" rx="0.9" ry="0.9" fill="#fbe6f2" fill-opacity="1"/>
<ellipse cx="99" cy="167" rx="0.9" ry="0.9" fill="#fbe6f2" fill-opacity="1"/>
<ellipse cx="101" cy="160" rx="0.9" ry="0.9" fill="#fbe6f2" fill-opacity="1"/>
<ellipse cx="94" cy="178" rx="0.9" ry="0.9" fill="#fbe6f2" fill-opacity="1"/>
<ellipse cx="76" cy="170" rx="0.9" ry="0.9" fill="#fbe6f2" fill-opacity="1"/>
<ellipse cx="111" cy="172" rx="0.9" ry="0.9" fill="#fbe6f2" fill-opacity="1"/>
<ellipse cx="88" cy="165" rx="0.9" ry="0.9" fill="#fbe6f2" fill-opacity="1"/>
<ellipse cx="95" cy="159" rx="0.9" ry="0.9" fill="#fbe6f2" fill-opacity="1"/>
<ellipse cx="79" cy="158" rx="0.9" ry="0.9" fill="#fbe6f2" fill-opacity="1"/>
</g>
<g clip-path="url(#cb2)">
<rect x="125.5" y="148.5" width="58.0" height="50.0" fill="#fae4a4"/>
<ellipse cx="170.5" cy="179" rx="15.5" ry="22.5" fill="#f1b8cc" fill-opacity="0.95" filter="url(#bl1)"/>
<ellipse cx="171" cy="179" rx="13.5" ry="20.5" fill="#f6cad4" fill-opacity="0.95" filter="url(#bl2)"/>
<ellipse cx="143" cy="187" rx="13.5" ry="12.5" fill="#f3c0cc" fill-opacity="0.9" filter="url(#bl1)"/>
<ellipse cx="143" cy="187" rx="11" ry="10" fill="#f7d0d6" fill-opacity="0.8" filter="url(#bl2)"/>
<ellipse cx="133" cy="199" rx="10" ry="4" fill="#f2b4c8" fill-opacity="1" filter="url(#bl2)"/>
<path d="M155.5 165 Q153.5 179 156 197" stroke="#fbeee0" stroke-width="1.0" fill="none" filter="url(#bl1)"/>
<ellipse cx="162.9" cy="176.5" rx="6.6" ry="11.2" fill="#dc2a80" fill-opacity="1" filter="url(#bl1)" transform="rotate(15 162.9 176.5)"/>
<ellipse cx="163.5" cy="176" rx="3.8" ry="7.5" fill="#e65098" fill-opacity="0.7" filter="url(#bl1)" transform="rotate(15 163.5 176)"/>
<path d="M136.5 176 Q140 171.5 146 173 Q151 172 154 176.5 Q153.5 181 151 183.5 Q148.5 179.5 145 180 Q140.5 181 139.5 185 Q136 181 136.5 176 Z" fill="#da2a7e" filter="url(#bl1)"/>
<ellipse cx="146.3" cy="185.7" rx="4.4" ry="4.6" fill="#f0a0c0" fill-opacity="1" filter="url(#bl1)"/>
<ellipse cx="176.5" cy="183" rx="0.8" ry="0.8" fill="#c04080" fill-opacity="1"/>
</g>
<g clip-path="url(#cb3)">
<rect x="187.6" y="148.5" width="57.900000000000006" height="50.0" fill="#f8e6dc"/>
<ellipse cx="192" cy="160" rx="5" ry="8" fill="#f9efd8" fill-opacity="1" filter="url(#bl2)"/>
<ellipse cx="218" cy="172" rx="17" ry="20" fill="#e26cbd" fill-opacity="0.9" filter="url(#bl2)"/>
<ellipse cx="219" cy="156" rx="9.5" ry="8" fill="#dc56b4" fill-opacity="1" filter="url(#bl1)"/>
<ellipse cx="232.5" cy="161" rx="7" ry="7.5" fill="#de5cb6" fill-opacity="1" filter="url(#bl1)"/>
<ellipse cx="207" cy="170.5" rx="8.5" ry="8.5" fill="#dc58b4" fill-opacity="1" filter="url(#bl1)"/>
<ellipse cx="232" cy="176" rx="7.5" ry="10.5" fill="#dc56b4" fill-opacity="1" filter="url(#bl1)"/>
<ellipse cx="218.5" cy="184" rx="9.5" ry="8" fill="#de5cb6" fill-opacity="1" filter="url(#bl1)"/>
<ellipse cx="203.5" cy="181" rx="6" ry="5" fill="#e064b8" fill-opacity="1" filter="url(#bl1)"/>
<ellipse cx="202.6" cy="196" rx="8.5" ry="4.5" fill="#dc58b4" fill-opacity="1" filter="url(#bl1)"/>
<ellipse cx="222" cy="168" rx="6" ry="6" fill="#e46ebd" fill-opacity="1" filter="url(#bl1)"/>
<ellipse cx="205.8" cy="168.3" rx="5.6" ry="6.0" fill="#d63c98" fill-opacity="0.8" filter="url(#bl1)"/>
<ellipse cx="205.8" cy="168.3" rx="4.8" ry="5.2" fill="#c81a78" fill-opacity="1" filter="url(#bl1)"/>
<ellipse cx="223.0" cy="154.3" rx="4.8" ry="4.6" fill="#d63c98" fill-opacity="0.8" filter="url(#bl1)"/>
<ellipse cx="223.0" cy="154.3" rx="4.0" ry="3.8" fill="#c81a78" fill-opacity="1" filter="url(#bl1)"/>
<ellipse cx="229.2" cy="160.5" rx="4.2" ry="4.0" fill="#d63c98" fill-opacity="0.8" filter="url(#bl1)"/>
<ellipse cx="229.2" cy="160.5" rx="3.4" ry="3.2" fill="#c81a78" fill-opacity="1" filter="url(#bl1)"/>
<ellipse cx="232.3" cy="170.0" rx="5.2" ry="6.2" fill="#d63c98" fill-opacity="0.8" filter="url(#bl1)" transform="rotate(10 232.3 170.0)"/>
<ellipse cx="232.3" cy="170.0" rx="4.4" ry="5.4" fill="#c81a78" fill-opacity="1" filter="url(#bl1)" transform="rotate(10 232.3 170.0)"/>
<ellipse cx="217.5" cy="183.2" rx="4.8" ry="7.0" fill="#d63c98" fill-opacity="0.8" filter="url(#bl1)"/>
<ellipse cx="217.5" cy="183.2" rx="4.0" ry="6.2" fill="#c81a78" fill-opacity="1" filter="url(#bl1)"/>
<ellipse cx="201.8" cy="181.6" rx="3.8" ry="3.4000000000000004" fill="#d63c98" fill-opacity="0.8" filter="url(#bl1)"/>
<ellipse cx="201.8" cy="181.6" rx="3.0" ry="2.6" fill="#c81a78" fill-opacity="1" filter="url(#bl1)"/>
<ellipse cx="202.6" cy="195.2" rx="5.8" ry="3.8" fill="#d63c98" fill-opacity="0.8" filter="url(#bl1)"/>
<ellipse cx="202.6" cy="195.2" rx="5.0" ry="3.0" fill="#c81a78" fill-opacity="1" filter="url(#bl1)"/>
<ellipse cx="214.5" cy="163.5" rx="3.4000000000000004" ry="3.4000000000000004" fill="#d63c98" fill-opacity="0.8" filter="url(#bl1)"/>
<ellipse cx="214.5" cy="163.5" rx="2.6" ry="2.6" fill="#c81a78" fill-opacity="1" filter="url(#bl1)"/>
<ellipse cx="236.5" cy="182" rx="3.3" ry="3.8" fill="#d63c98" fill-opacity="0.8" filter="url(#bl1)"/>
<ellipse cx="236.5" cy="182" rx="2.5" ry="3" fill="#c81a78" fill-opacity="1" filter="url(#bl1)"/>
<ellipse cx="213" cy="152" rx="3.3" ry="2.8" fill="#d63c98" fill-opacity="0.8" filter="url(#bl1)"/>
<ellipse cx="213" cy="152" rx="2.5" ry="2" fill="#c81a78" fill-opacity="1" filter="url(#bl1)"/>
<path d="M198 177.5 Q206 173.5 213 175.5 Q219 176 224.5 173 Q230 170.5 235.5 165.5" stroke="#fbe0f0" stroke-width="0.9" fill="none"/>
<path d="M224.5 163 L225 169 M225.5 157 L227 152 M212 188 Q218 179.5 227 181" stroke="#fbe0f0" stroke-width="0.75" fill="none"/>
<ellipse cx="236.5" cy="196" rx="4" ry="3" fill="#e03c9c" fill-opacity="1" filter="url(#bl1)"/>
</g>
<rect x="1.3" y="148.5" width="58.00" height="50.0" fill="none" stroke="#3a3028" stroke-width="1"/>
<rect x="62.5" y="148.5" width="58.00" height="50.0" fill="none" stroke="#3a3028" stroke-width="1"/>
<rect x="125.5" y="148.5" width="58.00" height="50.0" fill="none" stroke="#3a3028" stroke-width="1"/>
<rect x="187.6" y="148.5" width="57.90" height="50.0" fill="none" stroke="#3a3028" stroke-width="1"/>
<text x="56.00" y="195.80" font-size="7.0" font-weight="bold" text-anchor="end" fill="#111" >*20&#177;5</text>
<text x="116.40" y="195.80" font-size="7.0" font-weight="bold" text-anchor="end" fill="#111" >42&#177;6*</text>
<text x="180.40" y="195.80" font-size="7.0" font-weight="bold" text-anchor="end" fill="#111" >23&#177;3</text>
<text x="240.10" y="195.80" font-size="7.0" font-weight="bold" text-anchor="end" fill="#111" >44&#177;7*</text>
<g stroke="#333" stroke-width="1.2">
<line x1="5" y1="206.3" x2="35" y2="206.3"/><line x1="86.3" y1="206.3" x2="113" y2="206.3"/>
<line x1="130" y1="206.3" x2="162.5" y2="206.3"/><line x1="208.3" y1="206.3" x2="238" y2="206.3"/>
</g>
<path d="M117.8 206.3 L112.2 204.0 L112.2 208.6 Z M242.8 206.3 L237.2 204.0 L237.2 208.6 Z" fill="#222"/>
<text x="61.00" y="208.80" font-size="7.0" font-weight="bold" text-anchor="middle" fill="#111" >GM-DCs</text>
<text x="185.20" y="208.80" font-size="7.0" font-weight="bold" text-anchor="middle" fill="#111" >FL-DCs</text>
<text x="287.60" y="18.80" font-size="6.6" font-weight="bold" text-anchor="middle" fill="#111" >DC type</text>
<text x="321.00" y="18.80" font-size="6.6" font-weight="bold" text-anchor="middle" fill="#111" >Stimuli</text>
<text x="287.50" y="37.75" font-size="6.9" font-weight="normal" text-anchor="middle" fill="#111" >GM</text>
<text x="321.20" y="37.75" font-size="6.9" font-weight="normal" text-anchor="middle" fill="#111" >&#8211;</text>
<text x="287.50" y="45.35" font-size="6.9" font-weight="normal" text-anchor="middle" fill="#111" >GM</text>
<text x="321.20" y="45.35" font-size="6.9" font-weight="normal" text-anchor="middle" fill="#111" >Zym</text>
<text x="287.50" y="52.95" font-size="6.9" font-weight="normal" text-anchor="middle" fill="#111" >GM</text>
<text x="321.20" y="52.95" font-size="6.9" font-weight="normal" text-anchor="middle" fill="#111" >Conidia</text>
<text x="287.50" y="60.55" font-size="6.9" font-weight="normal" text-anchor="middle" fill="#111" >T&#945;1-GM</text>
<text x="321.20" y="60.55" font-size="6.9" font-weight="normal" text-anchor="middle" fill="#111" >Conidia</text>
<text x="287.50" y="68.15" font-size="6.9" font-weight="normal" text-anchor="middle" fill="#111" >FL</text>
<text x="321.20" y="68.15" font-size="6.9" font-weight="normal" text-anchor="middle" fill="#111" >&#8211;</text>
<text x="287.50" y="75.75" font-size="6.9" font-weight="normal" text-anchor="middle" fill="#111" >FL</text>
<text x="321.20" y="75.75" font-size="6.9" font-weight="normal" text-anchor="middle" fill="#111" >CpG</text>
<text x="287.50" y="83.35" font-size="6.9" font-weight="normal" text-anchor="middle" fill="#111" >FL</text>
<text x="321.20" y="83.35" font-size="6.9" font-weight="normal" text-anchor="middle" fill="#111" >Conidia</text>
<text x="287.50" y="90.95" font-size="6.9" font-weight="normal" text-anchor="middle" fill="#111" >T&#945;1-FL</text>
<text x="321.20" y="90.95" font-size="6.9" font-weight="normal" text-anchor="middle" fill="#111" >Conidia</text>
<text x="287.50" y="140.60" font-size="6.9" font-weight="normal" text-anchor="middle" fill="#111" >GM</text>
<text x="321.20" y="140.60" font-size="6.9" font-weight="normal" text-anchor="middle" fill="#111" >&#8211;</text>
<text x="287.50" y="148.02" font-size="6.9" font-weight="normal" text-anchor="middle" fill="#111" >GM</text>
<text x="321.20" y="148.02" font-size="6.9" font-weight="normal" text-anchor="middle" fill="#111" >Zym</text>
<text x="287.50" y="155.44" font-size="6.9" font-weight="normal" text-anchor="middle" fill="#111" >GM</text>
<text x="321.20" y="155.44" font-size="6.9" font-weight="normal" text-anchor="middle" fill="#111" >Conidia</text>
<text x="287.50" y="162.86" font-size="6.9" font-weight="normal" text-anchor="middle" fill="#111" >T&#945;1-GM</text>
<text x="321.20" y="162.86" font-size="6.9" font-weight="normal" text-anchor="middle" fill="#111" >Conidia</text>
<text x="287.50" y="170.28" font-size="6.9" font-weight="normal" text-anchor="middle" fill="#111" >FL</text>
<text x="321.20" y="170.28" font-size="6.9" font-weight="normal" text-anchor="middle" fill="#111" >&#8211;</text>
<text x="287.50" y="177.70" font-size="6.9" font-weight="normal" text-anchor="middle" fill="#111" >FL</text>
<text x="321.20" y="177.70" font-size="6.9" font-weight="normal" text-anchor="middle" fill="#111" >CpG</text>
<text x="287.50" y="185.12" font-size="6.9" font-weight="normal" text-anchor="middle" fill="#111" >FL</text>
<text x="321.20" y="185.12" font-size="6.9" font-weight="normal" text-anchor="middle" fill="#111" >Conidia</text>
<text x="287.50" y="192.54" font-size="6.9" font-weight="normal" text-anchor="middle" fill="#111" >T&#945;1-FL</text>
<text x="321.20" y="192.54" font-size="6.9" font-weight="normal" text-anchor="middle" fill="#111" >Conidia</text>
<text x="366.00" y="10.70" font-size="6.4" font-weight="bold" text-anchor="middle" fill="#111" >IL-12 p70</text>
<text transform="translate(342.30,23.30) scale(0.52,1)" font-size="8.8" font-weight="bold" text-anchor="middle" fill="#111" style="stroke-width:0.5px">0</text>
<text transform="translate(366.80,23.30) scale(0.52,1)" font-size="8.8" font-weight="bold" text-anchor="middle" fill="#111" style="stroke-width:0.5px">50</text>
<text transform="translate(391.30,23.30) scale(0.52,1)" font-size="8.8" font-weight="bold" text-anchor="middle" fill="#111" style="stroke-width:0.5px">100</text>
<line x1="342.3" y1="34.2" x2="391.3" y2="34.2" stroke="#888" stroke-width="0.8"/>
<line x1="342.30" y1="31.800000000000004" x2="342.30" y2="34.2" stroke="#aaa" stroke-width="0.6"/>
<line x1="366.80" y1="31.800000000000004" x2="366.80" y2="34.2" stroke="#aaa" stroke-width="0.6"/>
<line x1="391.30" y1="31.800000000000004" x2="391.30" y2="34.2" stroke="#aaa" stroke-width="0.6"/>
<path d="M342.3 35.00H343.50V41.95H370.60V48.90H362.60V55.85H386.20V62.80H342.3Z" fill="#1c1c1c"/>
<path d="M342.3 64.60H343.50V71.45H349.00V78.30H354.00V85.15H360.00V92.00H342.3Z" fill="#1c1c1c"/>
<line x1="370.60" y1="45.43" x2="373.60" y2="45.43" stroke="#888" stroke-width="0.5"/>
<line x1="373.60" y1="44.53" x2="373.60" y2="46.33" stroke="#888" stroke-width="0.5"/>
<circle cx="377.80" cy="44.83" r="0.85" fill="#151515"/>
<line x1="362.60" y1="52.38" x2="365.10" y2="52.38" stroke="#888" stroke-width="0.5"/>
<line x1="365.10" y1="51.48" x2="365.10" y2="53.27" stroke="#888" stroke-width="0.5"/>
<circle cx="369.80" cy="51.77" r="0.85" fill="#151515"/>
<line x1="386.20" y1="59.32" x2="389.70" y2="59.32" stroke="#888" stroke-width="0.5"/>
<line x1="389.70" y1="58.42" x2="389.70" y2="60.22" stroke="#888" stroke-width="0.5"/>
<circle cx="392.85" cy="58.72" r="0.85" fill="#151515"/><circle cx="395.75" cy="58.72" r="0.85" fill="#151515"/>
<line x1="349.00" y1="74.87" x2="351.00" y2="74.87" stroke="#888" stroke-width="0.5"/>
<line x1="351.00" y1="73.97" x2="351.00" y2="75.77" stroke="#888" stroke-width="0.5"/>
<circle cx="353.50" cy="74.27" r="0.85" fill="#151515"/>
<line x1="354.00" y1="81.72" x2="356.50" y2="81.72" stroke="#888" stroke-width="0.5"/>
<line x1="356.50" y1="80.82" x2="356.50" y2="82.62" stroke="#888" stroke-width="0.5"/>
<circle cx="360.80" cy="81.12" r="0.85" fill="#151515"/>
<line x1="360.00" y1="88.58" x2="362.50" y2="88.58" stroke="#888" stroke-width="0.5"/>
<line x1="362.50" y1="87.67" x2="362.50" y2="89.48" stroke="#888" stroke-width="0.5"/>
<circle cx="366.75" cy="87.98" r="0.85" fill="#151515"/><circle cx="369.65" cy="87.98" r="0.85" fill="#151515"/>
<line x1="342.7" y1="34.0" x2="342.7" y2="62.8" stroke="#111" stroke-width="1"/>
<line x1="342.7" y1="64.6" x2="342.7" y2="92.0" stroke="#111" stroke-width="1"/>
<text x="429.30" y="10.70" font-size="6.4" font-weight="bold" text-anchor="middle" fill="#111" >IL-10</text>
<text transform="translate(405.70,23.30) scale(0.52,1)" font-size="8.8" font-weight="bold" text-anchor="middle" fill="#111" style="stroke-width:0.5px">0</text>
<text transform="translate(429.95,23.30) scale(0.52,1)" font-size="8.8" font-weight="bold" text-anchor="middle" fill="#111" style="stroke-width:0.5px">250</text>
<text transform="translate(454.20,23.30) scale(0.52,1)" font-size="8.8" font-weight="bold" text-anchor="middle" fill="#111" style="stroke-width:0.5px">500</text>
<line x1="405.7" y1="34.2" x2="454.2" y2="34.2" stroke="#888" stroke-width="0.8"/>
<line x1="405.70" y1="31.800000000000004" x2="405.70" y2="34.2" stroke="#aaa" stroke-width="0.6"/>
<line x1="429.95" y1="31.800000000000004" x2="429.95" y2="34.2" stroke="#aaa" stroke-width="0.6"/>
<line x1="454.20" y1="31.800000000000004" x2="454.20" y2="34.2" stroke="#aaa" stroke-width="0.6"/>
<path d="M405.7 35.00H406.90V41.95H409.50V48.90H409.10V55.85H419.00V62.80H405.7Z" fill="#1c1c1c"/>
<path d="M405.7 64.60H407.70V71.45H428.40V78.30H428.00V85.15H439.80V92.00H405.7Z" fill="#1c1c1c"/>
<line x1="419.00" y1="59.32" x2="421.50" y2="59.32" stroke="#888" stroke-width="0.5"/>
<line x1="421.50" y1="58.42" x2="421.50" y2="60.22" stroke="#888" stroke-width="0.5"/>
<circle cx="425.15" cy="58.72" r="0.85" fill="#151515"/><circle cx="428.05" cy="58.72" r="0.85" fill="#151515"/>
<line x1="428.40" y1="74.87" x2="431.40" y2="74.87" stroke="#888" stroke-width="0.5"/>
<line x1="431.40" y1="73.97" x2="431.40" y2="75.77" stroke="#888" stroke-width="0.5"/>
<circle cx="435.90" cy="74.27" r="0.85" fill="#151515"/>
<line x1="428.00" y1="81.72" x2="431.00" y2="81.72" stroke="#888" stroke-width="0.5"/>
<line x1="431.00" y1="80.82" x2="431.00" y2="82.62" stroke="#888" stroke-width="0.5"/>
<circle cx="435.60" cy="81.12" r="0.85" fill="#151515"/>
<line x1="439.80" y1="88.58" x2="443.30" y2="88.58" stroke="#888" stroke-width="0.5"/>
<line x1="443.30" y1="87.67" x2="443.30" y2="89.48" stroke="#888" stroke-width="0.5"/>
<circle cx="446.85" cy="87.98" r="0.85" fill="#151515"/><circle cx="449.75" cy="87.98" r="0.85" fill="#151515"/>
<line x1="406.09999999999997" y1="34.0" x2="406.09999999999997" y2="62.8" stroke="#111" stroke-width="1"/>
<line x1="406.09999999999997" y1="64.6" x2="406.09999999999997" y2="92.0" stroke="#111" stroke-width="1"/>
<text x="490.70" y="10.90" font-size="6.4" font-weight="bold" text-anchor="middle" fill="#111" >IFN-&#945;</text>
<text transform="translate(467.20,23.30) scale(0.52,1)" font-size="8.8" font-weight="bold" text-anchor="middle" fill="#111" style="stroke-width:0.5px">0</text>
<text transform="translate(491.30,23.30) scale(0.52,1)" font-size="8.8" font-weight="bold" text-anchor="middle" fill="#111" style="stroke-width:0.5px">750</text>
<text transform="translate(515.40,23.30) scale(0.52,1)" font-size="8.8" font-weight="bold" text-anchor="middle" fill="#111" style="stroke-width:0.5px">1500</text>
<line x1="467.2" y1="34.2" x2="515.4" y2="34.2" stroke="#888" stroke-width="0.8"/>
<line x1="467.20" y1="31.800000000000004" x2="467.20" y2="34.2" stroke="#aaa" stroke-width="0.6"/>
<line x1="491.30" y1="31.800000000000004" x2="491.30" y2="34.2" stroke="#aaa" stroke-width="0.6"/>
<line x1="515.40" y1="31.800000000000004" x2="515.40" y2="34.2" stroke="#aaa" stroke-width="0.6"/>
<path d="M467.2 35.00H468.10V41.95H468.10V48.90H472.00V55.85H480.00V62.80H467.2Z" fill="#1c1c1c"/>
<path d="M467.2 64.60H468.80V71.45H492.30V78.30H480.70V85.15H505.00V92.00H467.2Z" fill="#1c1c1c"/>
<line x1="472.00" y1="52.38" x2="473.50" y2="52.38" stroke="#888" stroke-width="0.5"/>
<line x1="473.50" y1="51.48" x2="473.50" y2="53.27" stroke="#888" stroke-width="0.5"/>
<circle cx="477.00" cy="51.77" r="0.85" fill="#151515"/>
<line x1="480.00" y1="59.32" x2="482.50" y2="59.32" stroke="#888" stroke-width="0.5"/>
<line x1="482.50" y1="58.42" x2="482.50" y2="60.22" stroke="#888" stroke-width="0.5"/>
<circle cx="484.75" cy="58.72" r="0.85" fill="#151515"/><circle cx="487.65" cy="58.72" r="0.85" fill="#151515"/>
<line x1="492.30" y1="74.87" x2="494.80" y2="74.87" stroke="#888" stroke-width="0.5"/>
<line x1="494.80" y1="73.97" x2="494.80" y2="75.77" stroke="#888" stroke-width="0.5"/>
<circle cx="499.10" cy="74.27" r="0.85" fill="#151515"/>
<line x1="480.70" y1="81.72" x2="483.20" y2="81.72" stroke="#888" stroke-width="0.5"/>
<line x1="483.20" y1="80.82" x2="483.20" y2="82.62" stroke="#888" stroke-width="0.5"/>
<circle cx="487.10" cy="81.12" r="0.85" fill="#151515"/>
<line x1="505.00" y1="88.58" x2="508.50" y2="88.58" stroke="#888" stroke-width="0.5"/>
<line x1="508.50" y1="87.67" x2="508.50" y2="89.48" stroke="#888" stroke-width="0.5"/>
<circle cx="512.45" cy="87.98" r="0.85" fill="#151515"/><circle cx="515.35" cy="87.98" r="0.85" fill="#151515"/>
<line x1="467.59999999999997" y1="34.0" x2="467.59999999999997" y2="62.8" stroke="#111" stroke-width="1"/>
<line x1="467.59999999999997" y1="64.6" x2="467.59999999999997" y2="92.0" stroke="#111" stroke-width="1"/>
<text x="366.30" y="114.50" font-size="6.4" font-weight="bold" text-anchor="middle" fill="#111" >IFN-&#947;</text>
<text transform="translate(342.20,125.90) scale(0.52,1)" font-size="8.8" font-weight="bold" text-anchor="middle" fill="#111" style="stroke-width:0.5px">0</text>
<text transform="translate(366.70,125.90) scale(0.52,1)" font-size="8.8" font-weight="bold" text-anchor="middle" fill="#111" style="stroke-width:0.5px">300</text>
<text transform="translate(391.20,125.90) scale(0.52,1)" font-size="8.8" font-weight="bold" text-anchor="middle" fill="#111" style="stroke-width:0.5px">600</text>
<line x1="342.2" y1="136.1" x2="391.2" y2="136.1" stroke="#888" stroke-width="0.8"/>
<line x1="342.20" y1="133.7" x2="342.20" y2="136.1" stroke="#aaa" stroke-width="0.6"/>
<line x1="366.70" y1="133.7" x2="366.70" y2="136.1" stroke="#aaa" stroke-width="0.6"/>
<line x1="391.20" y1="133.7" x2="391.20" y2="136.1" stroke="#aaa" stroke-width="0.6"/>
<path d="M342.2 137.40H347.60V144.10H367.00V150.80H365.50V157.50H381.10V164.20H342.2Z" fill="#1c1c1c"/>
<path d="M342.2 166.60H344.70V173.28H364.00V179.95H361.90V186.62H372.00V193.30H342.2Z" fill="#1c1c1c"/>
<line x1="367.00" y1="147.45" x2="369.50" y2="147.45" stroke="#888" stroke-width="0.5"/>
<line x1="369.50" y1="146.55" x2="369.50" y2="148.35" stroke="#888" stroke-width="0.5"/>
<circle cx="375.00" cy="146.85" r="0.85" fill="#151515"/>
<line x1="365.50" y1="154.15" x2="368.00" y2="154.15" stroke="#888" stroke-width="0.5"/>
<line x1="368.00" y1="153.25" x2="368.00" y2="155.05" stroke="#888" stroke-width="0.5"/>
<circle cx="373.50" cy="153.55" r="0.85" fill="#151515"/>
<line x1="381.10" y1="160.85" x2="384.60" y2="160.85" stroke="#888" stroke-width="0.5"/>
<line x1="384.60" y1="159.95" x2="384.60" y2="161.75" stroke="#888" stroke-width="0.5"/>
<circle cx="390.15" cy="160.25" r="0.85" fill="#151515"/><circle cx="393.05" cy="160.25" r="0.85" fill="#151515"/>
<line x1="364.00" y1="176.61" x2="366.50" y2="176.61" stroke="#888" stroke-width="0.5"/>
<line x1="366.50" y1="175.71" x2="366.50" y2="177.51" stroke="#888" stroke-width="0.5"/>
<circle cx="370.80" cy="176.01" r="0.85" fill="#151515"/>
<line x1="361.90" y1="183.29" x2="364.40" y2="183.29" stroke="#888" stroke-width="0.5"/>
<line x1="364.40" y1="182.39" x2="364.40" y2="184.19" stroke="#888" stroke-width="0.5"/>
<circle cx="369.20" cy="182.69" r="0.85" fill="#151515"/>
<line x1="372.00" y1="189.96" x2="374.50" y2="189.96" stroke="#888" stroke-width="0.5"/>
<line x1="374.50" y1="189.06" x2="374.50" y2="190.86" stroke="#888" stroke-width="0.5"/>
<circle cx="378.25" cy="189.36" r="0.85" fill="#151515"/><circle cx="381.15" cy="189.36" r="0.85" fill="#151515"/>
<line x1="342.59999999999997" y1="136.4" x2="342.59999999999997" y2="164.2" stroke="#111" stroke-width="1"/>
<line x1="342.59999999999997" y1="166.6" x2="342.59999999999997" y2="193.3" stroke="#111" stroke-width="1"/>
<text x="428.40" y="114.10" font-size="6.4" font-weight="bold" text-anchor="middle" fill="#111" >IL-4</text>
<text transform="translate(404.40,125.60) scale(0.52,1)" font-size="8.8" font-weight="bold" text-anchor="middle" fill="#111" style="stroke-width:0.5px">0</text>
<text transform="translate(428.85,125.60) scale(0.52,1)" font-size="8.8" font-weight="bold" text-anchor="middle" fill="#111" style="stroke-width:0.5px">50</text>
<text transform="translate(453.30,125.60) scale(0.52,1)" font-size="8.8" font-weight="bold" text-anchor="middle" fill="#111" style="stroke-width:0.5px">100</text>
<line x1="404.4" y1="136.1" x2="453.3" y2="136.1" stroke="#888" stroke-width="0.8"/>
<line x1="404.40" y1="133.7" x2="404.40" y2="136.1" stroke="#aaa" stroke-width="0.6"/>
<line x1="428.85" y1="133.7" x2="428.85" y2="136.1" stroke="#aaa" stroke-width="0.6"/>
<line x1="453.30" y1="133.7" x2="453.30" y2="136.1" stroke="#aaa" stroke-width="0.6"/>
<path d="M404.4 137.40H406.60V144.10H406.80V150.80H406.80V157.50H406.80V164.20H404.4Z" fill="#1c1c1c"/>
<path d="M404.4 166.60H405.80V173.28H408.00V179.95H408.00V186.62H407.80V193.30H404.4Z" fill="#1c1c1c"/>
<line x1="404.79999999999995" y1="136.4" x2="404.79999999999995" y2="164.2" stroke="#111" stroke-width="1"/>
<line x1="404.79999999999995" y1="166.6" x2="404.79999999999995" y2="193.3" stroke="#111" stroke-width="1"/>
<text x="491.30" y="114.10" font-size="6.4" font-weight="bold" text-anchor="middle" fill="#111" >IL-10</text>
<text transform="translate(467.20,125.60) scale(0.52,1)" font-size="8.8" font-weight="bold" text-anchor="middle" fill="#111" style="stroke-width:0.5px">0</text>
<text transform="translate(491.40,125.60) scale(0.52,1)" font-size="8.8" font-weight="bold" text-anchor="middle" fill="#111" style="stroke-width:0.5px">225</text>
<text transform="translate(515.60,125.60) scale(0.52,1)" font-size="8.8" font-weight="bold" text-anchor="middle" fill="#111" style="stroke-width:0.5px">450</text>
<line x1="467.2" y1="136.1" x2="515.6" y2="136.1" stroke="#888" stroke-width="0.8"/>
<line x1="467.20" y1="133.7" x2="467.20" y2="136.1" stroke="#aaa" stroke-width="0.6"/>
<line x1="491.40" y1="133.7" x2="491.40" y2="136.1" stroke="#aaa" stroke-width="0.6"/>
<line x1="515.60" y1="133.7" x2="515.60" y2="136.1" stroke="#aaa" stroke-width="0.6"/>
<path d="M467.2 137.40H468.20V144.10H471.10V150.80H469.80V157.50H480.70V164.20H467.2Z" fill="#1c1c1c"/>
<path d="M467.2 166.60H469.80V173.28H488.40V179.95H496.80V186.62H507.80V193.30H467.2Z" fill="#1c1c1c"/>
<circle cx="475.80" cy="146.85" r="0.85" fill="#151515"/>
<circle cx="474.10" cy="153.55" r="0.85" fill="#151515"/>
<line x1="480.70" y1="160.85" x2="483.20" y2="160.85" stroke="#888" stroke-width="0.5"/>
<line x1="483.20" y1="159.95" x2="483.20" y2="161.75" stroke="#888" stroke-width="0.5"/>
<circle cx="486.95" cy="160.25" r="0.85" fill="#151515"/><circle cx="489.85" cy="160.25" r="0.85" fill="#151515"/>
<line x1="488.40" y1="176.61" x2="491.40" y2="176.61" stroke="#888" stroke-width="0.5"/>
<line x1="491.40" y1="175.71" x2="491.40" y2="177.51" stroke="#888" stroke-width="0.5"/>
<circle cx="497.10" cy="176.01" r="0.85" fill="#151515"/>
<line x1="496.80" y1="183.29" x2="499.80" y2="183.29" stroke="#888" stroke-width="0.5"/>
<line x1="499.80" y1="182.39" x2="499.80" y2="184.19" stroke="#888" stroke-width="0.5"/>
<circle cx="505.40" cy="182.69" r="0.85" fill="#151515"/>
<line x1="507.80" y1="189.96" x2="511.30" y2="189.96" stroke="#888" stroke-width="0.5"/>
<line x1="511.30" y1="189.06" x2="511.30" y2="190.86" stroke="#888" stroke-width="0.5"/>
<circle cx="515.75" cy="189.36" r="0.85" fill="#151515"/><circle cx="518.65" cy="189.36" r="0.85" fill="#151515"/>
<line x1="467.59999999999997" y1="136.4" x2="467.59999999999997" y2="164.2" stroke="#111" stroke-width="1"/>
<line x1="467.59999999999997" y1="166.6" x2="467.59999999999997" y2="193.3" stroke="#111" stroke-width="1"/>
<line x1="38.4" y1="241.8" x2="38.4" y2="301.2" stroke="#222" stroke-width="1.1"/>
<line x1="37.9" y1="301.2" x2="136.3" y2="301.2" stroke="#222" stroke-width="1.1"/>
<line x1="36.8" y1="301.20" x2="38.4" y2="301.20" stroke="#222" stroke-width="0.9"/>
<text x="35.40" y="303.80" font-size="7.2" font-weight="bold" text-anchor="end" fill="#111" >0</text>
<line x1="36.8" y1="286.35" x2="38.4" y2="286.35" stroke="#222" stroke-width="0.9"/>
<text x="35.40" y="288.95" font-size="7.2" font-weight="bold" text-anchor="end" fill="#111" >200</text>
<line x1="36.8" y1="271.50" x2="38.4" y2="271.50" stroke="#222" stroke-width="0.9"/>
<text x="35.40" y="274.10" font-size="7.2" font-weight="bold" text-anchor="end" fill="#111" >400</text>
<line x1="36.8" y1="256.65" x2="38.4" y2="256.65" stroke="#222" stroke-width="0.9"/>
<text x="35.40" y="259.25" font-size="7.2" font-weight="bold" text-anchor="end" fill="#111" >600</text>
<line x1="36.8" y1="241.80" x2="38.4" y2="241.80" stroke="#222" stroke-width="0.9"/>
<text x="35.40" y="244.40" font-size="7.2" font-weight="bold" text-anchor="end" fill="#111" >800</text>
<line x1="50.0" y1="301.2" x2="50.0" y2="302.59999999999997" stroke="#222" stroke-width="0.8"/>
<circle cx="50.0" cy="271" r="1.0" fill="#111"/>
<circle cx="50.0" cy="277.9" r="1.0" fill="#111"/>
<circle cx="50.0" cy="283.4" r="1.0" fill="#111"/>
<circle cx="50.0" cy="287.8" r="1.0" fill="#111"/>
<circle cx="50.0" cy="292.0" r="1.0" fill="#111"/>
<line x1="50.0" y1="281.60" x2="50.0" y2="285.40" stroke="#111" stroke-width="1.3"/>
<line x1="46.40" y1="281.60" x2="53.60" y2="281.60" stroke="#111" stroke-width="1.3"/>
<line x1="64.8" y1="301.2" x2="64.8" y2="302.59999999999997" stroke="#222" stroke-width="0.8"/>
<circle cx="64.8" cy="247.4" r="1.0" fill="#111"/>
<circle cx="64.8" cy="253.0" r="1.0" fill="#111"/>
<circle cx="64.8" cy="254.2" r="1.0" fill="#111"/>
<circle cx="64.8" cy="263.6" r="1.0" fill="#111"/>
<circle cx="64.8" cy="269.3" r="1.0" fill="#111"/>
<line x1="64.8" y1="253.20" x2="64.8" y2="257.70" stroke="#111" stroke-width="1.3"/>
<line x1="61.20" y1="257.70" x2="68.40" y2="257.70" stroke="#111" stroke-width="1.3"/>
<circle cx="71.4" cy="257.3" r="0.9" fill="#1a1a1a"/>
<line x1="81.0" y1="301.2" x2="81.0" y2="302.59999999999997" stroke="#222" stroke-width="0.8"/>
<circle cx="81.0" cy="246.6" r="1.0" fill="#111"/>
<circle cx="81.0" cy="252.8" r="1.0" fill="#111"/>
<circle cx="81.0" cy="254.4" r="1.0" fill="#111"/>
<circle cx="81.0" cy="266.4" r="1.0" fill="#111"/>
<circle cx="81.0" cy="271.5" r="1.0" fill="#111"/>
<line x1="81.0" y1="254.90" x2="81.0" y2="261.90" stroke="#111" stroke-width="1.3"/>
<line x1="77.40" y1="261.90" x2="84.60" y2="261.90" stroke="#111" stroke-width="1.3"/>
<circle cx="87.2" cy="261.6" r="0.9" fill="#1a1a1a"/>
<line x1="97.75" y1="301.2" x2="97.75" y2="302.59999999999997" stroke="#222" stroke-width="0.8"/>
<circle cx="97.75" cy="261.9" r="1.0" fill="#111"/>
<circle cx="97.75" cy="266.7" r="1.0" fill="#111"/>
<circle cx="97.75" cy="268.3" r="1.0" fill="#111"/>
<circle cx="97.75" cy="271.25" r="1.0" fill="#111"/>
<circle cx="97.75" cy="283.5" r="1.0" fill="#111"/>
<line x1="97.75" y1="275.70" x2="97.75" y2="278.70" stroke="#111" stroke-width="1.3"/>
<line x1="94.15" y1="275.70" x2="101.35" y2="275.70" stroke="#111" stroke-width="1.3"/>
<line x1="114.1" y1="301.2" x2="114.1" y2="302.59999999999997" stroke="#222" stroke-width="0.8"/>
<circle cx="114.1" cy="266" r="1.0" fill="#111"/>
<circle cx="114.1" cy="273.1" r="1.0" fill="#111"/>
<circle cx="114.1" cy="274.9" r="1.0" fill="#111"/>
<circle cx="114.1" cy="276.9" r="1.0" fill="#111"/>
<circle cx="114.1" cy="288.2" r="1.0" fill="#111"/>
<line x1="114.1" y1="281.60" x2="114.1" y2="284.80" stroke="#111" stroke-width="1.3"/>
<line x1="110.50" y1="281.60" x2="117.70" y2="281.60" stroke="#111" stroke-width="1.3"/>
<line x1="130.0" y1="301.2" x2="130.0" y2="302.59999999999997" stroke="#222" stroke-width="0.8"/>
<circle cx="130.0" cy="288.1" r="1.0" fill="#111"/>
<circle cx="130.0" cy="290.4" r="1.0" fill="#111"/>
<circle cx="130.0" cy="292.5" r="1.0" fill="#111"/>
<circle cx="130.0" cy="297.0" r="1.0" fill="#111"/>
<circle cx="130.0" cy="299.0" r="1.0" fill="#111"/>
<line x1="130.0" y1="292.30" x2="130.0" y2="297.80" stroke="#111" stroke-width="1.3"/>
<line x1="126.40" y1="295.30" x2="133.60" y2="295.30" stroke="#111" stroke-width="1.3"/>
<circle cx="136.79999999999998" cy="294.6" r="0.9" fill="#1a1a1a"/><circle cx="139.6" cy="294.6" r="0.9" fill="#1a1a1a"/>
<line x1="186.8" y1="241.6" x2="186.8" y2="300.9" stroke="#222" stroke-width="1.1"/>
<line x1="186.3" y1="300.9" x2="283.8" y2="300.9" stroke="#222" stroke-width="1.1"/>
<line x1="185.20000000000002" y1="300.90" x2="186.8" y2="300.90" stroke="#222" stroke-width="0.9"/>
<text x="183.80" y="303.50" font-size="7.2" font-weight="bold" text-anchor="end" fill="#111" >0</text>
<line x1="185.20000000000002" y1="286.07" x2="186.8" y2="286.07" stroke="#222" stroke-width="0.9"/>
<text x="183.80" y="288.68" font-size="7.2" font-weight="bold" text-anchor="end" fill="#111" >200</text>
<line x1="185.20000000000002" y1="271.25" x2="186.8" y2="271.25" stroke="#222" stroke-width="0.9"/>
<text x="183.80" y="273.85" font-size="7.2" font-weight="bold" text-anchor="end" fill="#111" >400</text>
<line x1="185.20000000000002" y1="256.43" x2="186.8" y2="256.43" stroke="#222" stroke-width="0.9"/>
<text x="183.80" y="259.03" font-size="7.2" font-weight="bold" text-anchor="end" fill="#111" >600</text>
<line x1="185.20000000000002" y1="241.60" x2="186.8" y2="241.60" stroke="#222" stroke-width="0.9"/>
<text x="183.80" y="244.20" font-size="7.2" font-weight="bold" text-anchor="end" fill="#111" >800</text>
<line x1="197.5" y1="300.9" x2="197.5" y2="302.29999999999995" stroke="#222" stroke-width="0.8"/>
<circle cx="197.5" cy="252.9" r="1.0" fill="#111"/>
<circle cx="197.5" cy="258.1" r="1.0" fill="#111"/>
<circle cx="197.5" cy="265.0" r="1.0" fill="#111"/>
<circle cx="197.5" cy="270.6" r="1.0" fill="#111"/>
<circle cx="197.5" cy="274.4" r="1.0" fill="#111"/>
<line x1="197.5" y1="262.75" x2="197.5" y2="265.55" stroke="#111" stroke-width="1.3"/>
<line x1="193.90" y1="262.75" x2="201.10" y2="262.75" stroke="#111" stroke-width="1.3"/>
<line x1="212.75" y1="300.9" x2="212.75" y2="302.29999999999995" stroke="#222" stroke-width="0.8"/>
<circle cx="212.75" cy="246.9" r="1.0" fill="#111"/>
<circle cx="212.75" cy="252.5" r="1.0" fill="#111"/>
<circle cx="212.75" cy="255.0" r="1.0" fill="#111"/>
<circle cx="212.75" cy="260.6" r="1.0" fill="#111"/>
<circle cx="212.75" cy="273.75" r="1.0" fill="#111"/>
<line x1="212.75" y1="254.25" x2="212.75" y2="259.25" stroke="#111" stroke-width="1.3"/>
<line x1="209.15" y1="257.25" x2="216.35" y2="257.25" stroke="#111" stroke-width="1.3"/>
<line x1="228.6" y1="300.9" x2="228.6" y2="302.29999999999995" stroke="#222" stroke-width="0.8"/>
<circle cx="228.6" cy="253.5" r="1.0" fill="#111"/>
<circle cx="228.6" cy="255.6" r="1.0" fill="#111"/>
<circle cx="228.6" cy="257.5" r="1.0" fill="#111"/>
<circle cx="228.6" cy="266.9" r="1.0" fill="#111"/>
<circle cx="228.6" cy="274.0" r="1.0" fill="#111"/>
<line x1="228.6" y1="254.10" x2="228.6" y2="261.60" stroke="#111" stroke-width="1.3"/>
<line x1="225.00" y1="261.60" x2="232.20" y2="261.60" stroke="#111" stroke-width="1.3"/>
<line x1="245.6" y1="300.9" x2="245.6" y2="302.29999999999995" stroke="#222" stroke-width="0.8"/>
<circle cx="245.6" cy="261.2" r="1.0" fill="#111"/>
<circle cx="245.6" cy="265.8" r="1.0" fill="#111"/>
<circle cx="245.6" cy="276.2" r="1.0" fill="#111"/>
<circle cx="245.6" cy="282.1" r="1.0" fill="#111"/>
<line x1="245.6" y1="265.80" x2="245.6" y2="272.80" stroke="#111" stroke-width="1.3"/>
<line x1="242.00" y1="269.80" x2="249.20" y2="269.80" stroke="#111" stroke-width="1.3"/>
<line x1="261.9" y1="300.9" x2="261.9" y2="302.29999999999995" stroke="#222" stroke-width="0.8"/>
<circle cx="261.9" cy="260.2" r="1.0" fill="#111"/>
<circle cx="261.9" cy="271.4" r="1.0" fill="#111"/>
<circle cx="261.9" cy="277.5" r="1.0" fill="#111"/>
<circle cx="261.9" cy="279.5" r="1.0" fill="#111"/>
<circle cx="261.9" cy="281.0" r="1.0" fill="#111"/>
<line x1="261.9" y1="274.80" x2="261.9" y2="280.80" stroke="#111" stroke-width="1.3"/>
<line x1="258.30" y1="274.80" x2="265.50" y2="274.80" stroke="#111" stroke-width="1.3"/>
<text x="283.50" y="297.00" font-size="7.0" font-weight="bold" text-anchor="end" fill="#111" >nd</text>
<text transform="translate(6.4,270.7) rotate(-90)" font-size="7.9" font-weight="bold" text-anchor="middle" fill="#111"><tspan font-style="italic">Aspergillus</tspan>-specific</text>
<text transform="translate(16.3,270.0) rotate(-90)" font-size="7.9" font-weight="bold" text-anchor="middle" fill="#111">CD4<tspan font-size="4.6" dy="-2.6">+</tspan><tspan dy="2.6"> cells (&#215; 10</tspan><tspan font-size="4.6" dy="-2.6">3</tspan><tspan dy="2.6">)</tspan></text>
<text transform="translate(155.4,271.6) rotate(-90)" font-size="7.9" font-weight="bold" text-anchor="middle" fill="#111">Alloreactive CD4<tspan font-size="4.6" dy="-2.6">+</tspan></text>
<text transform="translate(165.1,269.3) rotate(-90)" font-size="7.9" font-weight="bold" text-anchor="middle" fill="#111">cells (&#215; 10<tspan font-size="4.6" dy="-2.6">3</tspan><tspan dy="2.6">)</tspan></text>
<text x="20.00" y="315.60" font-size="7.2" font-weight="bold" text-anchor="start" fill="#111" >DCs</text>
<text transform="translate(48.60,313.40) rotate(-45)" font-size="7.3" font-weight="bold" text-anchor="middle" fill="#111">&#8212;</text>
<text transform="translate(61.48,316.48) rotate(-45)" font-size="7.3" font-weight="bold" text-anchor="middle" fill="#111">GM</text>
<text transform="translate(77.68,317.68) rotate(-45)" font-size="7.3" font-weight="bold" text-anchor="middle" fill="#111">T&#945;1-GM</text>
<text transform="translate(96.88,316.88) rotate(-45)" font-size="7.3" font-weight="bold" text-anchor="middle" fill="#111">FL</text>
<text transform="translate(111.98,317.68) rotate(-45)" font-size="7.3" font-weight="bold" text-anchor="middle" fill="#111">T&#945;1-FL</text>
<text transform="translate(130.18,317.48) rotate(-45)" font-size="7.3" font-weight="bold" text-anchor="middle" fill="#111">HSCT</text>
<text transform="translate(197.00,313.40) rotate(-45)" font-size="7.3" font-weight="bold" text-anchor="middle" fill="#111">&#8212;</text>
<text transform="translate(209.88,316.48) rotate(-45)" font-size="7.3" font-weight="bold" text-anchor="middle" fill="#111">GM</text>
<text transform="translate(226.08,317.68) rotate(-45)" font-size="7.3" font-weight="bold" text-anchor="middle" fill="#111">T&#945;1-GM</text>
<text transform="translate(245.28,316.88) rotate(-45)" font-size="7.3" font-weight="bold" text-anchor="middle" fill="#111">FL</text>
<text transform="translate(260.38,317.68) rotate(-45)" font-size="7.3" font-weight="bold" text-anchor="middle" fill="#111">T&#945;1-FL</text>
<text transform="translate(278.58,317.48) rotate(-45)" font-size="7.3" font-weight="bold" text-anchor="middle" fill="#111">HSCT</text>
</svg></body></html>
